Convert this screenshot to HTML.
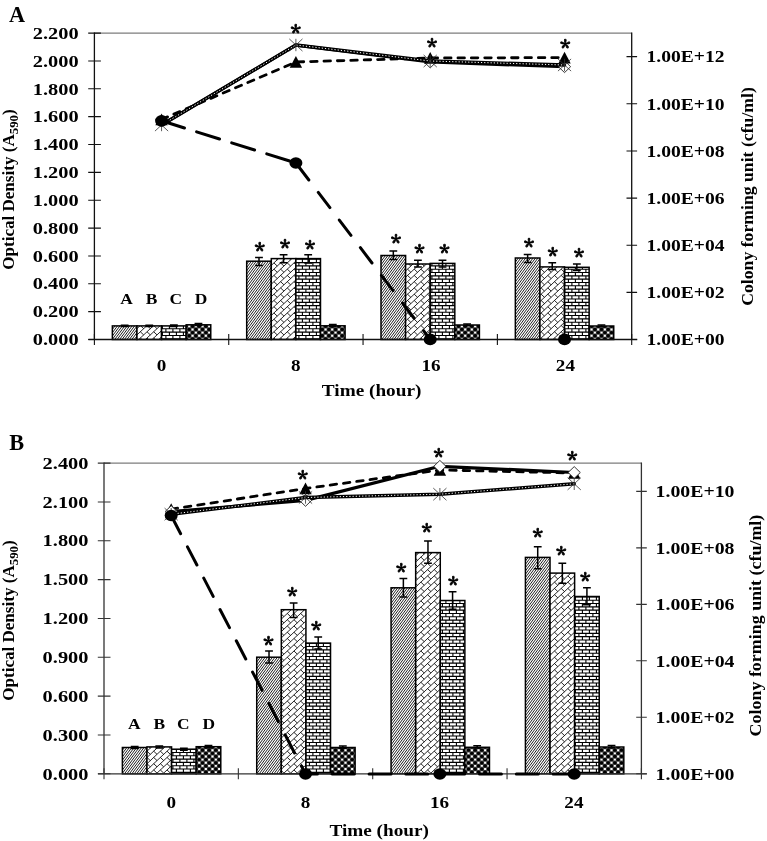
<!DOCTYPE html>
<html lang="en"><head><meta charset="utf-8"><title>Figure</title>
<style>html,body{margin:0;padding:0;background:#fff}svg{display:block}</style></head><body>
<svg width="767" height="841" viewBox="0 0 767 841">
<rect width="767" height="841" fill="#fff"/>
<g id="chartA">
<clipPath id="cA00"><rect x="112.36" y="325.90" width="24.60" height="13.60"/></clipPath>
<g clip-path="url(#cA00)"><rect x="112.36" y="325.9" width="24.6" height="13.6" fill="#fff"/><path d="M111.36,320.93L137.96,285.21M111.36,324.22L137.96,288.5M111.36,327.51L137.96,291.79M111.36,330.8L137.96,295.08M111.36,334.09L137.96,298.37M111.36,337.38L137.96,301.66M111.36,340.67L137.96,304.95M111.36,343.96L137.96,308.24M111.36,347.25L137.96,311.53M111.36,350.54L137.96,314.82M111.36,353.83L137.96,318.11M111.36,357.12L137.96,321.4M111.36,360.41L137.96,324.69M111.36,363.7L137.96,327.98M111.36,366.99L137.96,331.27M111.36,370.28L137.96,334.56M111.36,373.57L137.96,337.85M111.36,376.86L137.96,341.14M111.36,380.15L137.96,344.43" stroke="#000" stroke-width="0.88" fill="none"/></g>
<rect x="112.36" y="325.90" width="24.60" height="13.60" fill="none" stroke="#000" stroke-width="1.5"/>
<clipPath id="cA01"><rect x="136.96" y="325.90" width="24.60" height="13.60"/></clipPath>
<g clip-path="url(#cA01)"><rect x="136.96" y="325.9" width="24.6" height="13.6" fill="#fff"/><path d="M135.96,317.07L162.56,292.15M135.96,323.33L162.56,298.41M135.96,329.59L162.56,304.67M135.96,335.85L162.56,310.93M135.96,342.11L162.56,317.19M135.96,348.37L162.56,323.45M135.96,354.63L162.56,329.71M135.96,360.89L162.56,335.97M135.96,367.15L162.56,342.23M135.96,373.41L162.56,348.49M120.28,312.99L123.62,316.12M120.28,319.25L123.62,322.38M120.28,325.51L123.62,328.64M120.28,331.77L123.62,334.9M120.28,338.03L123.62,341.16M120.28,344.29L123.62,347.42M126.96,312.99L130.3,316.12M126.96,319.25L130.3,322.38M126.96,325.51L130.3,328.64M126.96,331.77L130.3,334.9M126.96,338.03L130.3,341.16M126.96,344.29L130.3,347.42M133.64,312.99L136.98,316.12M133.64,319.25L136.98,322.38M133.64,325.51L136.98,328.64M133.64,331.77L136.98,334.9M133.64,338.03L136.98,341.16M133.64,344.29L136.98,347.42M140.32,312.99L143.66,316.12M140.32,319.25L143.66,322.38M140.32,325.51L143.66,328.64M140.32,331.77L143.66,334.9M140.32,338.03L143.66,341.16M140.32,344.29L143.66,347.42M147,312.99L150.34,316.12M147,319.25L150.34,322.38M147,325.51L150.34,328.64M147,331.77L150.34,334.9M147,338.03L150.34,341.16M147,344.29L150.34,347.42M153.68,312.99L157.02,316.12M153.68,319.25L157.02,322.38M153.68,325.51L157.02,328.64M153.68,331.77L157.02,334.9M153.68,338.03L157.02,341.16M153.68,344.29L157.02,347.42M160.36,312.99L163.7,316.12M160.36,319.25L163.7,322.38M160.36,325.51L163.7,328.64M160.36,331.77L163.7,334.9M160.36,338.03L163.7,341.16M160.36,344.29L163.7,347.42M167.04,312.99L170.38,316.12M167.04,319.25L170.38,322.38M167.04,325.51L170.38,328.64M167.04,331.77L170.38,334.9M167.04,338.03L170.38,341.16M167.04,344.29L170.38,347.42" stroke="#000" stroke-width="0.85" fill="none"/></g>
<rect x="136.96" y="325.90" width="24.60" height="13.60" fill="none" stroke="#000" stroke-width="1.5"/>
<clipPath id="cA02"><rect x="161.56" y="325.90" width="24.60" height="13.60"/></clipPath>
<g clip-path="url(#cA02)"><rect x="161.56" y="325.9" width="24.6" height="13.6" fill="#fff"/><path d="M160.56,322.19H187.16M151.9,322.19v3.31M158.9,322.19v3.31M165.9,322.19v3.31M172.9,322.19v3.31M179.9,322.19v3.31M186.9,322.19v3.31M193.9,322.19v3.31M160.56,325.5H187.16M148.4,325.5v3.31M155.4,325.5v3.31M162.4,325.5v3.31M169.4,325.5v3.31M176.4,325.5v3.31M183.4,325.5v3.31M190.4,325.5v3.31M197.4,325.5v3.31M160.56,328.81H187.16M151.9,328.81v3.31M158.9,328.81v3.31M165.9,328.81v3.31M172.9,328.81v3.31M179.9,328.81v3.31M186.9,328.81v3.31M193.9,328.81v3.31M160.56,332.12H187.16M148.4,332.12v3.31M155.4,332.12v3.31M162.4,332.12v3.31M169.4,332.12v3.31M176.4,332.12v3.31M183.4,332.12v3.31M190.4,332.12v3.31M197.4,332.12v3.31M160.56,335.43H187.16M151.9,335.43v3.31M158.9,335.43v3.31M165.9,335.43v3.31M172.9,335.43v3.31M179.9,335.43v3.31M186.9,335.43v3.31M193.9,335.43v3.31M160.56,338.74H187.16M148.4,338.74v3.31M155.4,338.74v3.31M162.4,338.74v3.31M169.4,338.74v3.31M176.4,338.74v3.31M183.4,338.74v3.31M190.4,338.74v3.31M197.4,338.74v3.31M160.56,342.05H187.16M151.9,342.05v3.31M158.9,342.05v3.31M165.9,342.05v3.31M172.9,342.05v3.31M179.9,342.05v3.31M186.9,342.05v3.31M193.9,342.05v3.31M160.56,345.36H187.16M148.4,345.36v3.31M155.4,345.36v3.31M162.4,345.36v3.31M169.4,345.36v3.31M176.4,345.36v3.31M183.4,345.36v3.31M190.4,345.36v3.31M197.4,345.36v3.31" stroke="#000" stroke-width="1.1" fill="none"/></g>
<rect x="161.56" y="325.90" width="24.60" height="13.60" fill="none" stroke="#000" stroke-width="1.5"/>
<clipPath id="cA03"><rect x="186.16" y="324.80" width="24.60" height="14.70"/></clipPath>
<g clip-path="url(#cA03)"><rect x="186.16" y="324.8" width="24.6" height="14.7" fill="#4a4a4a"/><g fill="#000"><ellipse cx="189.22" cy="323.16" rx="1.75" ry="1.62"/><ellipse cx="185.9" cy="326.3" rx="1.75" ry="1.62"/><ellipse cx="189.22" cy="329.44" rx="1.75" ry="1.62"/><ellipse cx="185.9" cy="332.58" rx="1.75" ry="1.62"/><ellipse cx="189.22" cy="335.72" rx="1.75" ry="1.62"/><ellipse cx="185.9" cy="338.86" rx="1.75" ry="1.62"/><ellipse cx="195.87" cy="323.16" rx="1.75" ry="1.62"/><ellipse cx="192.55" cy="326.3" rx="1.75" ry="1.62"/><ellipse cx="195.87" cy="329.44" rx="1.75" ry="1.62"/><ellipse cx="192.55" cy="332.58" rx="1.75" ry="1.62"/><ellipse cx="195.87" cy="335.72" rx="1.75" ry="1.62"/><ellipse cx="192.55" cy="338.86" rx="1.75" ry="1.62"/><ellipse cx="202.52" cy="323.16" rx="1.75" ry="1.62"/><ellipse cx="199.2" cy="326.3" rx="1.75" ry="1.62"/><ellipse cx="202.52" cy="329.44" rx="1.75" ry="1.62"/><ellipse cx="199.2" cy="332.58" rx="1.75" ry="1.62"/><ellipse cx="202.52" cy="335.72" rx="1.75" ry="1.62"/><ellipse cx="199.2" cy="338.86" rx="1.75" ry="1.62"/><ellipse cx="209.17" cy="323.16" rx="1.75" ry="1.62"/><ellipse cx="205.85" cy="326.3" rx="1.75" ry="1.62"/><ellipse cx="209.17" cy="329.44" rx="1.75" ry="1.62"/><ellipse cx="205.85" cy="332.58" rx="1.75" ry="1.62"/><ellipse cx="209.17" cy="335.72" rx="1.75" ry="1.62"/><ellipse cx="205.85" cy="338.86" rx="1.75" ry="1.62"/><ellipse cx="212.5" cy="326.3" rx="1.75" ry="1.62"/><ellipse cx="212.5" cy="332.58" rx="1.75" ry="1.62"/><ellipse cx="212.5" cy="338.86" rx="1.75" ry="1.62"/></g><path d="M184.85,322.21h2.1v1.9h-2.1zM188.17,325.35h2.1v1.9h-2.1zM184.85,328.49h2.1v1.9h-2.1zM188.17,331.63h2.1v1.9h-2.1zM184.85,334.77h2.1v1.9h-2.1zM188.17,337.91h2.1v1.9h-2.1zM191.5,322.21h2.1v1.9h-2.1zM194.82,325.35h2.1v1.9h-2.1zM191.5,328.49h2.1v1.9h-2.1zM194.82,331.63h2.1v1.9h-2.1zM191.5,334.77h2.1v1.9h-2.1zM194.82,337.91h2.1v1.9h-2.1zM198.15,322.21h2.1v1.9h-2.1zM201.47,325.35h2.1v1.9h-2.1zM198.15,328.49h2.1v1.9h-2.1zM201.47,331.63h2.1v1.9h-2.1zM198.15,334.77h2.1v1.9h-2.1zM201.47,337.91h2.1v1.9h-2.1zM204.8,322.21h2.1v1.9h-2.1zM208.12,325.35h2.1v1.9h-2.1zM204.8,328.49h2.1v1.9h-2.1zM208.12,331.63h2.1v1.9h-2.1zM204.8,334.77h2.1v1.9h-2.1zM208.12,337.91h2.1v1.9h-2.1zM211.45,322.21h2.1v1.9h-2.1zM211.45,328.49h2.1v1.9h-2.1zM211.45,334.77h2.1v1.9h-2.1z" fill="#fff"/></g>
<rect x="186.16" y="324.80" width="24.60" height="14.70" fill="none" stroke="#000" stroke-width="1.5"/>
<clipPath id="cA10"><rect x="246.69" y="261.20" width="24.60" height="78.30"/></clipPath>
<g clip-path="url(#cA10)"><rect x="246.69" y="261.2" width="24.6" height="78.3" fill="#fff"/><path d="M245.69,258.99L272.29,223.27M245.69,262.28L272.29,226.56M245.69,265.57L272.29,229.85M245.69,268.86L272.29,233.14M245.69,272.15L272.29,236.43M245.69,275.44L272.29,239.72M245.69,278.73L272.29,243.01M245.69,282.02L272.29,246.3M245.69,285.31L272.29,249.59M245.69,288.6L272.29,252.88M245.69,291.89L272.29,256.17M245.69,295.18L272.29,259.46M245.69,298.47L272.29,262.75M245.69,301.76L272.29,266.04M245.69,305.05L272.29,269.33M245.69,308.34L272.29,272.62M245.69,311.63L272.29,275.91M245.69,314.92L272.29,279.2M245.69,318.21L272.29,282.49M245.69,321.5L272.29,285.78M245.69,324.79L272.29,289.07M245.69,328.08L272.29,292.36M245.69,331.37L272.29,295.65M245.69,334.66L272.29,298.94M245.69,337.95L272.29,302.23M245.69,341.24L272.29,305.52M245.69,344.53L272.29,308.81M245.69,347.82L272.29,312.1M245.69,351.11L272.29,315.39M245.69,354.4L272.29,318.68M245.69,357.69L272.29,321.97M245.69,360.98L272.29,325.26M245.69,364.27L272.29,328.55M245.69,367.56L272.29,331.84M245.69,370.85L272.29,335.13M245.69,374.14L272.29,338.42M245.69,377.43L272.29,341.71" stroke="#000" stroke-width="0.88" fill="none"/></g>
<rect x="246.69" y="261.20" width="24.60" height="78.30" fill="none" stroke="#000" stroke-width="1.5"/>
<clipPath id="cA11"><rect x="271.29" y="258.60" width="24.60" height="80.90"/></clipPath>
<g clip-path="url(#cA11)"><rect x="271.29" y="258.6" width="24.6" height="80.9" fill="#fff"/><path d="M270.29,247.53L296.89,222.61M270.29,253.79L296.89,228.87M270.29,260.05L296.89,235.13M270.29,266.31L296.89,241.39M270.29,272.57L296.89,247.65M270.29,278.83L296.89,253.91M270.29,285.09L296.89,260.17M270.29,291.35L296.89,266.43M270.29,297.61L296.89,272.69M270.29,303.87L296.89,278.95M270.29,310.13L296.89,285.21M270.29,316.39L296.89,291.47M270.29,322.65L296.89,297.73M270.29,328.91L296.89,303.99M270.29,335.17L296.89,310.25M270.29,341.43L296.89,316.51M270.29,347.69L296.89,322.77M270.29,353.95L296.89,329.03M270.29,360.21L296.89,335.29M270.29,366.47L296.89,341.55M270.29,372.73L296.89,347.81M260.56,244.13L263.9,247.26M260.56,250.39L263.9,253.52M260.56,256.65L263.9,259.78M260.56,262.91L263.9,266.04M260.56,269.17L263.9,272.3M260.56,275.43L263.9,278.56M260.56,281.69L263.9,284.82M260.56,287.95L263.9,291.08M260.56,294.21L263.9,297.34M260.56,300.47L263.9,303.6M260.56,306.73L263.9,309.86M260.56,312.99L263.9,316.12M260.56,319.25L263.9,322.38M260.56,325.51L263.9,328.64M260.56,331.77L263.9,334.9M260.56,338.03L263.9,341.16M260.56,344.29L263.9,347.42M267.24,244.13L270.58,247.26M267.24,250.39L270.58,253.52M267.24,256.65L270.58,259.78M267.24,262.91L270.58,266.04M267.24,269.17L270.58,272.3M267.24,275.43L270.58,278.56M267.24,281.69L270.58,284.82M267.24,287.95L270.58,291.08M267.24,294.21L270.58,297.34M267.24,300.47L270.58,303.6M267.24,306.73L270.58,309.86M267.24,312.99L270.58,316.12M267.24,319.25L270.58,322.38M267.24,325.51L270.58,328.64M267.24,331.77L270.58,334.9M267.24,338.03L270.58,341.16M267.24,344.29L270.58,347.42M273.92,244.13L277.26,247.26M273.92,250.39L277.26,253.52M273.92,256.65L277.26,259.78M273.92,262.91L277.26,266.04M273.92,269.17L277.26,272.3M273.92,275.43L277.26,278.56M273.92,281.69L277.26,284.82M273.92,287.95L277.26,291.08M273.92,294.21L277.26,297.34M273.92,300.47L277.26,303.6M273.92,306.73L277.26,309.86M273.92,312.99L277.26,316.12M273.92,319.25L277.26,322.38M273.92,325.51L277.26,328.64M273.92,331.77L277.26,334.9M273.92,338.03L277.26,341.16M273.92,344.29L277.26,347.42M280.6,244.13L283.94,247.26M280.6,250.39L283.94,253.52M280.6,256.65L283.94,259.78M280.6,262.91L283.94,266.04M280.6,269.17L283.94,272.3M280.6,275.43L283.94,278.56M280.6,281.69L283.94,284.82M280.6,287.95L283.94,291.08M280.6,294.21L283.94,297.34M280.6,300.47L283.94,303.6M280.6,306.73L283.94,309.86M280.6,312.99L283.94,316.12M280.6,319.25L283.94,322.38M280.6,325.51L283.94,328.64M280.6,331.77L283.94,334.9M280.6,338.03L283.94,341.16M280.6,344.29L283.94,347.42M287.28,244.13L290.62,247.26M287.28,250.39L290.62,253.52M287.28,256.65L290.62,259.78M287.28,262.91L290.62,266.04M287.28,269.17L290.62,272.3M287.28,275.43L290.62,278.56M287.28,281.69L290.62,284.82M287.28,287.95L290.62,291.08M287.28,294.21L290.62,297.34M287.28,300.47L290.62,303.6M287.28,306.73L290.62,309.86M287.28,312.99L290.62,316.12M287.28,319.25L290.62,322.38M287.28,325.51L290.62,328.64M287.28,331.77L290.62,334.9M287.28,338.03L290.62,341.16M287.28,344.29L290.62,347.42M293.96,244.13L297.3,247.26M293.96,250.39L297.3,253.52M293.96,256.65L297.3,259.78M293.96,262.91L297.3,266.04M293.96,269.17L297.3,272.3M293.96,275.43L297.3,278.56M293.96,281.69L297.3,284.82M293.96,287.95L297.3,291.08M293.96,294.21L297.3,297.34M293.96,300.47L297.3,303.6M293.96,306.73L297.3,309.86M293.96,312.99L297.3,316.12M293.96,319.25L297.3,322.38M293.96,325.51L297.3,328.64M293.96,331.77L297.3,334.9M293.96,338.03L297.3,341.16M293.96,344.29L297.3,347.42M300.64,244.13L303.98,247.26M300.64,250.39L303.98,253.52M300.64,256.65L303.98,259.78M300.64,262.91L303.98,266.04M300.64,269.17L303.98,272.3M300.64,275.43L303.98,278.56M300.64,281.69L303.98,284.82M300.64,287.95L303.98,291.08M300.64,294.21L303.98,297.34M300.64,300.47L303.98,303.6M300.64,306.73L303.98,309.86M300.64,312.99L303.98,316.12M300.64,319.25L303.98,322.38M300.64,325.51L303.98,328.64M300.64,331.77L303.98,334.9M300.64,338.03L303.98,341.16M300.64,344.29L303.98,347.42" stroke="#000" stroke-width="0.85" fill="none"/></g>
<rect x="271.29" y="258.60" width="24.60" height="80.90" fill="none" stroke="#000" stroke-width="1.5"/>
<clipPath id="cA12"><rect x="295.89" y="258.60" width="24.60" height="80.90"/></clipPath>
<g clip-path="url(#cA12)"><rect x="295.89" y="258.6" width="24.6" height="80.9" fill="#fff"/><path d="M294.89,252.68H321.49M288.4,252.68v3.31M295.4,252.68v3.31M302.4,252.68v3.31M309.4,252.68v3.31M316.4,252.68v3.31M323.4,252.68v3.31M330.4,252.68v3.31M294.89,255.99H321.49M284.9,255.99v3.31M291.9,255.99v3.31M298.9,255.99v3.31M305.9,255.99v3.31M312.9,255.99v3.31M319.9,255.99v3.31M326.9,255.99v3.31M333.9,255.99v3.31M294.89,259.3H321.49M288.4,259.3v3.31M295.4,259.3v3.31M302.4,259.3v3.31M309.4,259.3v3.31M316.4,259.3v3.31M323.4,259.3v3.31M330.4,259.3v3.31M294.89,262.61H321.49M284.9,262.61v3.31M291.9,262.61v3.31M298.9,262.61v3.31M305.9,262.61v3.31M312.9,262.61v3.31M319.9,262.61v3.31M326.9,262.61v3.31M333.9,262.61v3.31M294.89,265.92H321.49M288.4,265.92v3.31M295.4,265.92v3.31M302.4,265.92v3.31M309.4,265.92v3.31M316.4,265.92v3.31M323.4,265.92v3.31M330.4,265.92v3.31M294.89,269.23H321.49M284.9,269.23v3.31M291.9,269.23v3.31M298.9,269.23v3.31M305.9,269.23v3.31M312.9,269.23v3.31M319.9,269.23v3.31M326.9,269.23v3.31M333.9,269.23v3.31M294.89,272.54H321.49M288.4,272.54v3.31M295.4,272.54v3.31M302.4,272.54v3.31M309.4,272.54v3.31M316.4,272.54v3.31M323.4,272.54v3.31M330.4,272.54v3.31M294.89,275.85H321.49M284.9,275.85v3.31M291.9,275.85v3.31M298.9,275.85v3.31M305.9,275.85v3.31M312.9,275.85v3.31M319.9,275.85v3.31M326.9,275.85v3.31M333.9,275.85v3.31M294.89,279.16H321.49M288.4,279.16v3.31M295.4,279.16v3.31M302.4,279.16v3.31M309.4,279.16v3.31M316.4,279.16v3.31M323.4,279.16v3.31M330.4,279.16v3.31M294.89,282.47H321.49M284.9,282.47v3.31M291.9,282.47v3.31M298.9,282.47v3.31M305.9,282.47v3.31M312.9,282.47v3.31M319.9,282.47v3.31M326.9,282.47v3.31M333.9,282.47v3.31M294.89,285.78H321.49M288.4,285.78v3.31M295.4,285.78v3.31M302.4,285.78v3.31M309.4,285.78v3.31M316.4,285.78v3.31M323.4,285.78v3.31M330.4,285.78v3.31M294.89,289.09H321.49M284.9,289.09v3.31M291.9,289.09v3.31M298.9,289.09v3.31M305.9,289.09v3.31M312.9,289.09v3.31M319.9,289.09v3.31M326.9,289.09v3.31M333.9,289.09v3.31M294.89,292.4H321.49M288.4,292.4v3.31M295.4,292.4v3.31M302.4,292.4v3.31M309.4,292.4v3.31M316.4,292.4v3.31M323.4,292.4v3.31M330.4,292.4v3.31M294.89,295.71H321.49M284.9,295.71v3.31M291.9,295.71v3.31M298.9,295.71v3.31M305.9,295.71v3.31M312.9,295.71v3.31M319.9,295.71v3.31M326.9,295.71v3.31M333.9,295.71v3.31M294.89,299.02H321.49M288.4,299.02v3.31M295.4,299.02v3.31M302.4,299.02v3.31M309.4,299.02v3.31M316.4,299.02v3.31M323.4,299.02v3.31M330.4,299.02v3.31M294.89,302.33H321.49M284.9,302.33v3.31M291.9,302.33v3.31M298.9,302.33v3.31M305.9,302.33v3.31M312.9,302.33v3.31M319.9,302.33v3.31M326.9,302.33v3.31M333.9,302.33v3.31M294.89,305.64H321.49M288.4,305.64v3.31M295.4,305.64v3.31M302.4,305.64v3.31M309.4,305.64v3.31M316.4,305.64v3.31M323.4,305.64v3.31M330.4,305.64v3.31M294.89,308.95H321.49M284.9,308.95v3.31M291.9,308.95v3.31M298.9,308.95v3.31M305.9,308.95v3.31M312.9,308.95v3.31M319.9,308.95v3.31M326.9,308.95v3.31M333.9,308.95v3.31M294.89,312.26H321.49M288.4,312.26v3.31M295.4,312.26v3.31M302.4,312.26v3.31M309.4,312.26v3.31M316.4,312.26v3.31M323.4,312.26v3.31M330.4,312.26v3.31M294.89,315.57H321.49M284.9,315.57v3.31M291.9,315.57v3.31M298.9,315.57v3.31M305.9,315.57v3.31M312.9,315.57v3.31M319.9,315.57v3.31M326.9,315.57v3.31M333.9,315.57v3.31M294.89,318.88H321.49M288.4,318.88v3.31M295.4,318.88v3.31M302.4,318.88v3.31M309.4,318.88v3.31M316.4,318.88v3.31M323.4,318.88v3.31M330.4,318.88v3.31M294.89,322.19H321.49M284.9,322.19v3.31M291.9,322.19v3.31M298.9,322.19v3.31M305.9,322.19v3.31M312.9,322.19v3.31M319.9,322.19v3.31M326.9,322.19v3.31M333.9,322.19v3.31M294.89,325.5H321.49M288.4,325.5v3.31M295.4,325.5v3.31M302.4,325.5v3.31M309.4,325.5v3.31M316.4,325.5v3.31M323.4,325.5v3.31M330.4,325.5v3.31M294.89,328.81H321.49M284.9,328.81v3.31M291.9,328.81v3.31M298.9,328.81v3.31M305.9,328.81v3.31M312.9,328.81v3.31M319.9,328.81v3.31M326.9,328.81v3.31M333.9,328.81v3.31M294.89,332.12H321.49M288.4,332.12v3.31M295.4,332.12v3.31M302.4,332.12v3.31M309.4,332.12v3.31M316.4,332.12v3.31M323.4,332.12v3.31M330.4,332.12v3.31M294.89,335.43H321.49M284.9,335.43v3.31M291.9,335.43v3.31M298.9,335.43v3.31M305.9,335.43v3.31M312.9,335.43v3.31M319.9,335.43v3.31M326.9,335.43v3.31M333.9,335.43v3.31M294.89,338.74H321.49M288.4,338.74v3.31M295.4,338.74v3.31M302.4,338.74v3.31M309.4,338.74v3.31M316.4,338.74v3.31M323.4,338.74v3.31M330.4,338.74v3.31M294.89,342.05H321.49M284.9,342.05v3.31M291.9,342.05v3.31M298.9,342.05v3.31M305.9,342.05v3.31M312.9,342.05v3.31M319.9,342.05v3.31M326.9,342.05v3.31M333.9,342.05v3.31M294.89,345.36H321.49M288.4,345.36v3.31M295.4,345.36v3.31M302.4,345.36v3.31M309.4,345.36v3.31M316.4,345.36v3.31M323.4,345.36v3.31M330.4,345.36v3.31" stroke="#000" stroke-width="1.1" fill="none"/></g>
<rect x="295.89" y="258.60" width="24.60" height="80.90" fill="none" stroke="#000" stroke-width="1.5"/>
<clipPath id="cA13"><rect x="320.49" y="325.80" width="24.60" height="13.70"/></clipPath>
<g clip-path="url(#cA13)"><rect x="320.49" y="325.8" width="24.6" height="13.7" fill="#4a4a4a"/><g fill="#000"><ellipse cx="318.9" cy="326.3" rx="1.75" ry="1.62"/><ellipse cx="322.22" cy="329.44" rx="1.75" ry="1.62"/><ellipse cx="318.9" cy="332.58" rx="1.75" ry="1.62"/><ellipse cx="322.22" cy="335.72" rx="1.75" ry="1.62"/><ellipse cx="318.9" cy="338.86" rx="1.75" ry="1.62"/><ellipse cx="325.55" cy="326.3" rx="1.75" ry="1.62"/><ellipse cx="328.88" cy="329.44" rx="1.75" ry="1.62"/><ellipse cx="325.55" cy="332.58" rx="1.75" ry="1.62"/><ellipse cx="328.88" cy="335.72" rx="1.75" ry="1.62"/><ellipse cx="325.55" cy="338.86" rx="1.75" ry="1.62"/><ellipse cx="332.2" cy="326.3" rx="1.75" ry="1.62"/><ellipse cx="335.52" cy="329.44" rx="1.75" ry="1.62"/><ellipse cx="332.2" cy="332.58" rx="1.75" ry="1.62"/><ellipse cx="335.52" cy="335.72" rx="1.75" ry="1.62"/><ellipse cx="332.2" cy="338.86" rx="1.75" ry="1.62"/><ellipse cx="338.85" cy="326.3" rx="1.75" ry="1.62"/><ellipse cx="342.18" cy="329.44" rx="1.75" ry="1.62"/><ellipse cx="338.85" cy="332.58" rx="1.75" ry="1.62"/><ellipse cx="342.18" cy="335.72" rx="1.75" ry="1.62"/><ellipse cx="338.85" cy="338.86" rx="1.75" ry="1.62"/><ellipse cx="345.5" cy="326.3" rx="1.75" ry="1.62"/><ellipse cx="345.5" cy="332.58" rx="1.75" ry="1.62"/><ellipse cx="345.5" cy="338.86" rx="1.75" ry="1.62"/></g><path d="M321.17,325.35h2.1v1.9h-2.1zM317.85,328.49h2.1v1.9h-2.1zM321.17,331.63h2.1v1.9h-2.1zM317.85,334.77h2.1v1.9h-2.1zM321.17,337.91h2.1v1.9h-2.1zM327.82,325.35h2.1v1.9h-2.1zM324.5,328.49h2.1v1.9h-2.1zM327.82,331.63h2.1v1.9h-2.1zM324.5,334.77h2.1v1.9h-2.1zM327.82,337.91h2.1v1.9h-2.1zM334.47,325.35h2.1v1.9h-2.1zM331.15,328.49h2.1v1.9h-2.1zM334.47,331.63h2.1v1.9h-2.1zM331.15,334.77h2.1v1.9h-2.1zM334.47,337.91h2.1v1.9h-2.1zM341.12,325.35h2.1v1.9h-2.1zM337.8,328.49h2.1v1.9h-2.1zM341.12,331.63h2.1v1.9h-2.1zM337.8,334.77h2.1v1.9h-2.1zM341.12,337.91h2.1v1.9h-2.1zM344.45,328.49h2.1v1.9h-2.1zM344.45,334.77h2.1v1.9h-2.1z" fill="#fff"/></g>
<rect x="320.49" y="325.80" width="24.60" height="13.70" fill="none" stroke="#000" stroke-width="1.5"/>
<clipPath id="cA20"><rect x="381.01" y="255.50" width="24.60" height="84.00"/></clipPath>
<g clip-path="url(#cA20)"><rect x="381.01" y="255.5" width="24.6" height="84" fill="#fff"/><path d="M380.01,252.98L406.61,217.26M380.01,256.27L406.61,220.55M380.01,259.56L406.61,223.84M380.01,262.85L406.61,227.13M380.01,266.14L406.61,230.42M380.01,269.43L406.61,233.71M380.01,272.72L406.61,237M380.01,276.01L406.61,240.29M380.01,279.3L406.61,243.58M380.01,282.59L406.61,246.87M380.01,285.88L406.61,250.16M380.01,289.17L406.61,253.45M380.01,292.46L406.61,256.74M380.01,295.75L406.61,260.03M380.01,299.04L406.61,263.32M380.01,302.33L406.61,266.61M380.01,305.62L406.61,269.9M380.01,308.91L406.61,273.19M380.01,312.2L406.61,276.48M380.01,315.49L406.61,279.77M380.01,318.78L406.61,283.06M380.01,322.07L406.61,286.35M380.01,325.36L406.61,289.64M380.01,328.65L406.61,292.93M380.01,331.94L406.61,296.22M380.01,335.23L406.61,299.51M380.01,338.52L406.61,302.8M380.01,341.81L406.61,306.09M380.01,345.1L406.61,309.38M380.01,348.39L406.61,312.67M380.01,351.68L406.61,315.96M380.01,354.97L406.61,319.25M380.01,358.26L406.61,322.54M380.01,361.55L406.61,325.83M380.01,364.84L406.61,329.12M380.01,368.13L406.61,332.41M380.01,371.42L406.61,335.7M380.01,374.71L406.61,338.99M380.01,378L406.61,342.28" stroke="#000" stroke-width="0.88" fill="none"/></g>
<rect x="381.01" y="255.50" width="24.60" height="84.00" fill="none" stroke="#000" stroke-width="1.5"/>
<clipPath id="cA21"><rect x="405.61" y="264.00" width="24.60" height="75.50"/></clipPath>
<g clip-path="url(#cA21)"><rect x="405.61" y="264" width="24.6" height="75.5" fill="#fff"/><path d="M404.61,253.11L431.21,228.19M404.61,259.37L431.21,234.45M404.61,265.63L431.21,240.71M404.61,271.89L431.21,246.97M404.61,278.15L431.21,253.23M404.61,284.41L431.21,259.49M404.61,290.67L431.21,265.75M404.61,296.93L431.21,272.01M404.61,303.19L431.21,278.27M404.61,309.45L431.21,284.53M404.61,315.71L431.21,290.79M404.61,321.97L431.21,297.05M404.61,328.23L431.21,303.31M404.61,334.49L431.21,309.57M404.61,340.75L431.21,315.83M404.61,347.01L431.21,322.09M404.61,353.27L431.21,328.35M404.61,359.53L431.21,334.61M404.61,365.79L431.21,340.87M404.61,372.05L431.21,347.13M394.16,250.39L397.5,253.52M394.16,256.65L397.5,259.78M394.16,262.91L397.5,266.04M394.16,269.17L397.5,272.3M394.16,275.43L397.5,278.56M394.16,281.69L397.5,284.82M394.16,287.95L397.5,291.08M394.16,294.21L397.5,297.34M394.16,300.47L397.5,303.6M394.16,306.73L397.5,309.86M394.16,312.99L397.5,316.12M394.16,319.25L397.5,322.38M394.16,325.51L397.5,328.64M394.16,331.77L397.5,334.9M394.16,338.03L397.5,341.16M394.16,344.29L397.5,347.42M400.84,250.39L404.18,253.52M400.84,256.65L404.18,259.78M400.84,262.91L404.18,266.04M400.84,269.17L404.18,272.3M400.84,275.43L404.18,278.56M400.84,281.69L404.18,284.82M400.84,287.95L404.18,291.08M400.84,294.21L404.18,297.34M400.84,300.47L404.18,303.6M400.84,306.73L404.18,309.86M400.84,312.99L404.18,316.12M400.84,319.25L404.18,322.38M400.84,325.51L404.18,328.64M400.84,331.77L404.18,334.9M400.84,338.03L404.18,341.16M400.84,344.29L404.18,347.42M407.52,250.39L410.86,253.52M407.52,256.65L410.86,259.78M407.52,262.91L410.86,266.04M407.52,269.17L410.86,272.3M407.52,275.43L410.86,278.56M407.52,281.69L410.86,284.82M407.52,287.95L410.86,291.08M407.52,294.21L410.86,297.34M407.52,300.47L410.86,303.6M407.52,306.73L410.86,309.86M407.52,312.99L410.86,316.12M407.52,319.25L410.86,322.38M407.52,325.51L410.86,328.64M407.52,331.77L410.86,334.9M407.52,338.03L410.86,341.16M407.52,344.29L410.86,347.42M414.2,250.39L417.54,253.52M414.2,256.65L417.54,259.78M414.2,262.91L417.54,266.04M414.2,269.17L417.54,272.3M414.2,275.43L417.54,278.56M414.2,281.69L417.54,284.82M414.2,287.95L417.54,291.08M414.2,294.21L417.54,297.34M414.2,300.47L417.54,303.6M414.2,306.73L417.54,309.86M414.2,312.99L417.54,316.12M414.2,319.25L417.54,322.38M414.2,325.51L417.54,328.64M414.2,331.77L417.54,334.9M414.2,338.03L417.54,341.16M414.2,344.29L417.54,347.42M420.88,250.39L424.22,253.52M420.88,256.65L424.22,259.78M420.88,262.91L424.22,266.04M420.88,269.17L424.22,272.3M420.88,275.43L424.22,278.56M420.88,281.69L424.22,284.82M420.88,287.95L424.22,291.08M420.88,294.21L424.22,297.34M420.88,300.47L424.22,303.6M420.88,306.73L424.22,309.86M420.88,312.99L424.22,316.12M420.88,319.25L424.22,322.38M420.88,325.51L424.22,328.64M420.88,331.77L424.22,334.9M420.88,338.03L424.22,341.16M420.88,344.29L424.22,347.42M427.56,250.39L430.9,253.52M427.56,256.65L430.9,259.78M427.56,262.91L430.9,266.04M427.56,269.17L430.9,272.3M427.56,275.43L430.9,278.56M427.56,281.69L430.9,284.82M427.56,287.95L430.9,291.08M427.56,294.21L430.9,297.34M427.56,300.47L430.9,303.6M427.56,306.73L430.9,309.86M427.56,312.99L430.9,316.12M427.56,319.25L430.9,322.38M427.56,325.51L430.9,328.64M427.56,331.77L430.9,334.9M427.56,338.03L430.9,341.16M427.56,344.29L430.9,347.42M434.24,250.39L437.58,253.52M434.24,256.65L437.58,259.78M434.24,262.91L437.58,266.04M434.24,269.17L437.58,272.3M434.24,275.43L437.58,278.56M434.24,281.69L437.58,284.82M434.24,287.95L437.58,291.08M434.24,294.21L437.58,297.34M434.24,300.47L437.58,303.6M434.24,306.73L437.58,309.86M434.24,312.99L437.58,316.12M434.24,319.25L437.58,322.38M434.24,325.51L437.58,328.64M434.24,331.77L437.58,334.9M434.24,338.03L437.58,341.16M434.24,344.29L437.58,347.42" stroke="#000" stroke-width="0.85" fill="none"/></g>
<rect x="405.61" y="264.00" width="24.60" height="75.50" fill="none" stroke="#000" stroke-width="1.5"/>
<clipPath id="cA22"><rect x="430.21" y="263.40" width="24.60" height="76.10"/></clipPath>
<g clip-path="url(#cA22)"><rect x="430.21" y="263.4" width="24.6" height="76.1" fill="#fff"/><path d="M429.21,259.3H455.81M421.4,259.3v3.31M428.4,259.3v3.31M435.4,259.3v3.31M442.4,259.3v3.31M449.4,259.3v3.31M456.4,259.3v3.31M463.4,259.3v3.31M429.21,262.61H455.81M417.9,262.61v3.31M424.9,262.61v3.31M431.9,262.61v3.31M438.9,262.61v3.31M445.9,262.61v3.31M452.9,262.61v3.31M459.9,262.61v3.31M466.9,262.61v3.31M429.21,265.92H455.81M421.4,265.92v3.31M428.4,265.92v3.31M435.4,265.92v3.31M442.4,265.92v3.31M449.4,265.92v3.31M456.4,265.92v3.31M463.4,265.92v3.31M429.21,269.23H455.81M417.9,269.23v3.31M424.9,269.23v3.31M431.9,269.23v3.31M438.9,269.23v3.31M445.9,269.23v3.31M452.9,269.23v3.31M459.9,269.23v3.31M466.9,269.23v3.31M429.21,272.54H455.81M421.4,272.54v3.31M428.4,272.54v3.31M435.4,272.54v3.31M442.4,272.54v3.31M449.4,272.54v3.31M456.4,272.54v3.31M463.4,272.54v3.31M429.21,275.85H455.81M417.9,275.85v3.31M424.9,275.85v3.31M431.9,275.85v3.31M438.9,275.85v3.31M445.9,275.85v3.31M452.9,275.85v3.31M459.9,275.85v3.31M466.9,275.85v3.31M429.21,279.16H455.81M421.4,279.16v3.31M428.4,279.16v3.31M435.4,279.16v3.31M442.4,279.16v3.31M449.4,279.16v3.31M456.4,279.16v3.31M463.4,279.16v3.31M429.21,282.47H455.81M417.9,282.47v3.31M424.9,282.47v3.31M431.9,282.47v3.31M438.9,282.47v3.31M445.9,282.47v3.31M452.9,282.47v3.31M459.9,282.47v3.31M466.9,282.47v3.31M429.21,285.78H455.81M421.4,285.78v3.31M428.4,285.78v3.31M435.4,285.78v3.31M442.4,285.78v3.31M449.4,285.78v3.31M456.4,285.78v3.31M463.4,285.78v3.31M429.21,289.09H455.81M417.9,289.09v3.31M424.9,289.09v3.31M431.9,289.09v3.31M438.9,289.09v3.31M445.9,289.09v3.31M452.9,289.09v3.31M459.9,289.09v3.31M466.9,289.09v3.31M429.21,292.4H455.81M421.4,292.4v3.31M428.4,292.4v3.31M435.4,292.4v3.31M442.4,292.4v3.31M449.4,292.4v3.31M456.4,292.4v3.31M463.4,292.4v3.31M429.21,295.71H455.81M417.9,295.71v3.31M424.9,295.71v3.31M431.9,295.71v3.31M438.9,295.71v3.31M445.9,295.71v3.31M452.9,295.71v3.31M459.9,295.71v3.31M466.9,295.71v3.31M429.21,299.02H455.81M421.4,299.02v3.31M428.4,299.02v3.31M435.4,299.02v3.31M442.4,299.02v3.31M449.4,299.02v3.31M456.4,299.02v3.31M463.4,299.02v3.31M429.21,302.33H455.81M417.9,302.33v3.31M424.9,302.33v3.31M431.9,302.33v3.31M438.9,302.33v3.31M445.9,302.33v3.31M452.9,302.33v3.31M459.9,302.33v3.31M466.9,302.33v3.31M429.21,305.64H455.81M421.4,305.64v3.31M428.4,305.64v3.31M435.4,305.64v3.31M442.4,305.64v3.31M449.4,305.64v3.31M456.4,305.64v3.31M463.4,305.64v3.31M429.21,308.95H455.81M417.9,308.95v3.31M424.9,308.95v3.31M431.9,308.95v3.31M438.9,308.95v3.31M445.9,308.95v3.31M452.9,308.95v3.31M459.9,308.95v3.31M466.9,308.95v3.31M429.21,312.26H455.81M421.4,312.26v3.31M428.4,312.26v3.31M435.4,312.26v3.31M442.4,312.26v3.31M449.4,312.26v3.31M456.4,312.26v3.31M463.4,312.26v3.31M429.21,315.57H455.81M417.9,315.57v3.31M424.9,315.57v3.31M431.9,315.57v3.31M438.9,315.57v3.31M445.9,315.57v3.31M452.9,315.57v3.31M459.9,315.57v3.31M466.9,315.57v3.31M429.21,318.88H455.81M421.4,318.88v3.31M428.4,318.88v3.31M435.4,318.88v3.31M442.4,318.88v3.31M449.4,318.88v3.31M456.4,318.88v3.31M463.4,318.88v3.31M429.21,322.19H455.81M417.9,322.19v3.31M424.9,322.19v3.31M431.9,322.19v3.31M438.9,322.19v3.31M445.9,322.19v3.31M452.9,322.19v3.31M459.9,322.19v3.31M466.9,322.19v3.31M429.21,325.5H455.81M421.4,325.5v3.31M428.4,325.5v3.31M435.4,325.5v3.31M442.4,325.5v3.31M449.4,325.5v3.31M456.4,325.5v3.31M463.4,325.5v3.31M429.21,328.81H455.81M417.9,328.81v3.31M424.9,328.81v3.31M431.9,328.81v3.31M438.9,328.81v3.31M445.9,328.81v3.31M452.9,328.81v3.31M459.9,328.81v3.31M466.9,328.81v3.31M429.21,332.12H455.81M421.4,332.12v3.31M428.4,332.12v3.31M435.4,332.12v3.31M442.4,332.12v3.31M449.4,332.12v3.31M456.4,332.12v3.31M463.4,332.12v3.31M429.21,335.43H455.81M417.9,335.43v3.31M424.9,335.43v3.31M431.9,335.43v3.31M438.9,335.43v3.31M445.9,335.43v3.31M452.9,335.43v3.31M459.9,335.43v3.31M466.9,335.43v3.31M429.21,338.74H455.81M421.4,338.74v3.31M428.4,338.74v3.31M435.4,338.74v3.31M442.4,338.74v3.31M449.4,338.74v3.31M456.4,338.74v3.31M463.4,338.74v3.31M429.21,342.05H455.81M417.9,342.05v3.31M424.9,342.05v3.31M431.9,342.05v3.31M438.9,342.05v3.31M445.9,342.05v3.31M452.9,342.05v3.31M459.9,342.05v3.31M466.9,342.05v3.31M429.21,345.36H455.81M421.4,345.36v3.31M428.4,345.36v3.31M435.4,345.36v3.31M442.4,345.36v3.31M449.4,345.36v3.31M456.4,345.36v3.31M463.4,345.36v3.31" stroke="#000" stroke-width="1.1" fill="none"/></g>
<rect x="430.21" y="263.40" width="24.60" height="76.10" fill="none" stroke="#000" stroke-width="1.5"/>
<clipPath id="cA23"><rect x="454.81" y="325.00" width="24.60" height="14.50"/></clipPath>
<g clip-path="url(#cA23)"><rect x="454.81" y="325" width="24.6" height="14.5" fill="#4a4a4a"/><g fill="#000"><ellipse cx="455.23" cy="323.16" rx="1.75" ry="1.62"/><ellipse cx="455.23" cy="329.44" rx="1.75" ry="1.62"/><ellipse cx="455.23" cy="335.72" rx="1.75" ry="1.62"/><ellipse cx="461.88" cy="323.16" rx="1.75" ry="1.62"/><ellipse cx="458.55" cy="326.3" rx="1.75" ry="1.62"/><ellipse cx="461.88" cy="329.44" rx="1.75" ry="1.62"/><ellipse cx="458.55" cy="332.58" rx="1.75" ry="1.62"/><ellipse cx="461.88" cy="335.72" rx="1.75" ry="1.62"/><ellipse cx="458.55" cy="338.86" rx="1.75" ry="1.62"/><ellipse cx="468.52" cy="323.16" rx="1.75" ry="1.62"/><ellipse cx="465.2" cy="326.3" rx="1.75" ry="1.62"/><ellipse cx="468.52" cy="329.44" rx="1.75" ry="1.62"/><ellipse cx="465.2" cy="332.58" rx="1.75" ry="1.62"/><ellipse cx="468.52" cy="335.72" rx="1.75" ry="1.62"/><ellipse cx="465.2" cy="338.86" rx="1.75" ry="1.62"/><ellipse cx="475.17" cy="323.16" rx="1.75" ry="1.62"/><ellipse cx="471.85" cy="326.3" rx="1.75" ry="1.62"/><ellipse cx="475.17" cy="329.44" rx="1.75" ry="1.62"/><ellipse cx="471.85" cy="332.58" rx="1.75" ry="1.62"/><ellipse cx="475.17" cy="335.72" rx="1.75" ry="1.62"/><ellipse cx="471.85" cy="338.86" rx="1.75" ry="1.62"/><ellipse cx="478.5" cy="326.3" rx="1.75" ry="1.62"/><ellipse cx="478.5" cy="332.58" rx="1.75" ry="1.62"/><ellipse cx="478.5" cy="338.86" rx="1.75" ry="1.62"/></g><path d="M454.18,325.35h2.1v1.9h-2.1zM454.18,331.63h2.1v1.9h-2.1zM454.18,337.91h2.1v1.9h-2.1zM457.5,322.21h2.1v1.9h-2.1zM460.82,325.35h2.1v1.9h-2.1zM457.5,328.49h2.1v1.9h-2.1zM460.82,331.63h2.1v1.9h-2.1zM457.5,334.77h2.1v1.9h-2.1zM460.82,337.91h2.1v1.9h-2.1zM464.15,322.21h2.1v1.9h-2.1zM467.47,325.35h2.1v1.9h-2.1zM464.15,328.49h2.1v1.9h-2.1zM467.47,331.63h2.1v1.9h-2.1zM464.15,334.77h2.1v1.9h-2.1zM467.47,337.91h2.1v1.9h-2.1zM470.8,322.21h2.1v1.9h-2.1zM474.12,325.35h2.1v1.9h-2.1zM470.8,328.49h2.1v1.9h-2.1zM474.12,331.63h2.1v1.9h-2.1zM470.8,334.77h2.1v1.9h-2.1zM474.12,337.91h2.1v1.9h-2.1zM477.45,322.21h2.1v1.9h-2.1zM477.45,328.49h2.1v1.9h-2.1zM477.45,334.77h2.1v1.9h-2.1z" fill="#fff"/></g>
<rect x="454.81" y="325.00" width="24.60" height="14.50" fill="none" stroke="#000" stroke-width="1.5"/>
<clipPath id="cA30"><rect x="515.34" y="258.00" width="24.60" height="81.50"/></clipPath>
<g clip-path="url(#cA30)"><rect x="515.34" y="258" width="24.6" height="81.5" fill="#fff"/><path d="M514.34,253.55L540.94,217.83M514.34,256.84L540.94,221.12M514.34,260.13L540.94,224.41M514.34,263.42L540.94,227.7M514.34,266.71L540.94,230.99M514.34,270L540.94,234.28M514.34,273.29L540.94,237.57M514.34,276.58L540.94,240.86M514.34,279.87L540.94,244.15M514.34,283.16L540.94,247.44M514.34,286.45L540.94,250.73M514.34,289.74L540.94,254.02M514.34,293.03L540.94,257.31M514.34,296.32L540.94,260.6M514.34,299.61L540.94,263.89M514.34,302.9L540.94,267.18M514.34,306.19L540.94,270.47M514.34,309.48L540.94,273.76M514.34,312.77L540.94,277.05M514.34,316.06L540.94,280.34M514.34,319.35L540.94,283.63M514.34,322.64L540.94,286.92M514.34,325.93L540.94,290.21M514.34,329.22L540.94,293.5M514.34,332.51L540.94,296.79M514.34,335.8L540.94,300.08M514.34,339.09L540.94,303.37M514.34,342.38L540.94,306.66M514.34,345.67L540.94,309.95M514.34,348.96L540.94,313.24M514.34,352.25L540.94,316.53M514.34,355.54L540.94,319.82M514.34,358.83L540.94,323.11M514.34,362.12L540.94,326.4M514.34,365.41L540.94,329.69M514.34,368.7L540.94,332.98M514.34,371.99L540.94,336.27M514.34,375.28L540.94,339.56M514.34,378.57L540.94,342.85" stroke="#000" stroke-width="0.88" fill="none"/></g>
<rect x="515.34" y="258.00" width="24.60" height="81.50" fill="none" stroke="#000" stroke-width="1.5"/>
<clipPath id="cA31"><rect x="539.94" y="266.90" width="24.60" height="72.60"/></clipPath>
<g clip-path="url(#cA31)"><rect x="539.94" y="266.9" width="24.6" height="72.6" fill="#fff"/><path d="M538.94,258.7L565.54,233.77M538.94,264.96L565.54,240.03M538.94,271.22L565.54,246.29M538.94,277.48L565.54,252.55M538.94,283.74L565.54,258.81M538.94,290L565.54,265.07M538.94,296.26L565.54,271.33M538.94,302.52L565.54,277.59M538.94,308.78L565.54,283.85M538.94,315.04L565.54,290.11M538.94,321.3L565.54,296.37M538.94,327.56L565.54,302.63M538.94,333.82L565.54,308.89M538.94,340.08L565.54,315.15M538.94,346.34L565.54,321.41M538.94,352.6L565.54,327.67M538.94,358.86L565.54,333.93M538.94,365.12L565.54,340.19M538.94,371.38L565.54,346.45M527.76,256.65L531.1,259.78M527.76,262.91L531.1,266.04M527.76,269.17L531.1,272.3M527.76,275.43L531.1,278.56M527.76,281.69L531.1,284.82M527.76,287.95L531.1,291.08M527.76,294.21L531.1,297.34M527.76,300.47L531.1,303.6M527.76,306.73L531.1,309.86M527.76,312.99L531.1,316.12M527.76,319.25L531.1,322.38M527.76,325.51L531.1,328.64M527.76,331.77L531.1,334.9M527.76,338.03L531.1,341.16M527.76,344.29L531.1,347.42M534.44,256.65L537.78,259.78M534.44,262.91L537.78,266.04M534.44,269.17L537.78,272.3M534.44,275.43L537.78,278.56M534.44,281.69L537.78,284.82M534.44,287.95L537.78,291.08M534.44,294.21L537.78,297.34M534.44,300.47L537.78,303.6M534.44,306.73L537.78,309.86M534.44,312.99L537.78,316.12M534.44,319.25L537.78,322.38M534.44,325.51L537.78,328.64M534.44,331.77L537.78,334.9M534.44,338.03L537.78,341.16M534.44,344.29L537.78,347.42M541.12,256.65L544.46,259.78M541.12,262.91L544.46,266.04M541.12,269.17L544.46,272.3M541.12,275.43L544.46,278.56M541.12,281.69L544.46,284.82M541.12,287.95L544.46,291.08M541.12,294.21L544.46,297.34M541.12,300.47L544.46,303.6M541.12,306.73L544.46,309.86M541.12,312.99L544.46,316.12M541.12,319.25L544.46,322.38M541.12,325.51L544.46,328.64M541.12,331.77L544.46,334.9M541.12,338.03L544.46,341.16M541.12,344.29L544.46,347.42M547.8,256.65L551.14,259.78M547.8,262.91L551.14,266.04M547.8,269.17L551.14,272.3M547.8,275.43L551.14,278.56M547.8,281.69L551.14,284.82M547.8,287.95L551.14,291.08M547.8,294.21L551.14,297.34M547.8,300.47L551.14,303.6M547.8,306.73L551.14,309.86M547.8,312.99L551.14,316.12M547.8,319.25L551.14,322.38M547.8,325.51L551.14,328.64M547.8,331.77L551.14,334.9M547.8,338.03L551.14,341.16M547.8,344.29L551.14,347.42M554.48,256.65L557.82,259.78M554.48,262.91L557.82,266.04M554.48,269.17L557.82,272.3M554.48,275.43L557.82,278.56M554.48,281.69L557.82,284.82M554.48,287.95L557.82,291.08M554.48,294.21L557.82,297.34M554.48,300.47L557.82,303.6M554.48,306.73L557.82,309.86M554.48,312.99L557.82,316.12M554.48,319.25L557.82,322.38M554.48,325.51L557.82,328.64M554.48,331.77L557.82,334.9M554.48,338.03L557.82,341.16M554.48,344.29L557.82,347.42M561.16,256.65L564.5,259.78M561.16,262.91L564.5,266.04M561.16,269.17L564.5,272.3M561.16,275.43L564.5,278.56M561.16,281.69L564.5,284.82M561.16,287.95L564.5,291.08M561.16,294.21L564.5,297.34M561.16,300.47L564.5,303.6M561.16,306.73L564.5,309.86M561.16,312.99L564.5,316.12M561.16,319.25L564.5,322.38M561.16,325.51L564.5,328.64M561.16,331.77L564.5,334.9M561.16,338.03L564.5,341.16M561.16,344.29L564.5,347.42M567.84,256.65L571.18,259.78M567.84,262.91L571.18,266.04M567.84,269.17L571.18,272.3M567.84,275.43L571.18,278.56M567.84,281.69L571.18,284.82M567.84,287.95L571.18,291.08M567.84,294.21L571.18,297.34M567.84,300.47L571.18,303.6M567.84,306.73L571.18,309.86M567.84,312.99L571.18,316.12M567.84,319.25L571.18,322.38M567.84,325.51L571.18,328.64M567.84,331.77L571.18,334.9M567.84,338.03L571.18,341.16M567.84,344.29L571.18,347.42M574.52,256.65L577.86,259.78M574.52,262.91L577.86,266.04M574.52,269.17L577.86,272.3M574.52,275.43L577.86,278.56M574.52,281.69L577.86,284.82M574.52,287.95L577.86,291.08M574.52,294.21L577.86,297.34M574.52,300.47L577.86,303.6M574.52,306.73L577.86,309.86M574.52,312.99L577.86,316.12M574.52,319.25L577.86,322.38M574.52,325.51L577.86,328.64M574.52,331.77L577.86,334.9M574.52,338.03L577.86,341.16M574.52,344.29L577.86,347.42" stroke="#000" stroke-width="0.85" fill="none"/></g>
<rect x="539.94" y="266.90" width="24.60" height="72.60" fill="none" stroke="#000" stroke-width="1.5"/>
<clipPath id="cA32"><rect x="564.54" y="267.30" width="24.60" height="72.20"/></clipPath>
<g clip-path="url(#cA32)"><rect x="564.54" y="267.3" width="24.6" height="72.2" fill="#fff"/><path d="M563.54,262.61H590.14M550.9,262.61v3.31M557.9,262.61v3.31M564.9,262.61v3.31M571.9,262.61v3.31M578.9,262.61v3.31M585.9,262.61v3.31M592.9,262.61v3.31M599.9,262.61v3.31M563.54,265.92H590.14M554.4,265.92v3.31M561.4,265.92v3.31M568.4,265.92v3.31M575.4,265.92v3.31M582.4,265.92v3.31M589.4,265.92v3.31M596.4,265.92v3.31M563.54,269.23H590.14M550.9,269.23v3.31M557.9,269.23v3.31M564.9,269.23v3.31M571.9,269.23v3.31M578.9,269.23v3.31M585.9,269.23v3.31M592.9,269.23v3.31M599.9,269.23v3.31M563.54,272.54H590.14M554.4,272.54v3.31M561.4,272.54v3.31M568.4,272.54v3.31M575.4,272.54v3.31M582.4,272.54v3.31M589.4,272.54v3.31M596.4,272.54v3.31M563.54,275.85H590.14M550.9,275.85v3.31M557.9,275.85v3.31M564.9,275.85v3.31M571.9,275.85v3.31M578.9,275.85v3.31M585.9,275.85v3.31M592.9,275.85v3.31M599.9,275.85v3.31M563.54,279.16H590.14M554.4,279.16v3.31M561.4,279.16v3.31M568.4,279.16v3.31M575.4,279.16v3.31M582.4,279.16v3.31M589.4,279.16v3.31M596.4,279.16v3.31M563.54,282.47H590.14M550.9,282.47v3.31M557.9,282.47v3.31M564.9,282.47v3.31M571.9,282.47v3.31M578.9,282.47v3.31M585.9,282.47v3.31M592.9,282.47v3.31M599.9,282.47v3.31M563.54,285.78H590.14M554.4,285.78v3.31M561.4,285.78v3.31M568.4,285.78v3.31M575.4,285.78v3.31M582.4,285.78v3.31M589.4,285.78v3.31M596.4,285.78v3.31M563.54,289.09H590.14M550.9,289.09v3.31M557.9,289.09v3.31M564.9,289.09v3.31M571.9,289.09v3.31M578.9,289.09v3.31M585.9,289.09v3.31M592.9,289.09v3.31M599.9,289.09v3.31M563.54,292.4H590.14M554.4,292.4v3.31M561.4,292.4v3.31M568.4,292.4v3.31M575.4,292.4v3.31M582.4,292.4v3.31M589.4,292.4v3.31M596.4,292.4v3.31M563.54,295.71H590.14M550.9,295.71v3.31M557.9,295.71v3.31M564.9,295.71v3.31M571.9,295.71v3.31M578.9,295.71v3.31M585.9,295.71v3.31M592.9,295.71v3.31M599.9,295.71v3.31M563.54,299.02H590.14M554.4,299.02v3.31M561.4,299.02v3.31M568.4,299.02v3.31M575.4,299.02v3.31M582.4,299.02v3.31M589.4,299.02v3.31M596.4,299.02v3.31M563.54,302.33H590.14M550.9,302.33v3.31M557.9,302.33v3.31M564.9,302.33v3.31M571.9,302.33v3.31M578.9,302.33v3.31M585.9,302.33v3.31M592.9,302.33v3.31M599.9,302.33v3.31M563.54,305.64H590.14M554.4,305.64v3.31M561.4,305.64v3.31M568.4,305.64v3.31M575.4,305.64v3.31M582.4,305.64v3.31M589.4,305.64v3.31M596.4,305.64v3.31M563.54,308.95H590.14M550.9,308.95v3.31M557.9,308.95v3.31M564.9,308.95v3.31M571.9,308.95v3.31M578.9,308.95v3.31M585.9,308.95v3.31M592.9,308.95v3.31M599.9,308.95v3.31M563.54,312.26H590.14M554.4,312.26v3.31M561.4,312.26v3.31M568.4,312.26v3.31M575.4,312.26v3.31M582.4,312.26v3.31M589.4,312.26v3.31M596.4,312.26v3.31M563.54,315.57H590.14M550.9,315.57v3.31M557.9,315.57v3.31M564.9,315.57v3.31M571.9,315.57v3.31M578.9,315.57v3.31M585.9,315.57v3.31M592.9,315.57v3.31M599.9,315.57v3.31M563.54,318.88H590.14M554.4,318.88v3.31M561.4,318.88v3.31M568.4,318.88v3.31M575.4,318.88v3.31M582.4,318.88v3.31M589.4,318.88v3.31M596.4,318.88v3.31M563.54,322.19H590.14M550.9,322.19v3.31M557.9,322.19v3.31M564.9,322.19v3.31M571.9,322.19v3.31M578.9,322.19v3.31M585.9,322.19v3.31M592.9,322.19v3.31M599.9,322.19v3.31M563.54,325.5H590.14M554.4,325.5v3.31M561.4,325.5v3.31M568.4,325.5v3.31M575.4,325.5v3.31M582.4,325.5v3.31M589.4,325.5v3.31M596.4,325.5v3.31M563.54,328.81H590.14M550.9,328.81v3.31M557.9,328.81v3.31M564.9,328.81v3.31M571.9,328.81v3.31M578.9,328.81v3.31M585.9,328.81v3.31M592.9,328.81v3.31M599.9,328.81v3.31M563.54,332.12H590.14M554.4,332.12v3.31M561.4,332.12v3.31M568.4,332.12v3.31M575.4,332.12v3.31M582.4,332.12v3.31M589.4,332.12v3.31M596.4,332.12v3.31M563.54,335.43H590.14M550.9,335.43v3.31M557.9,335.43v3.31M564.9,335.43v3.31M571.9,335.43v3.31M578.9,335.43v3.31M585.9,335.43v3.31M592.9,335.43v3.31M599.9,335.43v3.31M563.54,338.74H590.14M554.4,338.74v3.31M561.4,338.74v3.31M568.4,338.74v3.31M575.4,338.74v3.31M582.4,338.74v3.31M589.4,338.74v3.31M596.4,338.74v3.31M563.54,342.05H590.14M550.9,342.05v3.31M557.9,342.05v3.31M564.9,342.05v3.31M571.9,342.05v3.31M578.9,342.05v3.31M585.9,342.05v3.31M592.9,342.05v3.31M599.9,342.05v3.31M563.54,345.36H590.14M554.4,345.36v3.31M561.4,345.36v3.31M568.4,345.36v3.31M575.4,345.36v3.31M582.4,345.36v3.31M589.4,345.36v3.31M596.4,345.36v3.31" stroke="#000" stroke-width="1.1" fill="none"/></g>
<rect x="564.54" y="267.30" width="24.60" height="72.20" fill="none" stroke="#000" stroke-width="1.5"/>
<clipPath id="cA33"><rect x="589.14" y="326.00" width="24.60" height="13.50"/></clipPath>
<g clip-path="url(#cA33)"><rect x="589.14" y="326" width="24.6" height="13.5" fill="#4a4a4a"/><g fill="#000"><ellipse cx="588.23" cy="329.44" rx="1.75" ry="1.62"/><ellipse cx="588.23" cy="335.72" rx="1.75" ry="1.62"/><ellipse cx="591.55" cy="326.3" rx="1.75" ry="1.62"/><ellipse cx="594.88" cy="329.44" rx="1.75" ry="1.62"/><ellipse cx="591.55" cy="332.58" rx="1.75" ry="1.62"/><ellipse cx="594.88" cy="335.72" rx="1.75" ry="1.62"/><ellipse cx="591.55" cy="338.86" rx="1.75" ry="1.62"/><ellipse cx="598.2" cy="326.3" rx="1.75" ry="1.62"/><ellipse cx="601.52" cy="329.44" rx="1.75" ry="1.62"/><ellipse cx="598.2" cy="332.58" rx="1.75" ry="1.62"/><ellipse cx="601.52" cy="335.72" rx="1.75" ry="1.62"/><ellipse cx="598.2" cy="338.86" rx="1.75" ry="1.62"/><ellipse cx="604.85" cy="326.3" rx="1.75" ry="1.62"/><ellipse cx="608.17" cy="329.44" rx="1.75" ry="1.62"/><ellipse cx="604.85" cy="332.58" rx="1.75" ry="1.62"/><ellipse cx="608.17" cy="335.72" rx="1.75" ry="1.62"/><ellipse cx="604.85" cy="338.86" rx="1.75" ry="1.62"/><ellipse cx="611.5" cy="326.3" rx="1.75" ry="1.62"/><ellipse cx="614.83" cy="329.44" rx="1.75" ry="1.62"/><ellipse cx="611.5" cy="332.58" rx="1.75" ry="1.62"/><ellipse cx="614.83" cy="335.72" rx="1.75" ry="1.62"/><ellipse cx="611.5" cy="338.86" rx="1.75" ry="1.62"/></g><path d="M587.18,325.35h2.1v1.9h-2.1zM587.18,331.63h2.1v1.9h-2.1zM587.18,337.91h2.1v1.9h-2.1zM593.83,325.35h2.1v1.9h-2.1zM590.5,328.49h2.1v1.9h-2.1zM593.83,331.63h2.1v1.9h-2.1zM590.5,334.77h2.1v1.9h-2.1zM593.83,337.91h2.1v1.9h-2.1zM600.48,325.35h2.1v1.9h-2.1zM597.15,328.49h2.1v1.9h-2.1zM600.48,331.63h2.1v1.9h-2.1zM597.15,334.77h2.1v1.9h-2.1zM600.48,337.91h2.1v1.9h-2.1zM607.12,325.35h2.1v1.9h-2.1zM603.8,328.49h2.1v1.9h-2.1zM607.12,331.63h2.1v1.9h-2.1zM603.8,334.77h2.1v1.9h-2.1zM607.12,337.91h2.1v1.9h-2.1zM613.78,325.35h2.1v1.9h-2.1zM610.45,328.49h2.1v1.9h-2.1zM613.78,331.63h2.1v1.9h-2.1zM610.45,334.77h2.1v1.9h-2.1zM613.78,337.91h2.1v1.9h-2.1z" fill="#fff"/></g>
<rect x="589.14" y="326.00" width="24.60" height="13.50" fill="none" stroke="#000" stroke-width="1.5"/>
<path d="M124.66,325.20V326.50M120.76,325.20h7.8M120.76,326.50h7.8" stroke="#000" stroke-width="1.5" fill="none"/>
<path d="M149.26,325.20V326.50M145.36,325.20h7.8M145.36,326.50h7.8" stroke="#000" stroke-width="1.5" fill="none"/>
<path d="M173.86,325.10V326.60M169.96,325.10h7.8M169.96,326.60h7.8" stroke="#000" stroke-width="1.5" fill="none"/>
<path d="M198.46,323.60V325.60M194.56,323.60h7.8M194.56,325.60h7.8" stroke="#000" stroke-width="1.5" fill="none"/>
<path d="M258.99,257.50V265.50M255.09,257.50h7.8M255.09,265.50h7.8" stroke="#000" stroke-width="1.5" fill="none"/>
<path d="M283.59,254.80V262.70M279.69,254.80h7.8M279.69,262.70h7.8" stroke="#000" stroke-width="1.5" fill="none"/>
<path d="M308.19,254.80V262.90M304.29,254.80h7.8M304.29,262.90h7.8" stroke="#000" stroke-width="1.5" fill="none"/>
<path d="M332.79,324.60V326.60M328.89,324.60h7.8M328.89,326.60h7.8" stroke="#000" stroke-width="1.5" fill="none"/>
<path d="M393.31,251.10V259.40M389.41,251.10h7.8M389.41,259.40h7.8" stroke="#000" stroke-width="1.5" fill="none"/>
<path d="M417.91,260.30V266.90M414.01,260.30h7.8M414.01,266.90h7.8" stroke="#000" stroke-width="1.5" fill="none"/>
<path d="M442.51,260.30V266.90M438.61,260.30h7.8M438.61,266.90h7.8" stroke="#000" stroke-width="1.5" fill="none"/>
<path d="M467.11,323.90V325.80M463.21,323.90h7.8M463.21,325.80h7.8" stroke="#000" stroke-width="1.5" fill="none"/>
<path d="M527.64,254.40V262.60M523.74,254.40h7.8M523.74,262.60h7.8" stroke="#000" stroke-width="1.5" fill="none"/>
<path d="M552.24,262.70V269.50M548.34,262.70h7.8M548.34,269.50h7.8" stroke="#000" stroke-width="1.5" fill="none"/>
<path d="M576.84,264.00V270.60M572.94,264.00h7.8M572.94,270.60h7.8" stroke="#000" stroke-width="1.5" fill="none"/>
<path d="M601.44,324.90V326.80M597.54,324.90h7.8M597.54,326.80h7.8" stroke="#000" stroke-width="1.5" fill="none"/>
<path d="M94.40,33.10H631.70" stroke="#7c7c7c" stroke-width="1.3" fill="none"/>
<path d="M94.40,32.60V339.50M631.70,32.60V339.50" stroke="#111" stroke-width="1.3" fill="none"/>
<path d="M88.40,339.50H637.20" stroke="#111" stroke-width="1.3" fill="none"/>
<path d="M88.20,33.10H100.90M88.20,60.95H100.90M88.20,88.81H100.90M88.20,116.66H100.90M88.20,144.52H100.90M88.20,172.37H100.90M88.20,200.23H100.90M88.20,228.08H100.90M88.20,255.94H100.90M88.20,283.79H100.90M88.20,311.65H100.90M88.20,339.50H100.90M626.50,56.67H637.10M626.50,103.81H637.10M626.50,150.95H637.10M626.50,198.08H637.10M626.50,245.22H637.10M626.50,292.36H637.10M626.50,339.50H637.10M94.40,333.90V344.90M228.73,333.90V344.90M363.05,333.90V344.90M497.38,333.90V344.90M631.70,333.90V344.90" stroke="#111" stroke-width="1.1" fill="none"/>
<polyline points="161.56,124.80 295.89,45.20 430.21,62.00 564.54,66.70" fill="none" stroke="#000" stroke-width="3.2" stroke-linejoin="round" stroke-linecap="round"/>
<path d="M430.21,56.10L436.31,62.00L430.21,67.90L424.11,62.00Z" fill="#fff" stroke="#222" stroke-width="0.9"/>
<path d="M564.54,60.80L570.64,66.70L564.54,72.60L558.44,66.70Z" fill="#fff" stroke="#222" stroke-width="0.9"/>
<polyline points="161.56,119.40 295.89,62.00 430.21,58.00 564.54,57.60" fill="none" stroke="#000" stroke-width="2.8" stroke-dasharray="6.5 6.9" stroke-linecap="round" stroke-linejoin="round"/>
<path d="M161.56,113.50L167.76,125.20H155.36Z" fill="#000"/>
<path d="M295.89,56.10L302.09,67.80H289.69Z" fill="#000"/>
<path d="M430.21,52.10L436.41,63.80H424.01Z" fill="#000"/>
<path d="M564.54,51.70L570.74,63.40H558.34Z" fill="#000"/>
<polyline points="161.56,125.00 295.89,45.00 430.21,61.00 564.54,65.00" fill="none" stroke="#000" stroke-width="3.5" stroke-linejoin="round" stroke-linecap="round"/>
<polyline points="161.56,125.00 295.89,45.00 430.21,61.00 564.54,65.00" fill="none" stroke="#fff" stroke-width="1.0" stroke-dasharray="1.2 2.0"/>
<path d="M154.96,118.90L168.16,131.10M154.96,131.10L168.16,118.90M161.56,118.80V131.20" stroke="#333" stroke-width="0.8" fill="none"/>
<path d="M289.29,38.90L302.49,51.10M289.29,51.10L302.49,38.90M295.89,38.80V51.20" stroke="#333" stroke-width="0.8" fill="none"/>
<path d="M423.61,54.90L436.81,67.10M423.61,67.10L436.81,54.90M430.21,54.80V67.20" stroke="#333" stroke-width="0.8" fill="none"/>
<path d="M557.94,58.90L571.14,71.10M557.94,71.10L571.14,58.90M564.54,58.80V71.20" stroke="#333" stroke-width="0.8" fill="none"/>
<path d="M161.56,120.80L295.89,163.00" fill="none" stroke="#000" stroke-width="3.0" stroke-dasharray="24 12.75" stroke-linecap="round"/>
<path d="M295.89,163.00L430.21,339.40" fill="none" stroke="#000" stroke-width="3.0" stroke-dasharray="19.2 15.55" stroke-dashoffset="-2.2" stroke-linecap="round"/>
<ellipse cx="161.56" cy="120.80" rx="6.5" ry="5.8" fill="#000"/>
<ellipse cx="295.89" cy="163.00" rx="6.5" ry="5.8" fill="#000"/>
<ellipse cx="430.21" cy="339.40" rx="6.5" ry="5.8" fill="#000"/>
<ellipse cx="564.54" cy="339.40" rx="6.5" ry="5.8" fill="#000"/>
<g font-family='"Liberation Serif", "Times New Roman", serif' font-weight="bold" fill="#000">
<text transform="translate(9.00,21.60)" font-size="22.3" text-anchor="start">A</text>
<text transform="translate(78.70,38.80) scale(1.2,1)" font-size="17.0" text-anchor="end">2.200</text>
<text transform="translate(78.70,66.65) scale(1.2,1)" font-size="17.0" text-anchor="end">2.000</text>
<text transform="translate(78.70,94.51) scale(1.2,1)" font-size="17.0" text-anchor="end">1.800</text>
<text transform="translate(78.70,122.36) scale(1.2,1)" font-size="17.0" text-anchor="end">1.600</text>
<text transform="translate(78.70,150.22) scale(1.2,1)" font-size="17.0" text-anchor="end">1.400</text>
<text transform="translate(78.70,178.07) scale(1.2,1)" font-size="17.0" text-anchor="end">1.200</text>
<text transform="translate(78.70,205.93) scale(1.2,1)" font-size="17.0" text-anchor="end">1.000</text>
<text transform="translate(78.70,233.78) scale(1.2,1)" font-size="17.0" text-anchor="end">0.800</text>
<text transform="translate(78.70,261.64) scale(1.2,1)" font-size="17.0" text-anchor="end">0.600</text>
<text transform="translate(78.70,289.49) scale(1.2,1)" font-size="17.0" text-anchor="end">0.400</text>
<text transform="translate(78.70,317.35) scale(1.2,1)" font-size="17.0" text-anchor="end">0.200</text>
<text transform="translate(78.70,345.20) scale(1.2,1)" font-size="17.0" text-anchor="end">0.000</text>
<text transform="translate(646.50,62.37) scale(1.153,1)" font-size="17.0" text-anchor="start">1.00E+12</text>
<text transform="translate(646.50,109.51) scale(1.153,1)" font-size="17.0" text-anchor="start">1.00E+10</text>
<text transform="translate(646.50,156.65) scale(1.153,1)" font-size="17.0" text-anchor="start">1.00E+08</text>
<text transform="translate(646.50,203.78) scale(1.153,1)" font-size="17.0" text-anchor="start">1.00E+06</text>
<text transform="translate(646.50,250.92) scale(1.153,1)" font-size="17.0" text-anchor="start">1.00E+04</text>
<text transform="translate(646.50,298.06) scale(1.153,1)" font-size="17.0" text-anchor="start">1.00E+02</text>
<text transform="translate(646.50,345.20) scale(1.153,1)" font-size="17.0" text-anchor="start">1.00E+00</text>
<text transform="translate(161.56,370.90) scale(1.14,1)" font-size="16.8" text-anchor="middle">0</text>
<text transform="translate(295.89,370.90) scale(1.14,1)" font-size="16.8" text-anchor="middle">8</text>
<text transform="translate(431.11,370.90) scale(1.14,1)" font-size="16.8" text-anchor="middle">16</text>
<text transform="translate(565.44,370.90) scale(1.14,1)" font-size="16.8" text-anchor="middle">24</text>
<text transform="translate(371.60,396.00) scale(1.145,1)" font-size="16.8" text-anchor="middle">Time (hour)</text>
<text transform="translate(14.30,269.80) rotate(-90) scale(0.987,1)" font-size="17.3" text-anchor="start">Optical Density (A<tspan font-size="13" dy="3.6">590</tspan><tspan dy="-3.6">)</tspan></text>
<text transform="translate(752.80,305.80) rotate(-90)" font-size="17.7" text-anchor="start">Colony forming unit (cfu/ml)</text>
<text transform="translate(126.60,304.20) scale(1.14,1)" font-size="15.3" text-anchor="middle">A</text>
<text transform="translate(151.50,304.20) scale(1.14,1)" font-size="15.3" text-anchor="middle">B</text>
<text transform="translate(175.90,304.20) scale(1.14,1)" font-size="15.3" text-anchor="middle">C</text>
<text transform="translate(201.10,304.20) scale(1.14,1)" font-size="15.3" text-anchor="middle">D</text>
</g>
<g font-family='"Noto Serif CJK SC", "Liberation Serif", serif' font-weight="bold" fill="#000" stroke="#000" stroke-width="0.75">
<text transform="translate(254.65,258.85)" font-size="20.6" text-anchor="start">*</text>
<text transform="translate(279.95,255.65)" font-size="20.6" text-anchor="start">*</text>
<text transform="translate(305.05,257.15)" font-size="20.6" text-anchor="start">*</text>
<text transform="translate(390.95,251.25)" font-size="20.6" text-anchor="start">*</text>
<text transform="translate(414.45,260.95)" font-size="20.6" text-anchor="start">*</text>
<text transform="translate(439.55,260.95)" font-size="20.6" text-anchor="start">*</text>
<text transform="translate(523.95,254.95)" font-size="20.6" text-anchor="start">*</text>
<text transform="translate(547.85,263.55)" font-size="20.6" text-anchor="start">*</text>
<text transform="translate(574.05,264.85)" font-size="20.6" text-anchor="start">*</text>
<text transform="translate(290.85,40.95)" font-size="20.6" text-anchor="start">*</text>
<text transform="translate(426.95,54.65)" font-size="20.6" text-anchor="start">*</text>
<text transform="translate(560.25,55.95)" font-size="20.6" text-anchor="start">*</text>
</g>
</g>
<g id="chartB">
<clipPath id="cB00"><rect x="122.38" y="747.50" width="24.60" height="26.30"/></clipPath>
<g clip-path="url(#cB00)"><rect x="122.38" y="747.5" width="24.6" height="26.3" fill="#fff"/><path d="M121.38,745.05L147.97,709.33M121.38,748.34L147.97,712.62M121.38,751.63L147.97,715.91M121.38,754.92L147.97,719.2M121.38,758.21L147.97,722.49M121.38,761.5L147.97,725.78M121.38,764.79L147.97,729.07M121.38,768.08L147.97,732.36M121.38,771.37L147.97,735.65M121.38,774.66L147.97,738.94M121.38,777.95L147.97,742.23M121.38,781.24L147.97,745.52M121.38,784.53L147.97,748.81M121.38,787.82L147.97,752.1M121.38,791.11L147.97,755.39M121.38,794.4L147.97,758.68M121.38,797.69L147.97,761.97M121.38,800.98L147.97,765.26M121.38,804.27L147.97,768.55M121.38,807.56L147.97,771.84M121.38,810.85L147.97,775.13M121.38,814.14L147.97,778.42" stroke="#000" stroke-width="0.88" fill="none"/></g>
<rect x="122.38" y="747.50" width="24.60" height="26.30" fill="none" stroke="#000" stroke-width="1.5"/>
<clipPath id="cB01"><rect x="146.97" y="746.90" width="24.60" height="26.90"/></clipPath>
<g clip-path="url(#cB01)"><rect x="146.97" y="746.9" width="24.6" height="26.9" fill="#fff"/><path d="M145.97,739.63L172.57,714.7M145.97,745.89L172.57,720.96M145.97,752.15L172.57,727.22M145.97,758.41L172.57,733.48M145.97,764.67L172.57,739.74M145.97,770.93L172.57,746M145.97,777.19L172.57,752.26M145.97,783.45L172.57,758.52M145.97,789.71L172.57,764.78M145.97,795.97L172.57,771.04M145.97,802.23L172.57,777.3M145.97,808.49L172.57,783.56M133.64,732.41L136.98,735.54M133.64,738.67L136.98,741.8M133.64,744.93L136.98,748.06M133.64,751.19L136.98,754.32M133.64,757.45L136.98,760.58M133.64,763.71L136.98,766.84M133.64,769.97L136.98,773.1M133.64,776.23L136.98,779.36M133.64,782.49L136.98,785.62M140.32,732.41L143.66,735.54M140.32,738.67L143.66,741.8M140.32,744.93L143.66,748.06M140.32,751.19L143.66,754.32M140.32,757.45L143.66,760.58M140.32,763.71L143.66,766.84M140.32,769.97L143.66,773.1M140.32,776.23L143.66,779.36M140.32,782.49L143.66,785.62M147,732.41L150.34,735.54M147,738.67L150.34,741.8M147,744.93L150.34,748.06M147,751.19L150.34,754.32M147,757.45L150.34,760.58M147,763.71L150.34,766.84M147,769.97L150.34,773.1M147,776.23L150.34,779.36M147,782.49L150.34,785.62M153.68,732.41L157.02,735.54M153.68,738.67L157.02,741.8M153.68,744.93L157.02,748.06M153.68,751.19L157.02,754.32M153.68,757.45L157.02,760.58M153.68,763.71L157.02,766.84M153.68,769.97L157.02,773.1M153.68,776.23L157.02,779.36M153.68,782.49L157.02,785.62M160.36,732.41L163.7,735.54M160.36,738.67L163.7,741.8M160.36,744.93L163.7,748.06M160.36,751.19L163.7,754.32M160.36,757.45L163.7,760.58M160.36,763.71L163.7,766.84M160.36,769.97L163.7,773.1M160.36,776.23L163.7,779.36M160.36,782.49L163.7,785.62M167.04,732.41L170.38,735.54M167.04,738.67L170.38,741.8M167.04,744.93L170.38,748.06M167.04,751.19L170.38,754.32M167.04,757.45L170.38,760.58M167.04,763.71L170.38,766.84M167.04,769.97L170.38,773.1M167.04,776.23L170.38,779.36M167.04,782.49L170.38,785.62M173.72,732.41L177.06,735.54M173.72,738.67L177.06,741.8M173.72,744.93L177.06,748.06M173.72,751.19L177.06,754.32M173.72,757.45L177.06,760.58M173.72,763.71L177.06,766.84M173.72,769.97L177.06,773.1M173.72,776.23L177.06,779.36M173.72,782.49L177.06,785.62M180.4,732.41L183.74,735.54M180.4,738.67L183.74,741.8M180.4,744.93L183.74,748.06M180.4,751.19L183.74,754.32M180.4,757.45L183.74,760.58M180.4,763.71L183.74,766.84M180.4,769.97L183.74,773.1M180.4,776.23L183.74,779.36M180.4,782.49L183.74,785.62" stroke="#000" stroke-width="0.85" fill="none"/></g>
<rect x="146.97" y="746.90" width="24.60" height="26.90" fill="none" stroke="#000" stroke-width="1.5"/>
<clipPath id="cB02"><rect x="171.57" y="749.20" width="24.60" height="24.60"/></clipPath>
<g clip-path="url(#cB02)"><rect x="171.57" y="749.2" width="24.6" height="24.6" fill="#fff"/><path d="M170.57,745.87H197.17M158.9,745.87v3.31M165.9,745.87v3.31M172.9,745.87v3.31M179.9,745.87v3.31M186.9,745.87v3.31M193.9,745.87v3.31M200.9,745.87v3.31M207.9,745.87v3.31M170.57,749.18H197.17M162.4,749.18v3.31M169.4,749.18v3.31M176.4,749.18v3.31M183.4,749.18v3.31M190.4,749.18v3.31M197.4,749.18v3.31M204.4,749.18v3.31M170.57,752.49H197.17M158.9,752.49v3.31M165.9,752.49v3.31M172.9,752.49v3.31M179.9,752.49v3.31M186.9,752.49v3.31M193.9,752.49v3.31M200.9,752.49v3.31M207.9,752.49v3.31M170.57,755.8H197.17M162.4,755.8v3.31M169.4,755.8v3.31M176.4,755.8v3.31M183.4,755.8v3.31M190.4,755.8v3.31M197.4,755.8v3.31M204.4,755.8v3.31M170.57,759.11H197.17M158.9,759.11v3.31M165.9,759.11v3.31M172.9,759.11v3.31M179.9,759.11v3.31M186.9,759.11v3.31M193.9,759.11v3.31M200.9,759.11v3.31M207.9,759.11v3.31M170.57,762.42H197.17M162.4,762.42v3.31M169.4,762.42v3.31M176.4,762.42v3.31M183.4,762.42v3.31M190.4,762.42v3.31M197.4,762.42v3.31M204.4,762.42v3.31M170.57,765.73H197.17M158.9,765.73v3.31M165.9,765.73v3.31M172.9,765.73v3.31M179.9,765.73v3.31M186.9,765.73v3.31M193.9,765.73v3.31M200.9,765.73v3.31M207.9,765.73v3.31M170.57,769.04H197.17M162.4,769.04v3.31M169.4,769.04v3.31M176.4,769.04v3.31M183.4,769.04v3.31M190.4,769.04v3.31M197.4,769.04v3.31M204.4,769.04v3.31M170.57,772.35H197.17M158.9,772.35v3.31M165.9,772.35v3.31M172.9,772.35v3.31M179.9,772.35v3.31M186.9,772.35v3.31M193.9,772.35v3.31M200.9,772.35v3.31M207.9,772.35v3.31M170.57,775.66H197.17M162.4,775.66v3.31M169.4,775.66v3.31M176.4,775.66v3.31M183.4,775.66v3.31M190.4,775.66v3.31M197.4,775.66v3.31M204.4,775.66v3.31M170.57,778.97H197.17M158.9,778.97v3.31M165.9,778.97v3.31M172.9,778.97v3.31M179.9,778.97v3.31M186.9,778.97v3.31M193.9,778.97v3.31M200.9,778.97v3.31M207.9,778.97v3.31" stroke="#000" stroke-width="1.1" fill="none"/></g>
<rect x="171.57" y="749.20" width="24.60" height="24.60" fill="none" stroke="#000" stroke-width="1.5"/>
<clipPath id="cB03"><rect x="196.18" y="746.70" width="24.60" height="27.10"/></clipPath>
<g clip-path="url(#cB03)"><rect x="196.18" y="746.7" width="24.6" height="27.1" fill="#4a4a4a"/><g fill="#000"><ellipse cx="195.87" cy="750.2" rx="1.75" ry="1.62"/><ellipse cx="195.87" cy="756.48" rx="1.75" ry="1.62"/><ellipse cx="195.87" cy="762.76" rx="1.75" ry="1.62"/><ellipse cx="195.87" cy="769.04" rx="1.75" ry="1.62"/><ellipse cx="195.87" cy="775.32" rx="1.75" ry="1.62"/><ellipse cx="199.2" cy="747.06" rx="1.75" ry="1.62"/><ellipse cx="202.52" cy="750.2" rx="1.75" ry="1.62"/><ellipse cx="199.2" cy="753.34" rx="1.75" ry="1.62"/><ellipse cx="202.52" cy="756.48" rx="1.75" ry="1.62"/><ellipse cx="199.2" cy="759.62" rx="1.75" ry="1.62"/><ellipse cx="202.52" cy="762.76" rx="1.75" ry="1.62"/><ellipse cx="199.2" cy="765.9" rx="1.75" ry="1.62"/><ellipse cx="202.52" cy="769.04" rx="1.75" ry="1.62"/><ellipse cx="199.2" cy="772.18" rx="1.75" ry="1.62"/><ellipse cx="202.52" cy="775.32" rx="1.75" ry="1.62"/><ellipse cx="205.85" cy="747.06" rx="1.75" ry="1.62"/><ellipse cx="209.17" cy="750.2" rx="1.75" ry="1.62"/><ellipse cx="205.85" cy="753.34" rx="1.75" ry="1.62"/><ellipse cx="209.17" cy="756.48" rx="1.75" ry="1.62"/><ellipse cx="205.85" cy="759.62" rx="1.75" ry="1.62"/><ellipse cx="209.17" cy="762.76" rx="1.75" ry="1.62"/><ellipse cx="205.85" cy="765.9" rx="1.75" ry="1.62"/><ellipse cx="209.17" cy="769.04" rx="1.75" ry="1.62"/><ellipse cx="205.85" cy="772.18" rx="1.75" ry="1.62"/><ellipse cx="209.17" cy="775.32" rx="1.75" ry="1.62"/><ellipse cx="212.5" cy="747.06" rx="1.75" ry="1.62"/><ellipse cx="215.82" cy="750.2" rx="1.75" ry="1.62"/><ellipse cx="212.5" cy="753.34" rx="1.75" ry="1.62"/><ellipse cx="215.82" cy="756.48" rx="1.75" ry="1.62"/><ellipse cx="212.5" cy="759.62" rx="1.75" ry="1.62"/><ellipse cx="215.82" cy="762.76" rx="1.75" ry="1.62"/><ellipse cx="212.5" cy="765.9" rx="1.75" ry="1.62"/><ellipse cx="215.82" cy="769.04" rx="1.75" ry="1.62"/><ellipse cx="212.5" cy="772.18" rx="1.75" ry="1.62"/><ellipse cx="215.82" cy="775.32" rx="1.75" ry="1.62"/><ellipse cx="219.15" cy="747.06" rx="1.75" ry="1.62"/><ellipse cx="222.47" cy="750.2" rx="1.75" ry="1.62"/><ellipse cx="219.15" cy="753.34" rx="1.75" ry="1.62"/><ellipse cx="222.47" cy="756.48" rx="1.75" ry="1.62"/><ellipse cx="219.15" cy="759.62" rx="1.75" ry="1.62"/><ellipse cx="222.47" cy="762.76" rx="1.75" ry="1.62"/><ellipse cx="219.15" cy="765.9" rx="1.75" ry="1.62"/><ellipse cx="222.47" cy="769.04" rx="1.75" ry="1.62"/><ellipse cx="219.15" cy="772.18" rx="1.75" ry="1.62"/><ellipse cx="222.47" cy="775.32" rx="1.75" ry="1.62"/></g><path d="M194.82,746.11h2.1v1.9h-2.1zM194.82,752.39h2.1v1.9h-2.1zM194.82,758.67h2.1v1.9h-2.1zM194.82,764.95h2.1v1.9h-2.1zM194.82,771.23h2.1v1.9h-2.1zM201.47,746.11h2.1v1.9h-2.1zM198.15,749.25h2.1v1.9h-2.1zM201.47,752.39h2.1v1.9h-2.1zM198.15,755.53h2.1v1.9h-2.1zM201.47,758.67h2.1v1.9h-2.1zM198.15,761.81h2.1v1.9h-2.1zM201.47,764.95h2.1v1.9h-2.1zM198.15,768.09h2.1v1.9h-2.1zM201.47,771.23h2.1v1.9h-2.1zM198.15,774.37h2.1v1.9h-2.1zM208.12,746.11h2.1v1.9h-2.1zM204.8,749.25h2.1v1.9h-2.1zM208.12,752.39h2.1v1.9h-2.1zM204.8,755.53h2.1v1.9h-2.1zM208.12,758.67h2.1v1.9h-2.1zM204.8,761.81h2.1v1.9h-2.1zM208.12,764.95h2.1v1.9h-2.1zM204.8,768.09h2.1v1.9h-2.1zM208.12,771.23h2.1v1.9h-2.1zM204.8,774.37h2.1v1.9h-2.1zM214.77,746.11h2.1v1.9h-2.1zM211.45,749.25h2.1v1.9h-2.1zM214.77,752.39h2.1v1.9h-2.1zM211.45,755.53h2.1v1.9h-2.1zM214.77,758.67h2.1v1.9h-2.1zM211.45,761.81h2.1v1.9h-2.1zM214.77,764.95h2.1v1.9h-2.1zM211.45,768.09h2.1v1.9h-2.1zM214.77,771.23h2.1v1.9h-2.1zM211.45,774.37h2.1v1.9h-2.1zM221.42,746.11h2.1v1.9h-2.1zM218.1,749.25h2.1v1.9h-2.1zM221.42,752.39h2.1v1.9h-2.1zM218.1,755.53h2.1v1.9h-2.1zM221.42,758.67h2.1v1.9h-2.1zM218.1,761.81h2.1v1.9h-2.1zM221.42,764.95h2.1v1.9h-2.1zM218.1,768.09h2.1v1.9h-2.1zM221.42,771.23h2.1v1.9h-2.1zM218.1,774.37h2.1v1.9h-2.1z" fill="#fff"/></g>
<rect x="196.18" y="746.70" width="24.60" height="27.10" fill="none" stroke="#000" stroke-width="1.5"/>
<clipPath id="cB10"><rect x="256.72" y="657.20" width="24.60" height="116.60"/></clipPath>
<g clip-path="url(#cB10)"><rect x="256.72" y="657.2" width="24.6" height="116.6" fill="#fff"/><path d="M255.72,653.47L282.32,617.75M255.72,656.76L282.32,621.04M255.72,660.05L282.32,624.33M255.72,663.34L282.32,627.62M255.72,666.63L282.32,630.91M255.72,669.92L282.32,634.2M255.72,673.21L282.32,637.49M255.72,676.5L282.32,640.78M255.72,679.79L282.32,644.07M255.72,683.08L282.32,647.36M255.72,686.37L282.32,650.65M255.72,689.66L282.32,653.94M255.72,692.95L282.32,657.23M255.72,696.24L282.32,660.52M255.72,699.53L282.32,663.81M255.72,702.82L282.32,667.1M255.72,706.11L282.32,670.39M255.72,709.4L282.32,673.68M255.72,712.69L282.32,676.97M255.72,715.98L282.32,680.26M255.72,719.27L282.32,683.55M255.72,722.56L282.32,686.84M255.72,725.85L282.32,690.13M255.72,729.14L282.32,693.42M255.72,732.43L282.32,696.71M255.72,735.72L282.32,700M255.72,739.01L282.32,703.29M255.72,742.3L282.32,706.58M255.72,745.59L282.32,709.87M255.72,748.88L282.32,713.16M255.72,752.17L282.32,716.45M255.72,755.46L282.32,719.74M255.72,758.75L282.32,723.03M255.72,762.04L282.32,726.32M255.72,765.33L282.32,729.61M255.72,768.62L282.32,732.9M255.72,771.91L282.32,736.19M255.72,775.2L282.32,739.48M255.72,778.49L282.32,742.77M255.72,781.78L282.32,746.06M255.72,785.07L282.32,749.35M255.72,788.36L282.32,752.64M255.72,791.65L282.32,755.93M255.72,794.94L282.32,759.22M255.72,798.23L282.32,762.51M255.72,801.52L282.32,765.8M255.72,804.81L282.32,769.09M255.72,808.1L282.32,772.38M255.72,811.39L282.32,775.67M255.72,814.68L282.32,778.96" stroke="#000" stroke-width="0.88" fill="none"/></g>
<rect x="256.72" y="657.20" width="24.60" height="116.60" fill="none" stroke="#000" stroke-width="1.5"/>
<clipPath id="cB11"><rect x="281.32" y="609.70" width="24.60" height="164.10"/></clipPath>
<g clip-path="url(#cB11)"><rect x="281.32" y="609.7" width="24.6" height="164.1" fill="#fff"/><path d="M280.32,601.21L306.93,576.28M280.32,607.47L306.93,582.54M280.32,613.73L306.93,588.8M280.32,619.99L306.93,595.06M280.32,626.25L306.93,601.32M280.32,632.51L306.93,607.58M280.32,638.77L306.93,613.84M280.32,645.03L306.93,620.1M280.32,651.29L306.93,626.36M280.32,657.55L306.93,632.62M280.32,663.81L306.93,638.88M280.32,670.07L306.93,645.14M280.32,676.33L306.93,651.4M280.32,682.59L306.93,657.66M280.32,688.85L306.93,663.92M280.32,695.11L306.93,670.18M280.32,701.37L306.93,676.44M280.32,707.63L306.93,682.7M280.32,713.89L306.93,688.96M280.32,720.15L306.93,695.22M280.32,726.41L306.93,701.48M280.32,732.67L306.93,707.74M280.32,738.93L306.93,714M280.32,745.19L306.93,720.26M280.32,751.45L306.93,726.52M280.32,757.71L306.93,732.78M280.32,763.97L306.93,739.04M280.32,770.23L306.93,745.3M280.32,776.49L306.93,751.56M280.32,782.75L306.93,757.82M280.32,789.01L306.93,764.08M280.32,795.27L306.93,770.34M280.32,801.53L306.93,776.6M280.32,807.79L306.93,782.86M267.24,594.69L270.58,597.82M267.24,600.95L270.58,604.08M267.24,607.21L270.58,610.34M267.24,613.47L270.58,616.6M267.24,619.73L270.58,622.86M267.24,625.99L270.58,629.12M267.24,632.25L270.58,635.38M267.24,638.51L270.58,641.64M267.24,644.77L270.58,647.9M267.24,651.03L270.58,654.16M267.24,657.29L270.58,660.42M267.24,663.55L270.58,666.68M267.24,669.81L270.58,672.94M267.24,676.07L270.58,679.2M267.24,682.33L270.58,685.46M267.24,688.59L270.58,691.72M267.24,694.85L270.58,697.98M267.24,701.11L270.58,704.24M267.24,707.37L270.58,710.5M267.24,713.63L270.58,716.76M267.24,719.89L270.58,723.02M267.24,726.15L270.58,729.28M267.24,732.41L270.58,735.54M267.24,738.67L270.58,741.8M267.24,744.93L270.58,748.06M267.24,751.19L270.58,754.32M267.24,757.45L270.58,760.58M267.24,763.71L270.58,766.84M267.24,769.97L270.58,773.1M267.24,776.23L270.58,779.36M267.24,782.49L270.58,785.62M273.92,594.69L277.26,597.82M273.92,600.95L277.26,604.08M273.92,607.21L277.26,610.34M273.92,613.47L277.26,616.6M273.92,619.73L277.26,622.86M273.92,625.99L277.26,629.12M273.92,632.25L277.26,635.38M273.92,638.51L277.26,641.64M273.92,644.77L277.26,647.9M273.92,651.03L277.26,654.16M273.92,657.29L277.26,660.42M273.92,663.55L277.26,666.68M273.92,669.81L277.26,672.94M273.92,676.07L277.26,679.2M273.92,682.33L277.26,685.46M273.92,688.59L277.26,691.72M273.92,694.85L277.26,697.98M273.92,701.11L277.26,704.24M273.92,707.37L277.26,710.5M273.92,713.63L277.26,716.76M273.92,719.89L277.26,723.02M273.92,726.15L277.26,729.28M273.92,732.41L277.26,735.54M273.92,738.67L277.26,741.8M273.92,744.93L277.26,748.06M273.92,751.19L277.26,754.32M273.92,757.45L277.26,760.58M273.92,763.71L277.26,766.84M273.92,769.97L277.26,773.1M273.92,776.23L277.26,779.36M273.92,782.49L277.26,785.62M280.6,594.69L283.94,597.82M280.6,600.95L283.94,604.08M280.6,607.21L283.94,610.34M280.6,613.47L283.94,616.6M280.6,619.73L283.94,622.86M280.6,625.99L283.94,629.12M280.6,632.25L283.94,635.38M280.6,638.51L283.94,641.64M280.6,644.77L283.94,647.9M280.6,651.03L283.94,654.16M280.6,657.29L283.94,660.42M280.6,663.55L283.94,666.68M280.6,669.81L283.94,672.94M280.6,676.07L283.94,679.2M280.6,682.33L283.94,685.46M280.6,688.59L283.94,691.72M280.6,694.85L283.94,697.98M280.6,701.11L283.94,704.24M280.6,707.37L283.94,710.5M280.6,713.63L283.94,716.76M280.6,719.89L283.94,723.02M280.6,726.15L283.94,729.28M280.6,732.41L283.94,735.54M280.6,738.67L283.94,741.8M280.6,744.93L283.94,748.06M280.6,751.19L283.94,754.32M280.6,757.45L283.94,760.58M280.6,763.71L283.94,766.84M280.6,769.97L283.94,773.1M280.6,776.23L283.94,779.36M280.6,782.49L283.94,785.62M287.28,594.69L290.62,597.82M287.28,600.95L290.62,604.08M287.28,607.21L290.62,610.34M287.28,613.47L290.62,616.6M287.28,619.73L290.62,622.86M287.28,625.99L290.62,629.12M287.28,632.25L290.62,635.38M287.28,638.51L290.62,641.64M287.28,644.77L290.62,647.9M287.28,651.03L290.62,654.16M287.28,657.29L290.62,660.42M287.28,663.55L290.62,666.68M287.28,669.81L290.62,672.94M287.28,676.07L290.62,679.2M287.28,682.33L290.62,685.46M287.28,688.59L290.62,691.72M287.28,694.85L290.62,697.98M287.28,701.11L290.62,704.24M287.28,707.37L290.62,710.5M287.28,713.63L290.62,716.76M287.28,719.89L290.62,723.02M287.28,726.15L290.62,729.28M287.28,732.41L290.62,735.54M287.28,738.67L290.62,741.8M287.28,744.93L290.62,748.06M287.28,751.19L290.62,754.32M287.28,757.45L290.62,760.58M287.28,763.71L290.62,766.84M287.28,769.97L290.62,773.1M287.28,776.23L290.62,779.36M287.28,782.49L290.62,785.62M293.96,594.69L297.3,597.82M293.96,600.95L297.3,604.08M293.96,607.21L297.3,610.34M293.96,613.47L297.3,616.6M293.96,619.73L297.3,622.86M293.96,625.99L297.3,629.12M293.96,632.25L297.3,635.38M293.96,638.51L297.3,641.64M293.96,644.77L297.3,647.9M293.96,651.03L297.3,654.16M293.96,657.29L297.3,660.42M293.96,663.55L297.3,666.68M293.96,669.81L297.3,672.94M293.96,676.07L297.3,679.2M293.96,682.33L297.3,685.46M293.96,688.59L297.3,691.72M293.96,694.85L297.3,697.98M293.96,701.11L297.3,704.24M293.96,707.37L297.3,710.5M293.96,713.63L297.3,716.76M293.96,719.89L297.3,723.02M293.96,726.15L297.3,729.28M293.96,732.41L297.3,735.54M293.96,738.67L297.3,741.8M293.96,744.93L297.3,748.06M293.96,751.19L297.3,754.32M293.96,757.45L297.3,760.58M293.96,763.71L297.3,766.84M293.96,769.97L297.3,773.1M293.96,776.23L297.3,779.36M293.96,782.49L297.3,785.62M300.64,594.69L303.98,597.82M300.64,600.95L303.98,604.08M300.64,607.21L303.98,610.34M300.64,613.47L303.98,616.6M300.64,619.73L303.98,622.86M300.64,625.99L303.98,629.12M300.64,632.25L303.98,635.38M300.64,638.51L303.98,641.64M300.64,644.77L303.98,647.9M300.64,651.03L303.98,654.16M300.64,657.29L303.98,660.42M300.64,663.55L303.98,666.68M300.64,669.81L303.98,672.94M300.64,676.07L303.98,679.2M300.64,682.33L303.98,685.46M300.64,688.59L303.98,691.72M300.64,694.85L303.98,697.98M300.64,701.11L303.98,704.24M300.64,707.37L303.98,710.5M300.64,713.63L303.98,716.76M300.64,719.89L303.98,723.02M300.64,726.15L303.98,729.28M300.64,732.41L303.98,735.54M300.64,738.67L303.98,741.8M300.64,744.93L303.98,748.06M300.64,751.19L303.98,754.32M300.64,757.45L303.98,760.58M300.64,763.71L303.98,766.84M300.64,769.97L303.98,773.1M300.64,776.23L303.98,779.36M300.64,782.49L303.98,785.62M307.32,594.69L310.66,597.82M307.32,600.95L310.66,604.08M307.32,607.21L310.66,610.34M307.32,613.47L310.66,616.6M307.32,619.73L310.66,622.86M307.32,625.99L310.66,629.12M307.32,632.25L310.66,635.38M307.32,638.51L310.66,641.64M307.32,644.77L310.66,647.9M307.32,651.03L310.66,654.16M307.32,657.29L310.66,660.42M307.32,663.55L310.66,666.68M307.32,669.81L310.66,672.94M307.32,676.07L310.66,679.2M307.32,682.33L310.66,685.46M307.32,688.59L310.66,691.72M307.32,694.85L310.66,697.98M307.32,701.11L310.66,704.24M307.32,707.37L310.66,710.5M307.32,713.63L310.66,716.76M307.32,719.89L310.66,723.02M307.32,726.15L310.66,729.28M307.32,732.41L310.66,735.54M307.32,738.67L310.66,741.8M307.32,744.93L310.66,748.06M307.32,751.19L310.66,754.32M307.32,757.45L310.66,760.58M307.32,763.71L310.66,766.84M307.32,769.97L310.66,773.1M307.32,776.23L310.66,779.36M307.32,782.49L310.66,785.62M314,594.69L317.34,597.82M314,600.95L317.34,604.08M314,607.21L317.34,610.34M314,613.47L317.34,616.6M314,619.73L317.34,622.86M314,625.99L317.34,629.12M314,632.25L317.34,635.38M314,638.51L317.34,641.64M314,644.77L317.34,647.9M314,651.03L317.34,654.16M314,657.29L317.34,660.42M314,663.55L317.34,666.68M314,669.81L317.34,672.94M314,676.07L317.34,679.2M314,682.33L317.34,685.46M314,688.59L317.34,691.72M314,694.85L317.34,697.98M314,701.11L317.34,704.24M314,707.37L317.34,710.5M314,713.63L317.34,716.76M314,719.89L317.34,723.02M314,726.15L317.34,729.28M314,732.41L317.34,735.54M314,738.67L317.34,741.8M314,744.93L317.34,748.06M314,751.19L317.34,754.32M314,757.45L317.34,760.58M314,763.71L317.34,766.84M314,769.97L317.34,773.1M314,776.23L317.34,779.36M314,782.49L317.34,785.62" stroke="#000" stroke-width="0.85" fill="none"/></g>
<rect x="281.32" y="609.70" width="24.60" height="164.10" fill="none" stroke="#000" stroke-width="1.5"/>
<clipPath id="cB12"><rect x="305.92" y="643.10" width="24.60" height="130.70"/></clipPath>
<g clip-path="url(#cB12)"><rect x="305.92" y="643.1" width="24.6" height="130.7" fill="#fff"/><path d="M304.92,636.64H331.52M295.4,636.64v3.31M302.4,636.64v3.31M309.4,636.64v3.31M316.4,636.64v3.31M323.4,636.64v3.31M330.4,636.64v3.31M337.4,636.64v3.31M344.4,636.64v3.31M304.92,639.95H331.52M298.9,639.95v3.31M305.9,639.95v3.31M312.9,639.95v3.31M319.9,639.95v3.31M326.9,639.95v3.31M333.9,639.95v3.31M340.9,639.95v3.31M304.92,643.26H331.52M295.4,643.26v3.31M302.4,643.26v3.31M309.4,643.26v3.31M316.4,643.26v3.31M323.4,643.26v3.31M330.4,643.26v3.31M337.4,643.26v3.31M344.4,643.26v3.31M304.92,646.57H331.52M298.9,646.57v3.31M305.9,646.57v3.31M312.9,646.57v3.31M319.9,646.57v3.31M326.9,646.57v3.31M333.9,646.57v3.31M340.9,646.57v3.31M304.92,649.88H331.52M295.4,649.88v3.31M302.4,649.88v3.31M309.4,649.88v3.31M316.4,649.88v3.31M323.4,649.88v3.31M330.4,649.88v3.31M337.4,649.88v3.31M344.4,649.88v3.31M304.92,653.19H331.52M298.9,653.19v3.31M305.9,653.19v3.31M312.9,653.19v3.31M319.9,653.19v3.31M326.9,653.19v3.31M333.9,653.19v3.31M340.9,653.19v3.31M304.92,656.5H331.52M295.4,656.5v3.31M302.4,656.5v3.31M309.4,656.5v3.31M316.4,656.5v3.31M323.4,656.5v3.31M330.4,656.5v3.31M337.4,656.5v3.31M344.4,656.5v3.31M304.92,659.81H331.52M298.9,659.81v3.31M305.9,659.81v3.31M312.9,659.81v3.31M319.9,659.81v3.31M326.9,659.81v3.31M333.9,659.81v3.31M340.9,659.81v3.31M304.92,663.12H331.52M295.4,663.12v3.31M302.4,663.12v3.31M309.4,663.12v3.31M316.4,663.12v3.31M323.4,663.12v3.31M330.4,663.12v3.31M337.4,663.12v3.31M344.4,663.12v3.31M304.92,666.43H331.52M298.9,666.43v3.31M305.9,666.43v3.31M312.9,666.43v3.31M319.9,666.43v3.31M326.9,666.43v3.31M333.9,666.43v3.31M340.9,666.43v3.31M304.92,669.74H331.52M295.4,669.74v3.31M302.4,669.74v3.31M309.4,669.74v3.31M316.4,669.74v3.31M323.4,669.74v3.31M330.4,669.74v3.31M337.4,669.74v3.31M344.4,669.74v3.31M304.92,673.05H331.52M298.9,673.05v3.31M305.9,673.05v3.31M312.9,673.05v3.31M319.9,673.05v3.31M326.9,673.05v3.31M333.9,673.05v3.31M340.9,673.05v3.31M304.92,676.36H331.52M295.4,676.36v3.31M302.4,676.36v3.31M309.4,676.36v3.31M316.4,676.36v3.31M323.4,676.36v3.31M330.4,676.36v3.31M337.4,676.36v3.31M344.4,676.36v3.31M304.92,679.67H331.52M298.9,679.67v3.31M305.9,679.67v3.31M312.9,679.67v3.31M319.9,679.67v3.31M326.9,679.67v3.31M333.9,679.67v3.31M340.9,679.67v3.31M304.92,682.98H331.52M295.4,682.98v3.31M302.4,682.98v3.31M309.4,682.98v3.31M316.4,682.98v3.31M323.4,682.98v3.31M330.4,682.98v3.31M337.4,682.98v3.31M344.4,682.98v3.31M304.92,686.29H331.52M298.9,686.29v3.31M305.9,686.29v3.31M312.9,686.29v3.31M319.9,686.29v3.31M326.9,686.29v3.31M333.9,686.29v3.31M340.9,686.29v3.31M304.92,689.6H331.52M295.4,689.6v3.31M302.4,689.6v3.31M309.4,689.6v3.31M316.4,689.6v3.31M323.4,689.6v3.31M330.4,689.6v3.31M337.4,689.6v3.31M344.4,689.6v3.31M304.92,692.91H331.52M298.9,692.91v3.31M305.9,692.91v3.31M312.9,692.91v3.31M319.9,692.91v3.31M326.9,692.91v3.31M333.9,692.91v3.31M340.9,692.91v3.31M304.92,696.22H331.52M295.4,696.22v3.31M302.4,696.22v3.31M309.4,696.22v3.31M316.4,696.22v3.31M323.4,696.22v3.31M330.4,696.22v3.31M337.4,696.22v3.31M344.4,696.22v3.31M304.92,699.53H331.52M298.9,699.53v3.31M305.9,699.53v3.31M312.9,699.53v3.31M319.9,699.53v3.31M326.9,699.53v3.31M333.9,699.53v3.31M340.9,699.53v3.31M304.92,702.84H331.52M295.4,702.84v3.31M302.4,702.84v3.31M309.4,702.84v3.31M316.4,702.84v3.31M323.4,702.84v3.31M330.4,702.84v3.31M337.4,702.84v3.31M344.4,702.84v3.31M304.92,706.15H331.52M298.9,706.15v3.31M305.9,706.15v3.31M312.9,706.15v3.31M319.9,706.15v3.31M326.9,706.15v3.31M333.9,706.15v3.31M340.9,706.15v3.31M304.92,709.46H331.52M295.4,709.46v3.31M302.4,709.46v3.31M309.4,709.46v3.31M316.4,709.46v3.31M323.4,709.46v3.31M330.4,709.46v3.31M337.4,709.46v3.31M344.4,709.46v3.31M304.92,712.77H331.52M298.9,712.77v3.31M305.9,712.77v3.31M312.9,712.77v3.31M319.9,712.77v3.31M326.9,712.77v3.31M333.9,712.77v3.31M340.9,712.77v3.31M304.92,716.08H331.52M295.4,716.08v3.31M302.4,716.08v3.31M309.4,716.08v3.31M316.4,716.08v3.31M323.4,716.08v3.31M330.4,716.08v3.31M337.4,716.08v3.31M344.4,716.08v3.31M304.92,719.39H331.52M298.9,719.39v3.31M305.9,719.39v3.31M312.9,719.39v3.31M319.9,719.39v3.31M326.9,719.39v3.31M333.9,719.39v3.31M340.9,719.39v3.31M304.92,722.7H331.52M295.4,722.7v3.31M302.4,722.7v3.31M309.4,722.7v3.31M316.4,722.7v3.31M323.4,722.7v3.31M330.4,722.7v3.31M337.4,722.7v3.31M344.4,722.7v3.31M304.92,726.01H331.52M298.9,726.01v3.31M305.9,726.01v3.31M312.9,726.01v3.31M319.9,726.01v3.31M326.9,726.01v3.31M333.9,726.01v3.31M340.9,726.01v3.31M304.92,729.32H331.52M295.4,729.32v3.31M302.4,729.32v3.31M309.4,729.32v3.31M316.4,729.32v3.31M323.4,729.32v3.31M330.4,729.32v3.31M337.4,729.32v3.31M344.4,729.32v3.31M304.92,732.63H331.52M298.9,732.63v3.31M305.9,732.63v3.31M312.9,732.63v3.31M319.9,732.63v3.31M326.9,732.63v3.31M333.9,732.63v3.31M340.9,732.63v3.31M304.92,735.94H331.52M295.4,735.94v3.31M302.4,735.94v3.31M309.4,735.94v3.31M316.4,735.94v3.31M323.4,735.94v3.31M330.4,735.94v3.31M337.4,735.94v3.31M344.4,735.94v3.31M304.92,739.25H331.52M298.9,739.25v3.31M305.9,739.25v3.31M312.9,739.25v3.31M319.9,739.25v3.31M326.9,739.25v3.31M333.9,739.25v3.31M340.9,739.25v3.31M304.92,742.56H331.52M295.4,742.56v3.31M302.4,742.56v3.31M309.4,742.56v3.31M316.4,742.56v3.31M323.4,742.56v3.31M330.4,742.56v3.31M337.4,742.56v3.31M344.4,742.56v3.31M304.92,745.87H331.52M298.9,745.87v3.31M305.9,745.87v3.31M312.9,745.87v3.31M319.9,745.87v3.31M326.9,745.87v3.31M333.9,745.87v3.31M340.9,745.87v3.31M304.92,749.18H331.52M295.4,749.18v3.31M302.4,749.18v3.31M309.4,749.18v3.31M316.4,749.18v3.31M323.4,749.18v3.31M330.4,749.18v3.31M337.4,749.18v3.31M344.4,749.18v3.31M304.92,752.49H331.52M298.9,752.49v3.31M305.9,752.49v3.31M312.9,752.49v3.31M319.9,752.49v3.31M326.9,752.49v3.31M333.9,752.49v3.31M340.9,752.49v3.31M304.92,755.8H331.52M295.4,755.8v3.31M302.4,755.8v3.31M309.4,755.8v3.31M316.4,755.8v3.31M323.4,755.8v3.31M330.4,755.8v3.31M337.4,755.8v3.31M344.4,755.8v3.31M304.92,759.11H331.52M298.9,759.11v3.31M305.9,759.11v3.31M312.9,759.11v3.31M319.9,759.11v3.31M326.9,759.11v3.31M333.9,759.11v3.31M340.9,759.11v3.31M304.92,762.42H331.52M295.4,762.42v3.31M302.4,762.42v3.31M309.4,762.42v3.31M316.4,762.42v3.31M323.4,762.42v3.31M330.4,762.42v3.31M337.4,762.42v3.31M344.4,762.42v3.31M304.92,765.73H331.52M298.9,765.73v3.31M305.9,765.73v3.31M312.9,765.73v3.31M319.9,765.73v3.31M326.9,765.73v3.31M333.9,765.73v3.31M340.9,765.73v3.31M304.92,769.04H331.52M295.4,769.04v3.31M302.4,769.04v3.31M309.4,769.04v3.31M316.4,769.04v3.31M323.4,769.04v3.31M330.4,769.04v3.31M337.4,769.04v3.31M344.4,769.04v3.31M304.92,772.35H331.52M298.9,772.35v3.31M305.9,772.35v3.31M312.9,772.35v3.31M319.9,772.35v3.31M326.9,772.35v3.31M333.9,772.35v3.31M340.9,772.35v3.31M304.92,775.66H331.52M295.4,775.66v3.31M302.4,775.66v3.31M309.4,775.66v3.31M316.4,775.66v3.31M323.4,775.66v3.31M330.4,775.66v3.31M337.4,775.66v3.31M344.4,775.66v3.31M304.92,778.97H331.52M298.9,778.97v3.31M305.9,778.97v3.31M312.9,778.97v3.31M319.9,778.97v3.31M326.9,778.97v3.31M333.9,778.97v3.31M340.9,778.97v3.31" stroke="#000" stroke-width="1.1" fill="none"/></g>
<rect x="305.92" y="643.10" width="24.60" height="130.70" fill="none" stroke="#000" stroke-width="1.5"/>
<clipPath id="cB13"><rect x="330.52" y="747.50" width="24.60" height="26.30"/></clipPath>
<g clip-path="url(#cB13)"><rect x="330.52" y="747.5" width="24.6" height="26.3" fill="#4a4a4a"/><g fill="#000"><ellipse cx="328.88" cy="750.2" rx="1.75" ry="1.62"/><ellipse cx="328.88" cy="756.48" rx="1.75" ry="1.62"/><ellipse cx="328.88" cy="762.76" rx="1.75" ry="1.62"/><ellipse cx="328.88" cy="769.04" rx="1.75" ry="1.62"/><ellipse cx="328.88" cy="775.32" rx="1.75" ry="1.62"/><ellipse cx="332.2" cy="747.06" rx="1.75" ry="1.62"/><ellipse cx="335.52" cy="750.2" rx="1.75" ry="1.62"/><ellipse cx="332.2" cy="753.34" rx="1.75" ry="1.62"/><ellipse cx="335.52" cy="756.48" rx="1.75" ry="1.62"/><ellipse cx="332.2" cy="759.62" rx="1.75" ry="1.62"/><ellipse cx="335.52" cy="762.76" rx="1.75" ry="1.62"/><ellipse cx="332.2" cy="765.9" rx="1.75" ry="1.62"/><ellipse cx="335.52" cy="769.04" rx="1.75" ry="1.62"/><ellipse cx="332.2" cy="772.18" rx="1.75" ry="1.62"/><ellipse cx="335.52" cy="775.32" rx="1.75" ry="1.62"/><ellipse cx="338.85" cy="747.06" rx="1.75" ry="1.62"/><ellipse cx="342.18" cy="750.2" rx="1.75" ry="1.62"/><ellipse cx="338.85" cy="753.34" rx="1.75" ry="1.62"/><ellipse cx="342.18" cy="756.48" rx="1.75" ry="1.62"/><ellipse cx="338.85" cy="759.62" rx="1.75" ry="1.62"/><ellipse cx="342.18" cy="762.76" rx="1.75" ry="1.62"/><ellipse cx="338.85" cy="765.9" rx="1.75" ry="1.62"/><ellipse cx="342.18" cy="769.04" rx="1.75" ry="1.62"/><ellipse cx="338.85" cy="772.18" rx="1.75" ry="1.62"/><ellipse cx="342.18" cy="775.32" rx="1.75" ry="1.62"/><ellipse cx="345.5" cy="747.06" rx="1.75" ry="1.62"/><ellipse cx="348.82" cy="750.2" rx="1.75" ry="1.62"/><ellipse cx="345.5" cy="753.34" rx="1.75" ry="1.62"/><ellipse cx="348.82" cy="756.48" rx="1.75" ry="1.62"/><ellipse cx="345.5" cy="759.62" rx="1.75" ry="1.62"/><ellipse cx="348.82" cy="762.76" rx="1.75" ry="1.62"/><ellipse cx="345.5" cy="765.9" rx="1.75" ry="1.62"/><ellipse cx="348.82" cy="769.04" rx="1.75" ry="1.62"/><ellipse cx="345.5" cy="772.18" rx="1.75" ry="1.62"/><ellipse cx="348.82" cy="775.32" rx="1.75" ry="1.62"/><ellipse cx="352.15" cy="747.06" rx="1.75" ry="1.62"/><ellipse cx="355.47" cy="750.2" rx="1.75" ry="1.62"/><ellipse cx="352.15" cy="753.34" rx="1.75" ry="1.62"/><ellipse cx="355.47" cy="756.48" rx="1.75" ry="1.62"/><ellipse cx="352.15" cy="759.62" rx="1.75" ry="1.62"/><ellipse cx="355.47" cy="762.76" rx="1.75" ry="1.62"/><ellipse cx="352.15" cy="765.9" rx="1.75" ry="1.62"/><ellipse cx="355.47" cy="769.04" rx="1.75" ry="1.62"/><ellipse cx="352.15" cy="772.18" rx="1.75" ry="1.62"/><ellipse cx="355.47" cy="775.32" rx="1.75" ry="1.62"/></g><path d="M327.82,746.11h2.1v1.9h-2.1zM327.82,752.39h2.1v1.9h-2.1zM327.82,758.67h2.1v1.9h-2.1zM327.82,764.95h2.1v1.9h-2.1zM327.82,771.23h2.1v1.9h-2.1zM334.47,746.11h2.1v1.9h-2.1zM331.15,749.25h2.1v1.9h-2.1zM334.47,752.39h2.1v1.9h-2.1zM331.15,755.53h2.1v1.9h-2.1zM334.47,758.67h2.1v1.9h-2.1zM331.15,761.81h2.1v1.9h-2.1zM334.47,764.95h2.1v1.9h-2.1zM331.15,768.09h2.1v1.9h-2.1zM334.47,771.23h2.1v1.9h-2.1zM331.15,774.37h2.1v1.9h-2.1zM341.12,746.11h2.1v1.9h-2.1zM337.8,749.25h2.1v1.9h-2.1zM341.12,752.39h2.1v1.9h-2.1zM337.8,755.53h2.1v1.9h-2.1zM341.12,758.67h2.1v1.9h-2.1zM337.8,761.81h2.1v1.9h-2.1zM341.12,764.95h2.1v1.9h-2.1zM337.8,768.09h2.1v1.9h-2.1zM341.12,771.23h2.1v1.9h-2.1zM337.8,774.37h2.1v1.9h-2.1zM347.77,746.11h2.1v1.9h-2.1zM344.45,749.25h2.1v1.9h-2.1zM347.77,752.39h2.1v1.9h-2.1zM344.45,755.53h2.1v1.9h-2.1zM347.77,758.67h2.1v1.9h-2.1zM344.45,761.81h2.1v1.9h-2.1zM347.77,764.95h2.1v1.9h-2.1zM344.45,768.09h2.1v1.9h-2.1zM347.77,771.23h2.1v1.9h-2.1zM344.45,774.37h2.1v1.9h-2.1zM354.42,746.11h2.1v1.9h-2.1zM351.1,749.25h2.1v1.9h-2.1zM354.42,752.39h2.1v1.9h-2.1zM351.1,755.53h2.1v1.9h-2.1zM354.42,758.67h2.1v1.9h-2.1zM351.1,761.81h2.1v1.9h-2.1zM354.42,764.95h2.1v1.9h-2.1zM351.1,768.09h2.1v1.9h-2.1zM354.42,771.23h2.1v1.9h-2.1zM351.1,774.37h2.1v1.9h-2.1z" fill="#fff"/></g>
<rect x="330.52" y="747.50" width="24.60" height="26.30" fill="none" stroke="#000" stroke-width="1.5"/>
<clipPath id="cB20"><rect x="391.07" y="587.80" width="24.60" height="186.00"/></clipPath>
<g clip-path="url(#cB20)"><rect x="391.07" y="587.8" width="24.6" height="186" fill="#fff"/><path d="M390.07,584.92L416.67,549.2M390.07,588.21L416.67,552.49M390.07,591.5L416.67,555.78M390.07,594.79L416.67,559.07M390.07,598.08L416.67,562.36M390.07,601.37L416.67,565.65M390.07,604.66L416.67,568.94M390.07,607.95L416.67,572.23M390.07,611.24L416.67,575.52M390.07,614.53L416.67,578.81M390.07,617.82L416.67,582.1M390.07,621.11L416.67,585.39M390.07,624.4L416.67,588.68M390.07,627.69L416.67,591.97M390.07,630.98L416.67,595.26M390.07,634.27L416.67,598.55M390.07,637.56L416.67,601.84M390.07,640.85L416.67,605.13M390.07,644.14L416.67,608.42M390.07,647.43L416.67,611.71M390.07,650.72L416.67,615M390.07,654.01L416.67,618.29M390.07,657.3L416.67,621.58M390.07,660.59L416.67,624.87M390.07,663.88L416.67,628.16M390.07,667.17L416.67,631.45M390.07,670.46L416.67,634.74M390.07,673.75L416.67,638.03M390.07,677.04L416.67,641.32M390.07,680.33L416.67,644.61M390.07,683.62L416.67,647.9M390.07,686.91L416.67,651.19M390.07,690.2L416.67,654.48M390.07,693.49L416.67,657.77M390.07,696.78L416.67,661.06M390.07,700.07L416.67,664.35M390.07,703.36L416.67,667.64M390.07,706.65L416.67,670.93M390.07,709.94L416.67,674.22M390.07,713.23L416.67,677.51M390.07,716.52L416.67,680.8M390.07,719.81L416.67,684.09M390.07,723.1L416.67,687.38M390.07,726.39L416.67,690.67M390.07,729.68L416.67,693.96M390.07,732.97L416.67,697.25M390.07,736.26L416.67,700.54M390.07,739.55L416.67,703.83M390.07,742.84L416.67,707.12M390.07,746.13L416.67,710.41M390.07,749.42L416.67,713.7M390.07,752.71L416.67,716.99M390.07,756L416.67,720.28M390.07,759.29L416.67,723.57M390.07,762.58L416.67,726.86M390.07,765.87L416.67,730.15M390.07,769.16L416.67,733.44M390.07,772.45L416.67,736.73M390.07,775.74L416.67,740.02M390.07,779.03L416.67,743.31M390.07,782.32L416.67,746.6M390.07,785.61L416.67,749.89M390.07,788.9L416.67,753.18M390.07,792.19L416.67,756.47M390.07,795.48L416.67,759.76M390.07,798.77L416.67,763.05M390.07,802.06L416.67,766.34M390.07,805.35L416.67,769.63M390.07,808.64L416.67,772.92M390.07,811.93L416.67,776.21" stroke="#000" stroke-width="0.88" fill="none"/></g>
<rect x="391.07" y="587.80" width="24.60" height="186.00" fill="none" stroke="#000" stroke-width="1.5"/>
<clipPath id="cB21"><rect x="415.67" y="552.60" width="24.60" height="221.20"/></clipPath>
<g clip-path="url(#cB21)"><rect x="415.67" y="552.6" width="24.6" height="221.2" fill="#fff"/><path d="M414.67,544.16L441.27,519.24M414.67,550.42L441.27,525.5M414.67,556.68L441.27,531.76M414.67,562.94L441.27,538.02M414.67,569.2L441.27,544.28M414.67,575.46L441.27,550.54M414.67,581.72L441.27,556.8M414.67,587.98L441.27,563.06M414.67,594.24L441.27,569.32M414.67,600.5L441.27,575.58M414.67,606.76L441.27,581.84M414.67,613.02L441.27,588.1M414.67,619.28L441.27,594.36M414.67,625.54L441.27,600.62M414.67,631.8L441.27,606.88M414.67,638.06L441.27,613.14M414.67,644.32L441.27,619.4M414.67,650.58L441.27,625.66M414.67,656.84L441.27,631.92M414.67,663.1L441.27,638.18M414.67,669.36L441.27,644.44M414.67,675.62L441.27,650.7M414.67,681.88L441.27,656.96M414.67,688.14L441.27,663.22M414.67,694.4L441.27,669.48M414.67,700.66L441.27,675.74M414.67,706.92L441.27,682M414.67,713.18L441.27,688.26M414.67,719.44L441.27,694.52M414.67,725.7L441.27,700.78M414.67,731.96L441.27,707.04M414.67,738.22L441.27,713.3M414.67,744.48L441.27,719.56M414.67,750.74L441.27,725.82M414.67,757L441.27,732.08M414.67,763.26L441.27,738.34M414.67,769.52L441.27,744.6M414.67,775.78L441.27,750.86M414.67,782.04L441.27,757.12M414.67,788.3L441.27,763.38M414.67,794.56L441.27,769.64M414.67,800.82L441.27,775.9M414.67,807.08L441.27,782.16M400.84,538.35L404.18,541.48M400.84,544.61L404.18,547.74M400.84,550.87L404.18,554M400.84,557.13L404.18,560.26M400.84,563.39L404.18,566.52M400.84,569.65L404.18,572.78M400.84,575.91L404.18,579.04M400.84,582.17L404.18,585.3M400.84,588.43L404.18,591.56M400.84,594.69L404.18,597.82M400.84,600.95L404.18,604.08M400.84,607.21L404.18,610.34M400.84,613.47L404.18,616.6M400.84,619.73L404.18,622.86M400.84,625.99L404.18,629.12M400.84,632.25L404.18,635.38M400.84,638.51L404.18,641.64M400.84,644.77L404.18,647.9M400.84,651.03L404.18,654.16M400.84,657.29L404.18,660.42M400.84,663.55L404.18,666.68M400.84,669.81L404.18,672.94M400.84,676.07L404.18,679.2M400.84,682.33L404.18,685.46M400.84,688.59L404.18,691.72M400.84,694.85L404.18,697.98M400.84,701.11L404.18,704.24M400.84,707.37L404.18,710.5M400.84,713.63L404.18,716.76M400.84,719.89L404.18,723.02M400.84,726.15L404.18,729.28M400.84,732.41L404.18,735.54M400.84,738.67L404.18,741.8M400.84,744.93L404.18,748.06M400.84,751.19L404.18,754.32M400.84,757.45L404.18,760.58M400.84,763.71L404.18,766.84M400.84,769.97L404.18,773.1M400.84,776.23L404.18,779.36M400.84,782.49L404.18,785.62M407.52,538.35L410.86,541.48M407.52,544.61L410.86,547.74M407.52,550.87L410.86,554M407.52,557.13L410.86,560.26M407.52,563.39L410.86,566.52M407.52,569.65L410.86,572.78M407.52,575.91L410.86,579.04M407.52,582.17L410.86,585.3M407.52,588.43L410.86,591.56M407.52,594.69L410.86,597.82M407.52,600.95L410.86,604.08M407.52,607.21L410.86,610.34M407.52,613.47L410.86,616.6M407.52,619.73L410.86,622.86M407.52,625.99L410.86,629.12M407.52,632.25L410.86,635.38M407.52,638.51L410.86,641.64M407.52,644.77L410.86,647.9M407.52,651.03L410.86,654.16M407.52,657.29L410.86,660.42M407.52,663.55L410.86,666.68M407.52,669.81L410.86,672.94M407.52,676.07L410.86,679.2M407.52,682.33L410.86,685.46M407.52,688.59L410.86,691.72M407.52,694.85L410.86,697.98M407.52,701.11L410.86,704.24M407.52,707.37L410.86,710.5M407.52,713.63L410.86,716.76M407.52,719.89L410.86,723.02M407.52,726.15L410.86,729.28M407.52,732.41L410.86,735.54M407.52,738.67L410.86,741.8M407.52,744.93L410.86,748.06M407.52,751.19L410.86,754.32M407.52,757.45L410.86,760.58M407.52,763.71L410.86,766.84M407.52,769.97L410.86,773.1M407.52,776.23L410.86,779.36M407.52,782.49L410.86,785.62M414.2,538.35L417.54,541.48M414.2,544.61L417.54,547.74M414.2,550.87L417.54,554M414.2,557.13L417.54,560.26M414.2,563.39L417.54,566.52M414.2,569.65L417.54,572.78M414.2,575.91L417.54,579.04M414.2,582.17L417.54,585.3M414.2,588.43L417.54,591.56M414.2,594.69L417.54,597.82M414.2,600.95L417.54,604.08M414.2,607.21L417.54,610.34M414.2,613.47L417.54,616.6M414.2,619.73L417.54,622.86M414.2,625.99L417.54,629.12M414.2,632.25L417.54,635.38M414.2,638.51L417.54,641.64M414.2,644.77L417.54,647.9M414.2,651.03L417.54,654.16M414.2,657.29L417.54,660.42M414.2,663.55L417.54,666.68M414.2,669.81L417.54,672.94M414.2,676.07L417.54,679.2M414.2,682.33L417.54,685.46M414.2,688.59L417.54,691.72M414.2,694.85L417.54,697.98M414.2,701.11L417.54,704.24M414.2,707.37L417.54,710.5M414.2,713.63L417.54,716.76M414.2,719.89L417.54,723.02M414.2,726.15L417.54,729.28M414.2,732.41L417.54,735.54M414.2,738.67L417.54,741.8M414.2,744.93L417.54,748.06M414.2,751.19L417.54,754.32M414.2,757.45L417.54,760.58M414.2,763.71L417.54,766.84M414.2,769.97L417.54,773.1M414.2,776.23L417.54,779.36M414.2,782.49L417.54,785.62M420.88,538.35L424.22,541.48M420.88,544.61L424.22,547.74M420.88,550.87L424.22,554M420.88,557.13L424.22,560.26M420.88,563.39L424.22,566.52M420.88,569.65L424.22,572.78M420.88,575.91L424.22,579.04M420.88,582.17L424.22,585.3M420.88,588.43L424.22,591.56M420.88,594.69L424.22,597.82M420.88,600.95L424.22,604.08M420.88,607.21L424.22,610.34M420.88,613.47L424.22,616.6M420.88,619.73L424.22,622.86M420.88,625.99L424.22,629.12M420.88,632.25L424.22,635.38M420.88,638.51L424.22,641.64M420.88,644.77L424.22,647.9M420.88,651.03L424.22,654.16M420.88,657.29L424.22,660.42M420.88,663.55L424.22,666.68M420.88,669.81L424.22,672.94M420.88,676.07L424.22,679.2M420.88,682.33L424.22,685.46M420.88,688.59L424.22,691.72M420.88,694.85L424.22,697.98M420.88,701.11L424.22,704.24M420.88,707.37L424.22,710.5M420.88,713.63L424.22,716.76M420.88,719.89L424.22,723.02M420.88,726.15L424.22,729.28M420.88,732.41L424.22,735.54M420.88,738.67L424.22,741.8M420.88,744.93L424.22,748.06M420.88,751.19L424.22,754.32M420.88,757.45L424.22,760.58M420.88,763.71L424.22,766.84M420.88,769.97L424.22,773.1M420.88,776.23L424.22,779.36M420.88,782.49L424.22,785.62M427.56,538.35L430.9,541.48M427.56,544.61L430.9,547.74M427.56,550.87L430.9,554M427.56,557.13L430.9,560.26M427.56,563.39L430.9,566.52M427.56,569.65L430.9,572.78M427.56,575.91L430.9,579.04M427.56,582.17L430.9,585.3M427.56,588.43L430.9,591.56M427.56,594.69L430.9,597.82M427.56,600.95L430.9,604.08M427.56,607.21L430.9,610.34M427.56,613.47L430.9,616.6M427.56,619.73L430.9,622.86M427.56,625.99L430.9,629.12M427.56,632.25L430.9,635.38M427.56,638.51L430.9,641.64M427.56,644.77L430.9,647.9M427.56,651.03L430.9,654.16M427.56,657.29L430.9,660.42M427.56,663.55L430.9,666.68M427.56,669.81L430.9,672.94M427.56,676.07L430.9,679.2M427.56,682.33L430.9,685.46M427.56,688.59L430.9,691.72M427.56,694.85L430.9,697.98M427.56,701.11L430.9,704.24M427.56,707.37L430.9,710.5M427.56,713.63L430.9,716.76M427.56,719.89L430.9,723.02M427.56,726.15L430.9,729.28M427.56,732.41L430.9,735.54M427.56,738.67L430.9,741.8M427.56,744.93L430.9,748.06M427.56,751.19L430.9,754.32M427.56,757.45L430.9,760.58M427.56,763.71L430.9,766.84M427.56,769.97L430.9,773.1M427.56,776.23L430.9,779.36M427.56,782.49L430.9,785.62M434.24,538.35L437.58,541.48M434.24,544.61L437.58,547.74M434.24,550.87L437.58,554M434.24,557.13L437.58,560.26M434.24,563.39L437.58,566.52M434.24,569.65L437.58,572.78M434.24,575.91L437.58,579.04M434.24,582.17L437.58,585.3M434.24,588.43L437.58,591.56M434.24,594.69L437.58,597.82M434.24,600.95L437.58,604.08M434.24,607.21L437.58,610.34M434.24,613.47L437.58,616.6M434.24,619.73L437.58,622.86M434.24,625.99L437.58,629.12M434.24,632.25L437.58,635.38M434.24,638.51L437.58,641.64M434.24,644.77L437.58,647.9M434.24,651.03L437.58,654.16M434.24,657.29L437.58,660.42M434.24,663.55L437.58,666.68M434.24,669.81L437.58,672.94M434.24,676.07L437.58,679.2M434.24,682.33L437.58,685.46M434.24,688.59L437.58,691.72M434.24,694.85L437.58,697.98M434.24,701.11L437.58,704.24M434.24,707.37L437.58,710.5M434.24,713.63L437.58,716.76M434.24,719.89L437.58,723.02M434.24,726.15L437.58,729.28M434.24,732.41L437.58,735.54M434.24,738.67L437.58,741.8M434.24,744.93L437.58,748.06M434.24,751.19L437.58,754.32M434.24,757.45L437.58,760.58M434.24,763.71L437.58,766.84M434.24,769.97L437.58,773.1M434.24,776.23L437.58,779.36M434.24,782.49L437.58,785.62M440.92,538.35L444.26,541.48M440.92,544.61L444.26,547.74M440.92,550.87L444.26,554M440.92,557.13L444.26,560.26M440.92,563.39L444.26,566.52M440.92,569.65L444.26,572.78M440.92,575.91L444.26,579.04M440.92,582.17L444.26,585.3M440.92,588.43L444.26,591.56M440.92,594.69L444.26,597.82M440.92,600.95L444.26,604.08M440.92,607.21L444.26,610.34M440.92,613.47L444.26,616.6M440.92,619.73L444.26,622.86M440.92,625.99L444.26,629.12M440.92,632.25L444.26,635.38M440.92,638.51L444.26,641.64M440.92,644.77L444.26,647.9M440.92,651.03L444.26,654.16M440.92,657.29L444.26,660.42M440.92,663.55L444.26,666.68M440.92,669.81L444.26,672.94M440.92,676.07L444.26,679.2M440.92,682.33L444.26,685.46M440.92,688.59L444.26,691.72M440.92,694.85L444.26,697.98M440.92,701.11L444.26,704.24M440.92,707.37L444.26,710.5M440.92,713.63L444.26,716.76M440.92,719.89L444.26,723.02M440.92,726.15L444.26,729.28M440.92,732.41L444.26,735.54M440.92,738.67L444.26,741.8M440.92,744.93L444.26,748.06M440.92,751.19L444.26,754.32M440.92,757.45L444.26,760.58M440.92,763.71L444.26,766.84M440.92,769.97L444.26,773.1M440.92,776.23L444.26,779.36M440.92,782.49L444.26,785.62M447.6,538.35L450.94,541.48M447.6,544.61L450.94,547.74M447.6,550.87L450.94,554M447.6,557.13L450.94,560.26M447.6,563.39L450.94,566.52M447.6,569.65L450.94,572.78M447.6,575.91L450.94,579.04M447.6,582.17L450.94,585.3M447.6,588.43L450.94,591.56M447.6,594.69L450.94,597.82M447.6,600.95L450.94,604.08M447.6,607.21L450.94,610.34M447.6,613.47L450.94,616.6M447.6,619.73L450.94,622.86M447.6,625.99L450.94,629.12M447.6,632.25L450.94,635.38M447.6,638.51L450.94,641.64M447.6,644.77L450.94,647.9M447.6,651.03L450.94,654.16M447.6,657.29L450.94,660.42M447.6,663.55L450.94,666.68M447.6,669.81L450.94,672.94M447.6,676.07L450.94,679.2M447.6,682.33L450.94,685.46M447.6,688.59L450.94,691.72M447.6,694.85L450.94,697.98M447.6,701.11L450.94,704.24M447.6,707.37L450.94,710.5M447.6,713.63L450.94,716.76M447.6,719.89L450.94,723.02M447.6,726.15L450.94,729.28M447.6,732.41L450.94,735.54M447.6,738.67L450.94,741.8M447.6,744.93L450.94,748.06M447.6,751.19L450.94,754.32M447.6,757.45L450.94,760.58M447.6,763.71L450.94,766.84M447.6,769.97L450.94,773.1M447.6,776.23L450.94,779.36M447.6,782.49L450.94,785.62" stroke="#000" stroke-width="0.85" fill="none"/></g>
<rect x="415.67" y="552.60" width="24.60" height="221.20" fill="none" stroke="#000" stroke-width="1.5"/>
<clipPath id="cB22"><rect x="440.27" y="600.50" width="24.60" height="173.30"/></clipPath>
<g clip-path="url(#cB22)"><rect x="440.27" y="600.5" width="24.6" height="173.3" fill="#fff"/><path d="M439.27,596.92H465.87M428.4,596.92v3.31M435.4,596.92v3.31M442.4,596.92v3.31M449.4,596.92v3.31M456.4,596.92v3.31M463.4,596.92v3.31M470.4,596.92v3.31M477.4,596.92v3.31M439.27,600.23H465.87M431.9,600.23v3.31M438.9,600.23v3.31M445.9,600.23v3.31M452.9,600.23v3.31M459.9,600.23v3.31M466.9,600.23v3.31M473.9,600.23v3.31M439.27,603.54H465.87M428.4,603.54v3.31M435.4,603.54v3.31M442.4,603.54v3.31M449.4,603.54v3.31M456.4,603.54v3.31M463.4,603.54v3.31M470.4,603.54v3.31M477.4,603.54v3.31M439.27,606.85H465.87M431.9,606.85v3.31M438.9,606.85v3.31M445.9,606.85v3.31M452.9,606.85v3.31M459.9,606.85v3.31M466.9,606.85v3.31M473.9,606.85v3.31M439.27,610.16H465.87M428.4,610.16v3.31M435.4,610.16v3.31M442.4,610.16v3.31M449.4,610.16v3.31M456.4,610.16v3.31M463.4,610.16v3.31M470.4,610.16v3.31M477.4,610.16v3.31M439.27,613.47H465.87M431.9,613.47v3.31M438.9,613.47v3.31M445.9,613.47v3.31M452.9,613.47v3.31M459.9,613.47v3.31M466.9,613.47v3.31M473.9,613.47v3.31M439.27,616.78H465.87M428.4,616.78v3.31M435.4,616.78v3.31M442.4,616.78v3.31M449.4,616.78v3.31M456.4,616.78v3.31M463.4,616.78v3.31M470.4,616.78v3.31M477.4,616.78v3.31M439.27,620.09H465.87M431.9,620.09v3.31M438.9,620.09v3.31M445.9,620.09v3.31M452.9,620.09v3.31M459.9,620.09v3.31M466.9,620.09v3.31M473.9,620.09v3.31M439.27,623.4H465.87M428.4,623.4v3.31M435.4,623.4v3.31M442.4,623.4v3.31M449.4,623.4v3.31M456.4,623.4v3.31M463.4,623.4v3.31M470.4,623.4v3.31M477.4,623.4v3.31M439.27,626.71H465.87M431.9,626.71v3.31M438.9,626.71v3.31M445.9,626.71v3.31M452.9,626.71v3.31M459.9,626.71v3.31M466.9,626.71v3.31M473.9,626.71v3.31M439.27,630.02H465.87M428.4,630.02v3.31M435.4,630.02v3.31M442.4,630.02v3.31M449.4,630.02v3.31M456.4,630.02v3.31M463.4,630.02v3.31M470.4,630.02v3.31M477.4,630.02v3.31M439.27,633.33H465.87M431.9,633.33v3.31M438.9,633.33v3.31M445.9,633.33v3.31M452.9,633.33v3.31M459.9,633.33v3.31M466.9,633.33v3.31M473.9,633.33v3.31M439.27,636.64H465.87M428.4,636.64v3.31M435.4,636.64v3.31M442.4,636.64v3.31M449.4,636.64v3.31M456.4,636.64v3.31M463.4,636.64v3.31M470.4,636.64v3.31M477.4,636.64v3.31M439.27,639.95H465.87M431.9,639.95v3.31M438.9,639.95v3.31M445.9,639.95v3.31M452.9,639.95v3.31M459.9,639.95v3.31M466.9,639.95v3.31M473.9,639.95v3.31M439.27,643.26H465.87M428.4,643.26v3.31M435.4,643.26v3.31M442.4,643.26v3.31M449.4,643.26v3.31M456.4,643.26v3.31M463.4,643.26v3.31M470.4,643.26v3.31M477.4,643.26v3.31M439.27,646.57H465.87M431.9,646.57v3.31M438.9,646.57v3.31M445.9,646.57v3.31M452.9,646.57v3.31M459.9,646.57v3.31M466.9,646.57v3.31M473.9,646.57v3.31M439.27,649.88H465.87M428.4,649.88v3.31M435.4,649.88v3.31M442.4,649.88v3.31M449.4,649.88v3.31M456.4,649.88v3.31M463.4,649.88v3.31M470.4,649.88v3.31M477.4,649.88v3.31M439.27,653.19H465.87M431.9,653.19v3.31M438.9,653.19v3.31M445.9,653.19v3.31M452.9,653.19v3.31M459.9,653.19v3.31M466.9,653.19v3.31M473.9,653.19v3.31M439.27,656.5H465.87M428.4,656.5v3.31M435.4,656.5v3.31M442.4,656.5v3.31M449.4,656.5v3.31M456.4,656.5v3.31M463.4,656.5v3.31M470.4,656.5v3.31M477.4,656.5v3.31M439.27,659.81H465.87M431.9,659.81v3.31M438.9,659.81v3.31M445.9,659.81v3.31M452.9,659.81v3.31M459.9,659.81v3.31M466.9,659.81v3.31M473.9,659.81v3.31M439.27,663.12H465.87M428.4,663.12v3.31M435.4,663.12v3.31M442.4,663.12v3.31M449.4,663.12v3.31M456.4,663.12v3.31M463.4,663.12v3.31M470.4,663.12v3.31M477.4,663.12v3.31M439.27,666.43H465.87M431.9,666.43v3.31M438.9,666.43v3.31M445.9,666.43v3.31M452.9,666.43v3.31M459.9,666.43v3.31M466.9,666.43v3.31M473.9,666.43v3.31M439.27,669.74H465.87M428.4,669.74v3.31M435.4,669.74v3.31M442.4,669.74v3.31M449.4,669.74v3.31M456.4,669.74v3.31M463.4,669.74v3.31M470.4,669.74v3.31M477.4,669.74v3.31M439.27,673.05H465.87M431.9,673.05v3.31M438.9,673.05v3.31M445.9,673.05v3.31M452.9,673.05v3.31M459.9,673.05v3.31M466.9,673.05v3.31M473.9,673.05v3.31M439.27,676.36H465.87M428.4,676.36v3.31M435.4,676.36v3.31M442.4,676.36v3.31M449.4,676.36v3.31M456.4,676.36v3.31M463.4,676.36v3.31M470.4,676.36v3.31M477.4,676.36v3.31M439.27,679.67H465.87M431.9,679.67v3.31M438.9,679.67v3.31M445.9,679.67v3.31M452.9,679.67v3.31M459.9,679.67v3.31M466.9,679.67v3.31M473.9,679.67v3.31M439.27,682.98H465.87M428.4,682.98v3.31M435.4,682.98v3.31M442.4,682.98v3.31M449.4,682.98v3.31M456.4,682.98v3.31M463.4,682.98v3.31M470.4,682.98v3.31M477.4,682.98v3.31M439.27,686.29H465.87M431.9,686.29v3.31M438.9,686.29v3.31M445.9,686.29v3.31M452.9,686.29v3.31M459.9,686.29v3.31M466.9,686.29v3.31M473.9,686.29v3.31M439.27,689.6H465.87M428.4,689.6v3.31M435.4,689.6v3.31M442.4,689.6v3.31M449.4,689.6v3.31M456.4,689.6v3.31M463.4,689.6v3.31M470.4,689.6v3.31M477.4,689.6v3.31M439.27,692.91H465.87M431.9,692.91v3.31M438.9,692.91v3.31M445.9,692.91v3.31M452.9,692.91v3.31M459.9,692.91v3.31M466.9,692.91v3.31M473.9,692.91v3.31M439.27,696.22H465.87M428.4,696.22v3.31M435.4,696.22v3.31M442.4,696.22v3.31M449.4,696.22v3.31M456.4,696.22v3.31M463.4,696.22v3.31M470.4,696.22v3.31M477.4,696.22v3.31M439.27,699.53H465.87M431.9,699.53v3.31M438.9,699.53v3.31M445.9,699.53v3.31M452.9,699.53v3.31M459.9,699.53v3.31M466.9,699.53v3.31M473.9,699.53v3.31M439.27,702.84H465.87M428.4,702.84v3.31M435.4,702.84v3.31M442.4,702.84v3.31M449.4,702.84v3.31M456.4,702.84v3.31M463.4,702.84v3.31M470.4,702.84v3.31M477.4,702.84v3.31M439.27,706.15H465.87M431.9,706.15v3.31M438.9,706.15v3.31M445.9,706.15v3.31M452.9,706.15v3.31M459.9,706.15v3.31M466.9,706.15v3.31M473.9,706.15v3.31M439.27,709.46H465.87M428.4,709.46v3.31M435.4,709.46v3.31M442.4,709.46v3.31M449.4,709.46v3.31M456.4,709.46v3.31M463.4,709.46v3.31M470.4,709.46v3.31M477.4,709.46v3.31M439.27,712.77H465.87M431.9,712.77v3.31M438.9,712.77v3.31M445.9,712.77v3.31M452.9,712.77v3.31M459.9,712.77v3.31M466.9,712.77v3.31M473.9,712.77v3.31M439.27,716.08H465.87M428.4,716.08v3.31M435.4,716.08v3.31M442.4,716.08v3.31M449.4,716.08v3.31M456.4,716.08v3.31M463.4,716.08v3.31M470.4,716.08v3.31M477.4,716.08v3.31M439.27,719.39H465.87M431.9,719.39v3.31M438.9,719.39v3.31M445.9,719.39v3.31M452.9,719.39v3.31M459.9,719.39v3.31M466.9,719.39v3.31M473.9,719.39v3.31M439.27,722.7H465.87M428.4,722.7v3.31M435.4,722.7v3.31M442.4,722.7v3.31M449.4,722.7v3.31M456.4,722.7v3.31M463.4,722.7v3.31M470.4,722.7v3.31M477.4,722.7v3.31M439.27,726.01H465.87M431.9,726.01v3.31M438.9,726.01v3.31M445.9,726.01v3.31M452.9,726.01v3.31M459.9,726.01v3.31M466.9,726.01v3.31M473.9,726.01v3.31M439.27,729.32H465.87M428.4,729.32v3.31M435.4,729.32v3.31M442.4,729.32v3.31M449.4,729.32v3.31M456.4,729.32v3.31M463.4,729.32v3.31M470.4,729.32v3.31M477.4,729.32v3.31M439.27,732.63H465.87M431.9,732.63v3.31M438.9,732.63v3.31M445.9,732.63v3.31M452.9,732.63v3.31M459.9,732.63v3.31M466.9,732.63v3.31M473.9,732.63v3.31M439.27,735.94H465.87M428.4,735.94v3.31M435.4,735.94v3.31M442.4,735.94v3.31M449.4,735.94v3.31M456.4,735.94v3.31M463.4,735.94v3.31M470.4,735.94v3.31M477.4,735.94v3.31M439.27,739.25H465.87M431.9,739.25v3.31M438.9,739.25v3.31M445.9,739.25v3.31M452.9,739.25v3.31M459.9,739.25v3.31M466.9,739.25v3.31M473.9,739.25v3.31M439.27,742.56H465.87M428.4,742.56v3.31M435.4,742.56v3.31M442.4,742.56v3.31M449.4,742.56v3.31M456.4,742.56v3.31M463.4,742.56v3.31M470.4,742.56v3.31M477.4,742.56v3.31M439.27,745.87H465.87M431.9,745.87v3.31M438.9,745.87v3.31M445.9,745.87v3.31M452.9,745.87v3.31M459.9,745.87v3.31M466.9,745.87v3.31M473.9,745.87v3.31M439.27,749.18H465.87M428.4,749.18v3.31M435.4,749.18v3.31M442.4,749.18v3.31M449.4,749.18v3.31M456.4,749.18v3.31M463.4,749.18v3.31M470.4,749.18v3.31M477.4,749.18v3.31M439.27,752.49H465.87M431.9,752.49v3.31M438.9,752.49v3.31M445.9,752.49v3.31M452.9,752.49v3.31M459.9,752.49v3.31M466.9,752.49v3.31M473.9,752.49v3.31M439.27,755.8H465.87M428.4,755.8v3.31M435.4,755.8v3.31M442.4,755.8v3.31M449.4,755.8v3.31M456.4,755.8v3.31M463.4,755.8v3.31M470.4,755.8v3.31M477.4,755.8v3.31M439.27,759.11H465.87M431.9,759.11v3.31M438.9,759.11v3.31M445.9,759.11v3.31M452.9,759.11v3.31M459.9,759.11v3.31M466.9,759.11v3.31M473.9,759.11v3.31M439.27,762.42H465.87M428.4,762.42v3.31M435.4,762.42v3.31M442.4,762.42v3.31M449.4,762.42v3.31M456.4,762.42v3.31M463.4,762.42v3.31M470.4,762.42v3.31M477.4,762.42v3.31M439.27,765.73H465.87M431.9,765.73v3.31M438.9,765.73v3.31M445.9,765.73v3.31M452.9,765.73v3.31M459.9,765.73v3.31M466.9,765.73v3.31M473.9,765.73v3.31M439.27,769.04H465.87M428.4,769.04v3.31M435.4,769.04v3.31M442.4,769.04v3.31M449.4,769.04v3.31M456.4,769.04v3.31M463.4,769.04v3.31M470.4,769.04v3.31M477.4,769.04v3.31M439.27,772.35H465.87M431.9,772.35v3.31M438.9,772.35v3.31M445.9,772.35v3.31M452.9,772.35v3.31M459.9,772.35v3.31M466.9,772.35v3.31M473.9,772.35v3.31M439.27,775.66H465.87M428.4,775.66v3.31M435.4,775.66v3.31M442.4,775.66v3.31M449.4,775.66v3.31M456.4,775.66v3.31M463.4,775.66v3.31M470.4,775.66v3.31M477.4,775.66v3.31M439.27,778.97H465.87M431.9,778.97v3.31M438.9,778.97v3.31M445.9,778.97v3.31M452.9,778.97v3.31M459.9,778.97v3.31M466.9,778.97v3.31M473.9,778.97v3.31" stroke="#000" stroke-width="1.1" fill="none"/></g>
<rect x="440.27" y="600.50" width="24.60" height="173.30" fill="none" stroke="#000" stroke-width="1.5"/>
<clipPath id="cB23"><rect x="464.87" y="747.30" width="24.60" height="26.50"/></clipPath>
<g clip-path="url(#cB23)"><rect x="464.87" y="747.3" width="24.6" height="26.5" fill="#4a4a4a"/><g fill="#000"><ellipse cx="465.2" cy="747.06" rx="1.75" ry="1.62"/><ellipse cx="468.52" cy="750.2" rx="1.75" ry="1.62"/><ellipse cx="465.2" cy="753.34" rx="1.75" ry="1.62"/><ellipse cx="468.52" cy="756.48" rx="1.75" ry="1.62"/><ellipse cx="465.2" cy="759.62" rx="1.75" ry="1.62"/><ellipse cx="468.52" cy="762.76" rx="1.75" ry="1.62"/><ellipse cx="465.2" cy="765.9" rx="1.75" ry="1.62"/><ellipse cx="468.52" cy="769.04" rx="1.75" ry="1.62"/><ellipse cx="465.2" cy="772.18" rx="1.75" ry="1.62"/><ellipse cx="468.52" cy="775.32" rx="1.75" ry="1.62"/><ellipse cx="471.85" cy="747.06" rx="1.75" ry="1.62"/><ellipse cx="475.17" cy="750.2" rx="1.75" ry="1.62"/><ellipse cx="471.85" cy="753.34" rx="1.75" ry="1.62"/><ellipse cx="475.17" cy="756.48" rx="1.75" ry="1.62"/><ellipse cx="471.85" cy="759.62" rx="1.75" ry="1.62"/><ellipse cx="475.17" cy="762.76" rx="1.75" ry="1.62"/><ellipse cx="471.85" cy="765.9" rx="1.75" ry="1.62"/><ellipse cx="475.17" cy="769.04" rx="1.75" ry="1.62"/><ellipse cx="471.85" cy="772.18" rx="1.75" ry="1.62"/><ellipse cx="475.17" cy="775.32" rx="1.75" ry="1.62"/><ellipse cx="478.5" cy="747.06" rx="1.75" ry="1.62"/><ellipse cx="481.82" cy="750.2" rx="1.75" ry="1.62"/><ellipse cx="478.5" cy="753.34" rx="1.75" ry="1.62"/><ellipse cx="481.82" cy="756.48" rx="1.75" ry="1.62"/><ellipse cx="478.5" cy="759.62" rx="1.75" ry="1.62"/><ellipse cx="481.82" cy="762.76" rx="1.75" ry="1.62"/><ellipse cx="478.5" cy="765.9" rx="1.75" ry="1.62"/><ellipse cx="481.82" cy="769.04" rx="1.75" ry="1.62"/><ellipse cx="478.5" cy="772.18" rx="1.75" ry="1.62"/><ellipse cx="481.82" cy="775.32" rx="1.75" ry="1.62"/><ellipse cx="485.15" cy="747.06" rx="1.75" ry="1.62"/><ellipse cx="488.48" cy="750.2" rx="1.75" ry="1.62"/><ellipse cx="485.15" cy="753.34" rx="1.75" ry="1.62"/><ellipse cx="488.48" cy="756.48" rx="1.75" ry="1.62"/><ellipse cx="485.15" cy="759.62" rx="1.75" ry="1.62"/><ellipse cx="488.48" cy="762.76" rx="1.75" ry="1.62"/><ellipse cx="485.15" cy="765.9" rx="1.75" ry="1.62"/><ellipse cx="488.48" cy="769.04" rx="1.75" ry="1.62"/><ellipse cx="485.15" cy="772.18" rx="1.75" ry="1.62"/><ellipse cx="488.48" cy="775.32" rx="1.75" ry="1.62"/></g><path d="M467.47,746.11h2.1v1.9h-2.1zM464.15,749.25h2.1v1.9h-2.1zM467.47,752.39h2.1v1.9h-2.1zM464.15,755.53h2.1v1.9h-2.1zM467.47,758.67h2.1v1.9h-2.1zM464.15,761.81h2.1v1.9h-2.1zM467.47,764.95h2.1v1.9h-2.1zM464.15,768.09h2.1v1.9h-2.1zM467.47,771.23h2.1v1.9h-2.1zM464.15,774.37h2.1v1.9h-2.1zM474.12,746.11h2.1v1.9h-2.1zM470.8,749.25h2.1v1.9h-2.1zM474.12,752.39h2.1v1.9h-2.1zM470.8,755.53h2.1v1.9h-2.1zM474.12,758.67h2.1v1.9h-2.1zM470.8,761.81h2.1v1.9h-2.1zM474.12,764.95h2.1v1.9h-2.1zM470.8,768.09h2.1v1.9h-2.1zM474.12,771.23h2.1v1.9h-2.1zM470.8,774.37h2.1v1.9h-2.1zM480.77,746.11h2.1v1.9h-2.1zM477.45,749.25h2.1v1.9h-2.1zM480.77,752.39h2.1v1.9h-2.1zM477.45,755.53h2.1v1.9h-2.1zM480.77,758.67h2.1v1.9h-2.1zM477.45,761.81h2.1v1.9h-2.1zM480.77,764.95h2.1v1.9h-2.1zM477.45,768.09h2.1v1.9h-2.1zM480.77,771.23h2.1v1.9h-2.1zM477.45,774.37h2.1v1.9h-2.1zM487.43,746.11h2.1v1.9h-2.1zM484.1,749.25h2.1v1.9h-2.1zM487.43,752.39h2.1v1.9h-2.1zM484.1,755.53h2.1v1.9h-2.1zM487.43,758.67h2.1v1.9h-2.1zM484.1,761.81h2.1v1.9h-2.1zM487.43,764.95h2.1v1.9h-2.1zM484.1,768.09h2.1v1.9h-2.1zM487.43,771.23h2.1v1.9h-2.1zM484.1,774.37h2.1v1.9h-2.1z" fill="#fff"/></g>
<rect x="464.87" y="747.30" width="24.60" height="26.50" fill="none" stroke="#000" stroke-width="1.5"/>
<clipPath id="cB30"><rect x="525.42" y="557.40" width="24.60" height="216.40"/></clipPath>
<g clip-path="url(#cB30)"><rect x="525.42" y="557.4" width="24.6" height="216.4" fill="#fff"/><path d="M524.42,552.55L551.02,516.83M524.42,555.84L551.02,520.12M524.42,559.13L551.02,523.41M524.42,562.42L551.02,526.7M524.42,565.71L551.02,529.99M524.42,569L551.02,533.28M524.42,572.29L551.02,536.57M524.42,575.58L551.02,539.86M524.42,578.87L551.02,543.15M524.42,582.16L551.02,546.44M524.42,585.45L551.02,549.73M524.42,588.74L551.02,553.02M524.42,592.03L551.02,556.31M524.42,595.32L551.02,559.6M524.42,598.61L551.02,562.89M524.42,601.9L551.02,566.18M524.42,605.19L551.02,569.47M524.42,608.48L551.02,572.76M524.42,611.77L551.02,576.05M524.42,615.06L551.02,579.34M524.42,618.35L551.02,582.63M524.42,621.64L551.02,585.92M524.42,624.93L551.02,589.21M524.42,628.22L551.02,592.5M524.42,631.51L551.02,595.79M524.42,634.8L551.02,599.08M524.42,638.09L551.02,602.37M524.42,641.38L551.02,605.66M524.42,644.67L551.02,608.95M524.42,647.96L551.02,612.24M524.42,651.25L551.02,615.53M524.42,654.54L551.02,618.82M524.42,657.83L551.02,622.11M524.42,661.12L551.02,625.4M524.42,664.41L551.02,628.69M524.42,667.7L551.02,631.98M524.42,670.99L551.02,635.27M524.42,674.28L551.02,638.56M524.42,677.57L551.02,641.85M524.42,680.86L551.02,645.14M524.42,684.15L551.02,648.43M524.42,687.44L551.02,651.72M524.42,690.73L551.02,655.01M524.42,694.02L551.02,658.3M524.42,697.31L551.02,661.59M524.42,700.6L551.02,664.88M524.42,703.89L551.02,668.17M524.42,707.18L551.02,671.46M524.42,710.47L551.02,674.75M524.42,713.76L551.02,678.04M524.42,717.05L551.02,681.33M524.42,720.34L551.02,684.62M524.42,723.63L551.02,687.91M524.42,726.92L551.02,691.2M524.42,730.21L551.02,694.49M524.42,733.5L551.02,697.78M524.42,736.79L551.02,701.07M524.42,740.08L551.02,704.36M524.42,743.37L551.02,707.65M524.42,746.66L551.02,710.94M524.42,749.95L551.02,714.23M524.42,753.24L551.02,717.52M524.42,756.53L551.02,720.81M524.42,759.82L551.02,724.1M524.42,763.11L551.02,727.39M524.42,766.4L551.02,730.68M524.42,769.69L551.02,733.97M524.42,772.98L551.02,737.26M524.42,776.27L551.02,740.55M524.42,779.56L551.02,743.84M524.42,782.85L551.02,747.13M524.42,786.14L551.02,750.42M524.42,789.43L551.02,753.71M524.42,792.72L551.02,757M524.42,796.01L551.02,760.29M524.42,799.3L551.02,763.58M524.42,802.59L551.02,766.87M524.42,805.88L551.02,770.16M524.42,809.17L551.02,773.45M524.42,812.46L551.02,776.74" stroke="#000" stroke-width="0.88" fill="none"/></g>
<rect x="525.42" y="557.40" width="24.60" height="216.40" fill="none" stroke="#000" stroke-width="1.5"/>
<clipPath id="cB31"><rect x="550.02" y="573.10" width="24.60" height="200.70"/></clipPath>
<g clip-path="url(#cB31)"><rect x="550.02" y="573.1" width="24.6" height="200.7" fill="#fff"/><path d="M549.02,562.24L575.62,537.31M549.02,568.5L575.62,543.57M549.02,574.76L575.62,549.83M549.02,581.02L575.62,556.09M549.02,587.28L575.62,562.35M549.02,593.54L575.62,568.61M549.02,599.8L575.62,574.87M549.02,606.06L575.62,581.13M549.02,612.32L575.62,587.39M549.02,618.58L575.62,593.65M549.02,624.84L575.62,599.91M549.02,631.1L575.62,606.17M549.02,637.36L575.62,612.43M549.02,643.62L575.62,618.69M549.02,649.88L575.62,624.95M549.02,656.14L575.62,631.21M549.02,662.4L575.62,637.47M549.02,668.66L575.62,643.73M549.02,674.92L575.62,649.99M549.02,681.18L575.62,656.25M549.02,687.44L575.62,662.51M549.02,693.7L575.62,668.77M549.02,699.96L575.62,675.03M549.02,706.22L575.62,681.29M549.02,712.48L575.62,687.55M549.02,718.74L575.62,693.81M549.02,725L575.62,700.07M549.02,731.26L575.62,706.33M549.02,737.52L575.62,712.59M549.02,743.78L575.62,718.85M549.02,750.04L575.62,725.11M549.02,756.3L575.62,731.37M549.02,762.56L575.62,737.63M549.02,768.82L575.62,743.89M549.02,775.08L575.62,750.15M549.02,781.34L575.62,756.41M549.02,787.6L575.62,762.67M549.02,793.86L575.62,768.93M549.02,800.12L575.62,775.19M549.02,806.38L575.62,781.45M534.44,563.39L537.78,566.52M534.44,569.65L537.78,572.78M534.44,575.91L537.78,579.04M534.44,582.17L537.78,585.3M534.44,588.43L537.78,591.56M534.44,594.69L537.78,597.82M534.44,600.95L537.78,604.08M534.44,607.21L537.78,610.34M534.44,613.47L537.78,616.6M534.44,619.73L537.78,622.86M534.44,625.99L537.78,629.12M534.44,632.25L537.78,635.38M534.44,638.51L537.78,641.64M534.44,644.77L537.78,647.9M534.44,651.03L537.78,654.16M534.44,657.29L537.78,660.42M534.44,663.55L537.78,666.68M534.44,669.81L537.78,672.94M534.44,676.07L537.78,679.2M534.44,682.33L537.78,685.46M534.44,688.59L537.78,691.72M534.44,694.85L537.78,697.98M534.44,701.11L537.78,704.24M534.44,707.37L537.78,710.5M534.44,713.63L537.78,716.76M534.44,719.89L537.78,723.02M534.44,726.15L537.78,729.28M534.44,732.41L537.78,735.54M534.44,738.67L537.78,741.8M534.44,744.93L537.78,748.06M534.44,751.19L537.78,754.32M534.44,757.45L537.78,760.58M534.44,763.71L537.78,766.84M534.44,769.97L537.78,773.1M534.44,776.23L537.78,779.36M534.44,782.49L537.78,785.62M541.12,563.39L544.46,566.52M541.12,569.65L544.46,572.78M541.12,575.91L544.46,579.04M541.12,582.17L544.46,585.3M541.12,588.43L544.46,591.56M541.12,594.69L544.46,597.82M541.12,600.95L544.46,604.08M541.12,607.21L544.46,610.34M541.12,613.47L544.46,616.6M541.12,619.73L544.46,622.86M541.12,625.99L544.46,629.12M541.12,632.25L544.46,635.38M541.12,638.51L544.46,641.64M541.12,644.77L544.46,647.9M541.12,651.03L544.46,654.16M541.12,657.29L544.46,660.42M541.12,663.55L544.46,666.68M541.12,669.81L544.46,672.94M541.12,676.07L544.46,679.2M541.12,682.33L544.46,685.46M541.12,688.59L544.46,691.72M541.12,694.85L544.46,697.98M541.12,701.11L544.46,704.24M541.12,707.37L544.46,710.5M541.12,713.63L544.46,716.76M541.12,719.89L544.46,723.02M541.12,726.15L544.46,729.28M541.12,732.41L544.46,735.54M541.12,738.67L544.46,741.8M541.12,744.93L544.46,748.06M541.12,751.19L544.46,754.32M541.12,757.45L544.46,760.58M541.12,763.71L544.46,766.84M541.12,769.97L544.46,773.1M541.12,776.23L544.46,779.36M541.12,782.49L544.46,785.62M547.8,563.39L551.14,566.52M547.8,569.65L551.14,572.78M547.8,575.91L551.14,579.04M547.8,582.17L551.14,585.3M547.8,588.43L551.14,591.56M547.8,594.69L551.14,597.82M547.8,600.95L551.14,604.08M547.8,607.21L551.14,610.34M547.8,613.47L551.14,616.6M547.8,619.73L551.14,622.86M547.8,625.99L551.14,629.12M547.8,632.25L551.14,635.38M547.8,638.51L551.14,641.64M547.8,644.77L551.14,647.9M547.8,651.03L551.14,654.16M547.8,657.29L551.14,660.42M547.8,663.55L551.14,666.68M547.8,669.81L551.14,672.94M547.8,676.07L551.14,679.2M547.8,682.33L551.14,685.46M547.8,688.59L551.14,691.72M547.8,694.85L551.14,697.98M547.8,701.11L551.14,704.24M547.8,707.37L551.14,710.5M547.8,713.63L551.14,716.76M547.8,719.89L551.14,723.02M547.8,726.15L551.14,729.28M547.8,732.41L551.14,735.54M547.8,738.67L551.14,741.8M547.8,744.93L551.14,748.06M547.8,751.19L551.14,754.32M547.8,757.45L551.14,760.58M547.8,763.71L551.14,766.84M547.8,769.97L551.14,773.1M547.8,776.23L551.14,779.36M547.8,782.49L551.14,785.62M554.48,563.39L557.82,566.52M554.48,569.65L557.82,572.78M554.48,575.91L557.82,579.04M554.48,582.17L557.82,585.3M554.48,588.43L557.82,591.56M554.48,594.69L557.82,597.82M554.48,600.95L557.82,604.08M554.48,607.21L557.82,610.34M554.48,613.47L557.82,616.6M554.48,619.73L557.82,622.86M554.48,625.99L557.82,629.12M554.48,632.25L557.82,635.38M554.48,638.51L557.82,641.64M554.48,644.77L557.82,647.9M554.48,651.03L557.82,654.16M554.48,657.29L557.82,660.42M554.48,663.55L557.82,666.68M554.48,669.81L557.82,672.94M554.48,676.07L557.82,679.2M554.48,682.33L557.82,685.46M554.48,688.59L557.82,691.72M554.48,694.85L557.82,697.98M554.48,701.11L557.82,704.24M554.48,707.37L557.82,710.5M554.48,713.63L557.82,716.76M554.48,719.89L557.82,723.02M554.48,726.15L557.82,729.28M554.48,732.41L557.82,735.54M554.48,738.67L557.82,741.8M554.48,744.93L557.82,748.06M554.48,751.19L557.82,754.32M554.48,757.45L557.82,760.58M554.48,763.71L557.82,766.84M554.48,769.97L557.82,773.1M554.48,776.23L557.82,779.36M554.48,782.49L557.82,785.62M561.16,563.39L564.5,566.52M561.16,569.65L564.5,572.78M561.16,575.91L564.5,579.04M561.16,582.17L564.5,585.3M561.16,588.43L564.5,591.56M561.16,594.69L564.5,597.82M561.16,600.95L564.5,604.08M561.16,607.21L564.5,610.34M561.16,613.47L564.5,616.6M561.16,619.73L564.5,622.86M561.16,625.99L564.5,629.12M561.16,632.25L564.5,635.38M561.16,638.51L564.5,641.64M561.16,644.77L564.5,647.9M561.16,651.03L564.5,654.16M561.16,657.29L564.5,660.42M561.16,663.55L564.5,666.68M561.16,669.81L564.5,672.94M561.16,676.07L564.5,679.2M561.16,682.33L564.5,685.46M561.16,688.59L564.5,691.72M561.16,694.85L564.5,697.98M561.16,701.11L564.5,704.24M561.16,707.37L564.5,710.5M561.16,713.63L564.5,716.76M561.16,719.89L564.5,723.02M561.16,726.15L564.5,729.28M561.16,732.41L564.5,735.54M561.16,738.67L564.5,741.8M561.16,744.93L564.5,748.06M561.16,751.19L564.5,754.32M561.16,757.45L564.5,760.58M561.16,763.71L564.5,766.84M561.16,769.97L564.5,773.1M561.16,776.23L564.5,779.36M561.16,782.49L564.5,785.62M567.84,563.39L571.18,566.52M567.84,569.65L571.18,572.78M567.84,575.91L571.18,579.04M567.84,582.17L571.18,585.3M567.84,588.43L571.18,591.56M567.84,594.69L571.18,597.82M567.84,600.95L571.18,604.08M567.84,607.21L571.18,610.34M567.84,613.47L571.18,616.6M567.84,619.73L571.18,622.86M567.84,625.99L571.18,629.12M567.84,632.25L571.18,635.38M567.84,638.51L571.18,641.64M567.84,644.77L571.18,647.9M567.84,651.03L571.18,654.16M567.84,657.29L571.18,660.42M567.84,663.55L571.18,666.68M567.84,669.81L571.18,672.94M567.84,676.07L571.18,679.2M567.84,682.33L571.18,685.46M567.84,688.59L571.18,691.72M567.84,694.85L571.18,697.98M567.84,701.11L571.18,704.24M567.84,707.37L571.18,710.5M567.84,713.63L571.18,716.76M567.84,719.89L571.18,723.02M567.84,726.15L571.18,729.28M567.84,732.41L571.18,735.54M567.84,738.67L571.18,741.8M567.84,744.93L571.18,748.06M567.84,751.19L571.18,754.32M567.84,757.45L571.18,760.58M567.84,763.71L571.18,766.84M567.84,769.97L571.18,773.1M567.84,776.23L571.18,779.36M567.84,782.49L571.18,785.62M574.52,563.39L577.86,566.52M574.52,569.65L577.86,572.78M574.52,575.91L577.86,579.04M574.52,582.17L577.86,585.3M574.52,588.43L577.86,591.56M574.52,594.69L577.86,597.82M574.52,600.95L577.86,604.08M574.52,607.21L577.86,610.34M574.52,613.47L577.86,616.6M574.52,619.73L577.86,622.86M574.52,625.99L577.86,629.12M574.52,632.25L577.86,635.38M574.52,638.51L577.86,641.64M574.52,644.77L577.86,647.9M574.52,651.03L577.86,654.16M574.52,657.29L577.86,660.42M574.52,663.55L577.86,666.68M574.52,669.81L577.86,672.94M574.52,676.07L577.86,679.2M574.52,682.33L577.86,685.46M574.52,688.59L577.86,691.72M574.52,694.85L577.86,697.98M574.52,701.11L577.86,704.24M574.52,707.37L577.86,710.5M574.52,713.63L577.86,716.76M574.52,719.89L577.86,723.02M574.52,726.15L577.86,729.28M574.52,732.41L577.86,735.54M574.52,738.67L577.86,741.8M574.52,744.93L577.86,748.06M574.52,751.19L577.86,754.32M574.52,757.45L577.86,760.58M574.52,763.71L577.86,766.84M574.52,769.97L577.86,773.1M574.52,776.23L577.86,779.36M574.52,782.49L577.86,785.62M581.2,563.39L584.54,566.52M581.2,569.65L584.54,572.78M581.2,575.91L584.54,579.04M581.2,582.17L584.54,585.3M581.2,588.43L584.54,591.56M581.2,594.69L584.54,597.82M581.2,600.95L584.54,604.08M581.2,607.21L584.54,610.34M581.2,613.47L584.54,616.6M581.2,619.73L584.54,622.86M581.2,625.99L584.54,629.12M581.2,632.25L584.54,635.38M581.2,638.51L584.54,641.64M581.2,644.77L584.54,647.9M581.2,651.03L584.54,654.16M581.2,657.29L584.54,660.42M581.2,663.55L584.54,666.68M581.2,669.81L584.54,672.94M581.2,676.07L584.54,679.2M581.2,682.33L584.54,685.46M581.2,688.59L584.54,691.72M581.2,694.85L584.54,697.98M581.2,701.11L584.54,704.24M581.2,707.37L584.54,710.5M581.2,713.63L584.54,716.76M581.2,719.89L584.54,723.02M581.2,726.15L584.54,729.28M581.2,732.41L584.54,735.54M581.2,738.67L584.54,741.8M581.2,744.93L584.54,748.06M581.2,751.19L584.54,754.32M581.2,757.45L584.54,760.58M581.2,763.71L584.54,766.84M581.2,769.97L584.54,773.1M581.2,776.23L584.54,779.36M581.2,782.49L584.54,785.62" stroke="#000" stroke-width="0.85" fill="none"/></g>
<rect x="550.02" y="573.10" width="24.60" height="200.70" fill="none" stroke="#000" stroke-width="1.5"/>
<clipPath id="cB32"><rect x="574.62" y="596.50" width="24.60" height="177.30"/></clipPath>
<g clip-path="url(#cB32)"><rect x="574.62" y="596.5" width="24.6" height="177.3" fill="#fff"/><path d="M573.62,590.3H600.23M561.4,590.3v3.31M568.4,590.3v3.31M575.4,590.3v3.31M582.4,590.3v3.31M589.4,590.3v3.31M596.4,590.3v3.31M603.4,590.3v3.31M610.4,590.3v3.31M573.62,593.61H600.23M564.9,593.61v3.31M571.9,593.61v3.31M578.9,593.61v3.31M585.9,593.61v3.31M592.9,593.61v3.31M599.9,593.61v3.31M606.9,593.61v3.31M573.62,596.92H600.23M561.4,596.92v3.31M568.4,596.92v3.31M575.4,596.92v3.31M582.4,596.92v3.31M589.4,596.92v3.31M596.4,596.92v3.31M603.4,596.92v3.31M610.4,596.92v3.31M573.62,600.23H600.23M564.9,600.23v3.31M571.9,600.23v3.31M578.9,600.23v3.31M585.9,600.23v3.31M592.9,600.23v3.31M599.9,600.23v3.31M606.9,600.23v3.31M573.62,603.54H600.23M561.4,603.54v3.31M568.4,603.54v3.31M575.4,603.54v3.31M582.4,603.54v3.31M589.4,603.54v3.31M596.4,603.54v3.31M603.4,603.54v3.31M610.4,603.54v3.31M573.62,606.85H600.23M564.9,606.85v3.31M571.9,606.85v3.31M578.9,606.85v3.31M585.9,606.85v3.31M592.9,606.85v3.31M599.9,606.85v3.31M606.9,606.85v3.31M573.62,610.16H600.23M561.4,610.16v3.31M568.4,610.16v3.31M575.4,610.16v3.31M582.4,610.16v3.31M589.4,610.16v3.31M596.4,610.16v3.31M603.4,610.16v3.31M610.4,610.16v3.31M573.62,613.47H600.23M564.9,613.47v3.31M571.9,613.47v3.31M578.9,613.47v3.31M585.9,613.47v3.31M592.9,613.47v3.31M599.9,613.47v3.31M606.9,613.47v3.31M573.62,616.78H600.23M561.4,616.78v3.31M568.4,616.78v3.31M575.4,616.78v3.31M582.4,616.78v3.31M589.4,616.78v3.31M596.4,616.78v3.31M603.4,616.78v3.31M610.4,616.78v3.31M573.62,620.09H600.23M564.9,620.09v3.31M571.9,620.09v3.31M578.9,620.09v3.31M585.9,620.09v3.31M592.9,620.09v3.31M599.9,620.09v3.31M606.9,620.09v3.31M573.62,623.4H600.23M561.4,623.4v3.31M568.4,623.4v3.31M575.4,623.4v3.31M582.4,623.4v3.31M589.4,623.4v3.31M596.4,623.4v3.31M603.4,623.4v3.31M610.4,623.4v3.31M573.62,626.71H600.23M564.9,626.71v3.31M571.9,626.71v3.31M578.9,626.71v3.31M585.9,626.71v3.31M592.9,626.71v3.31M599.9,626.71v3.31M606.9,626.71v3.31M573.62,630.02H600.23M561.4,630.02v3.31M568.4,630.02v3.31M575.4,630.02v3.31M582.4,630.02v3.31M589.4,630.02v3.31M596.4,630.02v3.31M603.4,630.02v3.31M610.4,630.02v3.31M573.62,633.33H600.23M564.9,633.33v3.31M571.9,633.33v3.31M578.9,633.33v3.31M585.9,633.33v3.31M592.9,633.33v3.31M599.9,633.33v3.31M606.9,633.33v3.31M573.62,636.64H600.23M561.4,636.64v3.31M568.4,636.64v3.31M575.4,636.64v3.31M582.4,636.64v3.31M589.4,636.64v3.31M596.4,636.64v3.31M603.4,636.64v3.31M610.4,636.64v3.31M573.62,639.95H600.23M564.9,639.95v3.31M571.9,639.95v3.31M578.9,639.95v3.31M585.9,639.95v3.31M592.9,639.95v3.31M599.9,639.95v3.31M606.9,639.95v3.31M573.62,643.26H600.23M561.4,643.26v3.31M568.4,643.26v3.31M575.4,643.26v3.31M582.4,643.26v3.31M589.4,643.26v3.31M596.4,643.26v3.31M603.4,643.26v3.31M610.4,643.26v3.31M573.62,646.57H600.23M564.9,646.57v3.31M571.9,646.57v3.31M578.9,646.57v3.31M585.9,646.57v3.31M592.9,646.57v3.31M599.9,646.57v3.31M606.9,646.57v3.31M573.62,649.88H600.23M561.4,649.88v3.31M568.4,649.88v3.31M575.4,649.88v3.31M582.4,649.88v3.31M589.4,649.88v3.31M596.4,649.88v3.31M603.4,649.88v3.31M610.4,649.88v3.31M573.62,653.19H600.23M564.9,653.19v3.31M571.9,653.19v3.31M578.9,653.19v3.31M585.9,653.19v3.31M592.9,653.19v3.31M599.9,653.19v3.31M606.9,653.19v3.31M573.62,656.5H600.23M561.4,656.5v3.31M568.4,656.5v3.31M575.4,656.5v3.31M582.4,656.5v3.31M589.4,656.5v3.31M596.4,656.5v3.31M603.4,656.5v3.31M610.4,656.5v3.31M573.62,659.81H600.23M564.9,659.81v3.31M571.9,659.81v3.31M578.9,659.81v3.31M585.9,659.81v3.31M592.9,659.81v3.31M599.9,659.81v3.31M606.9,659.81v3.31M573.62,663.12H600.23M561.4,663.12v3.31M568.4,663.12v3.31M575.4,663.12v3.31M582.4,663.12v3.31M589.4,663.12v3.31M596.4,663.12v3.31M603.4,663.12v3.31M610.4,663.12v3.31M573.62,666.43H600.23M564.9,666.43v3.31M571.9,666.43v3.31M578.9,666.43v3.31M585.9,666.43v3.31M592.9,666.43v3.31M599.9,666.43v3.31M606.9,666.43v3.31M573.62,669.74H600.23M561.4,669.74v3.31M568.4,669.74v3.31M575.4,669.74v3.31M582.4,669.74v3.31M589.4,669.74v3.31M596.4,669.74v3.31M603.4,669.74v3.31M610.4,669.74v3.31M573.62,673.05H600.23M564.9,673.05v3.31M571.9,673.05v3.31M578.9,673.05v3.31M585.9,673.05v3.31M592.9,673.05v3.31M599.9,673.05v3.31M606.9,673.05v3.31M573.62,676.36H600.23M561.4,676.36v3.31M568.4,676.36v3.31M575.4,676.36v3.31M582.4,676.36v3.31M589.4,676.36v3.31M596.4,676.36v3.31M603.4,676.36v3.31M610.4,676.36v3.31M573.62,679.67H600.23M564.9,679.67v3.31M571.9,679.67v3.31M578.9,679.67v3.31M585.9,679.67v3.31M592.9,679.67v3.31M599.9,679.67v3.31M606.9,679.67v3.31M573.62,682.98H600.23M561.4,682.98v3.31M568.4,682.98v3.31M575.4,682.98v3.31M582.4,682.98v3.31M589.4,682.98v3.31M596.4,682.98v3.31M603.4,682.98v3.31M610.4,682.98v3.31M573.62,686.29H600.23M564.9,686.29v3.31M571.9,686.29v3.31M578.9,686.29v3.31M585.9,686.29v3.31M592.9,686.29v3.31M599.9,686.29v3.31M606.9,686.29v3.31M573.62,689.6H600.23M561.4,689.6v3.31M568.4,689.6v3.31M575.4,689.6v3.31M582.4,689.6v3.31M589.4,689.6v3.31M596.4,689.6v3.31M603.4,689.6v3.31M610.4,689.6v3.31M573.62,692.91H600.23M564.9,692.91v3.31M571.9,692.91v3.31M578.9,692.91v3.31M585.9,692.91v3.31M592.9,692.91v3.31M599.9,692.91v3.31M606.9,692.91v3.31M573.62,696.22H600.23M561.4,696.22v3.31M568.4,696.22v3.31M575.4,696.22v3.31M582.4,696.22v3.31M589.4,696.22v3.31M596.4,696.22v3.31M603.4,696.22v3.31M610.4,696.22v3.31M573.62,699.53H600.23M564.9,699.53v3.31M571.9,699.53v3.31M578.9,699.53v3.31M585.9,699.53v3.31M592.9,699.53v3.31M599.9,699.53v3.31M606.9,699.53v3.31M573.62,702.84H600.23M561.4,702.84v3.31M568.4,702.84v3.31M575.4,702.84v3.31M582.4,702.84v3.31M589.4,702.84v3.31M596.4,702.84v3.31M603.4,702.84v3.31M610.4,702.84v3.31M573.62,706.15H600.23M564.9,706.15v3.31M571.9,706.15v3.31M578.9,706.15v3.31M585.9,706.15v3.31M592.9,706.15v3.31M599.9,706.15v3.31M606.9,706.15v3.31M573.62,709.46H600.23M561.4,709.46v3.31M568.4,709.46v3.31M575.4,709.46v3.31M582.4,709.46v3.31M589.4,709.46v3.31M596.4,709.46v3.31M603.4,709.46v3.31M610.4,709.46v3.31M573.62,712.77H600.23M564.9,712.77v3.31M571.9,712.77v3.31M578.9,712.77v3.31M585.9,712.77v3.31M592.9,712.77v3.31M599.9,712.77v3.31M606.9,712.77v3.31M573.62,716.08H600.23M561.4,716.08v3.31M568.4,716.08v3.31M575.4,716.08v3.31M582.4,716.08v3.31M589.4,716.08v3.31M596.4,716.08v3.31M603.4,716.08v3.31M610.4,716.08v3.31M573.62,719.39H600.23M564.9,719.39v3.31M571.9,719.39v3.31M578.9,719.39v3.31M585.9,719.39v3.31M592.9,719.39v3.31M599.9,719.39v3.31M606.9,719.39v3.31M573.62,722.7H600.23M561.4,722.7v3.31M568.4,722.7v3.31M575.4,722.7v3.31M582.4,722.7v3.31M589.4,722.7v3.31M596.4,722.7v3.31M603.4,722.7v3.31M610.4,722.7v3.31M573.62,726.01H600.23M564.9,726.01v3.31M571.9,726.01v3.31M578.9,726.01v3.31M585.9,726.01v3.31M592.9,726.01v3.31M599.9,726.01v3.31M606.9,726.01v3.31M573.62,729.32H600.23M561.4,729.32v3.31M568.4,729.32v3.31M575.4,729.32v3.31M582.4,729.32v3.31M589.4,729.32v3.31M596.4,729.32v3.31M603.4,729.32v3.31M610.4,729.32v3.31M573.62,732.63H600.23M564.9,732.63v3.31M571.9,732.63v3.31M578.9,732.63v3.31M585.9,732.63v3.31M592.9,732.63v3.31M599.9,732.63v3.31M606.9,732.63v3.31M573.62,735.94H600.23M561.4,735.94v3.31M568.4,735.94v3.31M575.4,735.94v3.31M582.4,735.94v3.31M589.4,735.94v3.31M596.4,735.94v3.31M603.4,735.94v3.31M610.4,735.94v3.31M573.62,739.25H600.23M564.9,739.25v3.31M571.9,739.25v3.31M578.9,739.25v3.31M585.9,739.25v3.31M592.9,739.25v3.31M599.9,739.25v3.31M606.9,739.25v3.31M573.62,742.56H600.23M561.4,742.56v3.31M568.4,742.56v3.31M575.4,742.56v3.31M582.4,742.56v3.31M589.4,742.56v3.31M596.4,742.56v3.31M603.4,742.56v3.31M610.4,742.56v3.31M573.62,745.87H600.23M564.9,745.87v3.31M571.9,745.87v3.31M578.9,745.87v3.31M585.9,745.87v3.31M592.9,745.87v3.31M599.9,745.87v3.31M606.9,745.87v3.31M573.62,749.18H600.23M561.4,749.18v3.31M568.4,749.18v3.31M575.4,749.18v3.31M582.4,749.18v3.31M589.4,749.18v3.31M596.4,749.18v3.31M603.4,749.18v3.31M610.4,749.18v3.31M573.62,752.49H600.23M564.9,752.49v3.31M571.9,752.49v3.31M578.9,752.49v3.31M585.9,752.49v3.31M592.9,752.49v3.31M599.9,752.49v3.31M606.9,752.49v3.31M573.62,755.8H600.23M561.4,755.8v3.31M568.4,755.8v3.31M575.4,755.8v3.31M582.4,755.8v3.31M589.4,755.8v3.31M596.4,755.8v3.31M603.4,755.8v3.31M610.4,755.8v3.31M573.62,759.11H600.23M564.9,759.11v3.31M571.9,759.11v3.31M578.9,759.11v3.31M585.9,759.11v3.31M592.9,759.11v3.31M599.9,759.11v3.31M606.9,759.11v3.31M573.62,762.42H600.23M561.4,762.42v3.31M568.4,762.42v3.31M575.4,762.42v3.31M582.4,762.42v3.31M589.4,762.42v3.31M596.4,762.42v3.31M603.4,762.42v3.31M610.4,762.42v3.31M573.62,765.73H600.23M564.9,765.73v3.31M571.9,765.73v3.31M578.9,765.73v3.31M585.9,765.73v3.31M592.9,765.73v3.31M599.9,765.73v3.31M606.9,765.73v3.31M573.62,769.04H600.23M561.4,769.04v3.31M568.4,769.04v3.31M575.4,769.04v3.31M582.4,769.04v3.31M589.4,769.04v3.31M596.4,769.04v3.31M603.4,769.04v3.31M610.4,769.04v3.31M573.62,772.35H600.23M564.9,772.35v3.31M571.9,772.35v3.31M578.9,772.35v3.31M585.9,772.35v3.31M592.9,772.35v3.31M599.9,772.35v3.31M606.9,772.35v3.31M573.62,775.66H600.23M561.4,775.66v3.31M568.4,775.66v3.31M575.4,775.66v3.31M582.4,775.66v3.31M589.4,775.66v3.31M596.4,775.66v3.31M603.4,775.66v3.31M610.4,775.66v3.31M573.62,778.97H600.23M564.9,778.97v3.31M571.9,778.97v3.31M578.9,778.97v3.31M585.9,778.97v3.31M592.9,778.97v3.31M599.9,778.97v3.31M606.9,778.97v3.31" stroke="#000" stroke-width="1.1" fill="none"/></g>
<rect x="574.62" y="596.50" width="24.60" height="177.30" fill="none" stroke="#000" stroke-width="1.5"/>
<clipPath id="cB33"><rect x="599.22" y="747.00" width="24.60" height="26.80"/></clipPath>
<g clip-path="url(#cB33)"><rect x="599.22" y="747" width="24.6" height="26.8" fill="#4a4a4a"/><g fill="#000"><ellipse cx="598.2" cy="747.06" rx="1.75" ry="1.62"/><ellipse cx="601.52" cy="750.2" rx="1.75" ry="1.62"/><ellipse cx="598.2" cy="753.34" rx="1.75" ry="1.62"/><ellipse cx="601.52" cy="756.48" rx="1.75" ry="1.62"/><ellipse cx="598.2" cy="759.62" rx="1.75" ry="1.62"/><ellipse cx="601.52" cy="762.76" rx="1.75" ry="1.62"/><ellipse cx="598.2" cy="765.9" rx="1.75" ry="1.62"/><ellipse cx="601.52" cy="769.04" rx="1.75" ry="1.62"/><ellipse cx="598.2" cy="772.18" rx="1.75" ry="1.62"/><ellipse cx="601.52" cy="775.32" rx="1.75" ry="1.62"/><ellipse cx="604.85" cy="747.06" rx="1.75" ry="1.62"/><ellipse cx="608.17" cy="750.2" rx="1.75" ry="1.62"/><ellipse cx="604.85" cy="753.34" rx="1.75" ry="1.62"/><ellipse cx="608.17" cy="756.48" rx="1.75" ry="1.62"/><ellipse cx="604.85" cy="759.62" rx="1.75" ry="1.62"/><ellipse cx="608.17" cy="762.76" rx="1.75" ry="1.62"/><ellipse cx="604.85" cy="765.9" rx="1.75" ry="1.62"/><ellipse cx="608.17" cy="769.04" rx="1.75" ry="1.62"/><ellipse cx="604.85" cy="772.18" rx="1.75" ry="1.62"/><ellipse cx="608.17" cy="775.32" rx="1.75" ry="1.62"/><ellipse cx="611.5" cy="747.06" rx="1.75" ry="1.62"/><ellipse cx="614.83" cy="750.2" rx="1.75" ry="1.62"/><ellipse cx="611.5" cy="753.34" rx="1.75" ry="1.62"/><ellipse cx="614.83" cy="756.48" rx="1.75" ry="1.62"/><ellipse cx="611.5" cy="759.62" rx="1.75" ry="1.62"/><ellipse cx="614.83" cy="762.76" rx="1.75" ry="1.62"/><ellipse cx="611.5" cy="765.9" rx="1.75" ry="1.62"/><ellipse cx="614.83" cy="769.04" rx="1.75" ry="1.62"/><ellipse cx="611.5" cy="772.18" rx="1.75" ry="1.62"/><ellipse cx="614.83" cy="775.32" rx="1.75" ry="1.62"/><ellipse cx="618.15" cy="747.06" rx="1.75" ry="1.62"/><ellipse cx="621.48" cy="750.2" rx="1.75" ry="1.62"/><ellipse cx="618.15" cy="753.34" rx="1.75" ry="1.62"/><ellipse cx="621.48" cy="756.48" rx="1.75" ry="1.62"/><ellipse cx="618.15" cy="759.62" rx="1.75" ry="1.62"/><ellipse cx="621.48" cy="762.76" rx="1.75" ry="1.62"/><ellipse cx="618.15" cy="765.9" rx="1.75" ry="1.62"/><ellipse cx="621.48" cy="769.04" rx="1.75" ry="1.62"/><ellipse cx="618.15" cy="772.18" rx="1.75" ry="1.62"/><ellipse cx="621.48" cy="775.32" rx="1.75" ry="1.62"/><ellipse cx="624.8" cy="747.06" rx="1.75" ry="1.62"/><ellipse cx="624.8" cy="753.34" rx="1.75" ry="1.62"/><ellipse cx="624.8" cy="759.62" rx="1.75" ry="1.62"/><ellipse cx="624.8" cy="765.9" rx="1.75" ry="1.62"/><ellipse cx="624.8" cy="772.18" rx="1.75" ry="1.62"/></g><path d="M600.48,746.11h2.1v1.9h-2.1zM597.15,749.25h2.1v1.9h-2.1zM600.48,752.39h2.1v1.9h-2.1zM597.15,755.53h2.1v1.9h-2.1zM600.48,758.67h2.1v1.9h-2.1zM597.15,761.81h2.1v1.9h-2.1zM600.48,764.95h2.1v1.9h-2.1zM597.15,768.09h2.1v1.9h-2.1zM600.48,771.23h2.1v1.9h-2.1zM597.15,774.37h2.1v1.9h-2.1zM607.12,746.11h2.1v1.9h-2.1zM603.8,749.25h2.1v1.9h-2.1zM607.12,752.39h2.1v1.9h-2.1zM603.8,755.53h2.1v1.9h-2.1zM607.12,758.67h2.1v1.9h-2.1zM603.8,761.81h2.1v1.9h-2.1zM607.12,764.95h2.1v1.9h-2.1zM603.8,768.09h2.1v1.9h-2.1zM607.12,771.23h2.1v1.9h-2.1zM603.8,774.37h2.1v1.9h-2.1zM613.78,746.11h2.1v1.9h-2.1zM610.45,749.25h2.1v1.9h-2.1zM613.78,752.39h2.1v1.9h-2.1zM610.45,755.53h2.1v1.9h-2.1zM613.78,758.67h2.1v1.9h-2.1zM610.45,761.81h2.1v1.9h-2.1zM613.78,764.95h2.1v1.9h-2.1zM610.45,768.09h2.1v1.9h-2.1zM613.78,771.23h2.1v1.9h-2.1zM610.45,774.37h2.1v1.9h-2.1zM620.43,746.11h2.1v1.9h-2.1zM617.1,749.25h2.1v1.9h-2.1zM620.43,752.39h2.1v1.9h-2.1zM617.1,755.53h2.1v1.9h-2.1zM620.43,758.67h2.1v1.9h-2.1zM617.1,761.81h2.1v1.9h-2.1zM620.43,764.95h2.1v1.9h-2.1zM617.1,768.09h2.1v1.9h-2.1zM620.43,771.23h2.1v1.9h-2.1zM617.1,774.37h2.1v1.9h-2.1zM623.75,749.25h2.1v1.9h-2.1zM623.75,755.53h2.1v1.9h-2.1zM623.75,761.81h2.1v1.9h-2.1zM623.75,768.09h2.1v1.9h-2.1zM623.75,774.37h2.1v1.9h-2.1z" fill="#fff"/></g>
<rect x="599.22" y="747.00" width="24.60" height="26.80" fill="none" stroke="#000" stroke-width="1.5"/>
<path d="M134.68,746.50V748.60M130.78,746.50h7.8M130.78,748.60h7.8" stroke="#000" stroke-width="1.5" fill="none"/>
<path d="M159.28,745.90V748.00M155.38,745.90h7.8M155.38,748.00h7.8" stroke="#000" stroke-width="1.5" fill="none"/>
<path d="M183.88,748.20V750.30M179.97,748.20h7.8M179.97,750.30h7.8" stroke="#000" stroke-width="1.5" fill="none"/>
<path d="M208.48,745.60V747.80M204.58,745.60h7.8M204.58,747.80h7.8" stroke="#000" stroke-width="1.5" fill="none"/>
<path d="M269.02,650.90V663.00M265.12,650.90h7.8M265.12,663.00h7.8" stroke="#000" stroke-width="1.5" fill="none"/>
<path d="M293.62,602.90V617.60M289.73,602.90h7.8M289.73,617.60h7.8" stroke="#000" stroke-width="1.5" fill="none"/>
<path d="M318.22,637.10V648.90M314.32,637.10h7.8M314.32,648.90h7.8" stroke="#000" stroke-width="1.5" fill="none"/>
<path d="M342.82,745.90V748.30M338.93,745.90h7.8M338.93,748.30h7.8" stroke="#000" stroke-width="1.5" fill="none"/>
<path d="M403.37,578.50V596.90M399.47,578.50h7.8M399.47,596.90h7.8" stroke="#000" stroke-width="1.5" fill="none"/>
<path d="M427.97,541.00V563.20M424.07,541.00h7.8M424.07,563.20h7.8" stroke="#000" stroke-width="1.5" fill="none"/>
<path d="M452.57,591.70V609.30M448.67,591.70h7.8M448.67,609.30h7.8" stroke="#000" stroke-width="1.5" fill="none"/>
<path d="M477.17,745.70V748.10M473.27,745.70h7.8M473.27,748.10h7.8" stroke="#000" stroke-width="1.5" fill="none"/>
<path d="M537.72,546.80V568.70M533.82,546.80h7.8M533.82,568.70h7.8" stroke="#000" stroke-width="1.5" fill="none"/>
<path d="M562.32,563.20V583.20M558.42,563.20h7.8M558.42,583.20h7.8" stroke="#000" stroke-width="1.5" fill="none"/>
<path d="M586.92,587.80V604.70M583.02,587.80h7.8M583.02,604.70h7.8" stroke="#000" stroke-width="1.5" fill="none"/>
<path d="M611.52,745.40V747.80M607.62,745.40h7.8M607.62,747.80h7.8" stroke="#000" stroke-width="1.5" fill="none"/>
<path d="M104.00,463.10H641.40" stroke="#7c7c7c" stroke-width="1.3" fill="none"/>
<path d="M104.00,462.60V773.80M641.40,462.60V773.80" stroke="#333" stroke-width="1.3" fill="none"/>
<path d="M98.00,773.80H646.90" stroke="#333" stroke-width="1.3" fill="none"/>
<path d="M97.80,463.10H110.50M97.80,501.94H110.50M97.80,540.77H110.50M97.80,579.61H110.50M97.80,618.45H110.50M97.80,657.29H110.50M97.80,696.12H110.50M97.80,734.96H110.50M97.80,773.80H110.50M636.20,491.35H646.80M636.20,547.84H646.80M636.20,604.33H646.80M636.20,660.82H646.80M636.20,717.31H646.80M636.20,773.80H646.80M104.00,768.20V779.20M238.35,768.20V779.20M372.70,768.20V779.20M507.05,768.20V779.20M641.40,768.20V779.20" stroke="#333" stroke-width="1.1" fill="none"/>
<polyline points="171.18,509.20 305.52,488.50 439.88,470.00 574.22,473.00" fill="none" stroke="#000" stroke-width="2.8" stroke-dasharray="6.5 6.9" stroke-linecap="round" stroke-linejoin="round"/>
<path d="M171.18,503.30L177.38,515.00H164.98Z" fill="#000"/>
<path d="M305.52,482.60L311.72,494.30H299.32Z" fill="#000"/>
<path d="M439.88,464.10L446.07,475.80H433.68Z" fill="#000"/>
<path d="M574.22,467.10L580.42,478.80H568.02Z" fill="#000"/>
<polyline points="171.18,511.60 305.52,500.40 439.88,466.30 574.22,472.50" fill="none" stroke="#000" stroke-width="3.2" stroke-linejoin="round" stroke-linecap="round"/>
<path d="M171.18,505.70L177.28,511.60L171.18,517.50L165.08,511.60Z" fill="#fff" stroke="#222" stroke-width="0.9"/>
<path d="M305.52,494.50L311.62,500.40L305.52,506.30L299.42,500.40Z" fill="#fff" stroke="#222" stroke-width="0.9"/>
<path d="M439.88,460.40L445.98,466.30L439.88,472.20L433.77,466.30Z" fill="#fff" stroke="#222" stroke-width="0.9"/>
<path d="M574.22,466.60L580.32,472.50L574.22,478.40L568.12,472.50Z" fill="#fff" stroke="#222" stroke-width="0.9"/>
<polyline points="171.18,514.20 305.52,497.50 439.88,494.20 574.22,483.80" fill="none" stroke="#000" stroke-width="3.5" stroke-linejoin="round" stroke-linecap="round"/>
<polyline points="171.18,514.20 305.52,497.50 439.88,494.20 574.22,483.80" fill="none" stroke="#fff" stroke-width="1.0" stroke-dasharray="1.2 2.0"/>
<path d="M164.58,508.10L177.78,520.30M164.58,520.30L177.78,508.10M171.18,508.00V520.40" stroke="#333" stroke-width="0.8" fill="none"/>
<path d="M298.92,491.40L312.12,503.60M298.92,503.60L312.12,491.40M305.52,491.30V503.70" stroke="#333" stroke-width="0.8" fill="none"/>
<path d="M433.27,488.10L446.48,500.30M433.27,500.30L446.48,488.10M439.88,488.00V500.40" stroke="#333" stroke-width="0.8" fill="none"/>
<path d="M567.62,477.70L580.82,489.90M567.62,489.90L580.82,477.70M574.22,477.60V490.00" stroke="#333" stroke-width="0.8" fill="none"/>
<path d="M171.18,515.50L305.52,774.00" fill="none" stroke="#000" stroke-width="3.0" stroke-dasharray="20.5 14.8" stroke-linecap="round"/>
<path d="M305.52,774.00L574.22,774.00" fill="none" stroke="#000" stroke-width="3.0" stroke-dasharray="21.9 14.9" stroke-dashoffset="10" stroke-linecap="round"/>
<ellipse cx="171.18" cy="515.50" rx="6.5" ry="5.8" fill="#000"/>
<ellipse cx="305.52" cy="774.00" rx="6.5" ry="5.8" fill="#000"/>
<ellipse cx="439.88" cy="774.00" rx="6.5" ry="5.8" fill="#000"/>
<ellipse cx="574.22" cy="774.00" rx="6.5" ry="5.8" fill="#000"/>
<g font-family='"Liberation Serif", "Times New Roman", serif' font-weight="bold" fill="#000">
<text transform="translate(9.20,450.00)" font-size="22.3" text-anchor="start">B</text>
<text transform="translate(88.50,468.80) scale(1.2,1)" font-size="17.0" text-anchor="end">2.400</text>
<text transform="translate(88.50,507.64) scale(1.2,1)" font-size="17.0" text-anchor="end">2.100</text>
<text transform="translate(88.50,546.48) scale(1.2,1)" font-size="17.0" text-anchor="end">1.800</text>
<text transform="translate(88.50,585.31) scale(1.2,1)" font-size="17.0" text-anchor="end">1.500</text>
<text transform="translate(88.50,624.15) scale(1.2,1)" font-size="17.0" text-anchor="end">1.200</text>
<text transform="translate(88.50,662.99) scale(1.2,1)" font-size="17.0" text-anchor="end">0.900</text>
<text transform="translate(88.50,701.83) scale(1.2,1)" font-size="17.0" text-anchor="end">0.600</text>
<text transform="translate(88.50,740.66) scale(1.2,1)" font-size="17.0" text-anchor="end">0.300</text>
<text transform="translate(88.50,779.50) scale(1.2,1)" font-size="17.0" text-anchor="end">0.000</text>
<text transform="translate(655.60,497.05) scale(1.165,1)" font-size="17.0" text-anchor="start">1.00E+10</text>
<text transform="translate(655.60,553.54) scale(1.165,1)" font-size="17.0" text-anchor="start">1.00E+08</text>
<text transform="translate(655.60,610.03) scale(1.165,1)" font-size="17.0" text-anchor="start">1.00E+06</text>
<text transform="translate(655.60,666.52) scale(1.165,1)" font-size="17.0" text-anchor="start">1.00E+04</text>
<text transform="translate(655.60,723.01) scale(1.165,1)" font-size="17.0" text-anchor="start">1.00E+02</text>
<text transform="translate(655.60,779.50) scale(1.165,1)" font-size="17.0" text-anchor="start">1.00E+00</text>
<text transform="translate(171.18,808.00) scale(1.14,1)" font-size="16.8" text-anchor="middle">0</text>
<text transform="translate(305.52,808.00) scale(1.14,1)" font-size="16.8" text-anchor="middle">8</text>
<text transform="translate(439.57,808.00) scale(1.14,1)" font-size="16.8" text-anchor="middle">16</text>
<text transform="translate(573.92,808.00) scale(1.14,1)" font-size="16.8" text-anchor="middle">24</text>
<text transform="translate(379.20,836.10) scale(1.145,1)" font-size="16.8" text-anchor="middle">Time (hour)</text>
<text transform="translate(14.00,700.80) rotate(-90) scale(0.987,1)" font-size="17.3" text-anchor="start">Optical Density (A<tspan font-size="13" dy="3.6">590</tspan><tspan dy="-3.6">)</tspan></text>
<text transform="translate(760.60,736.40) rotate(-90) scale(1.014,1)" font-size="17.7" text-anchor="start">Colony forming unit (cfu/ml)</text>
<text transform="translate(134.30,729.40) scale(1.14,1)" font-size="15.3" text-anchor="middle">A</text>
<text transform="translate(159.30,729.40) scale(1.14,1)" font-size="15.3" text-anchor="middle">B</text>
<text transform="translate(183.30,729.40) scale(1.14,1)" font-size="15.3" text-anchor="middle">C</text>
<text transform="translate(208.80,729.40) scale(1.14,1)" font-size="15.3" text-anchor="middle">D</text>
</g>
<g font-family='"Noto Serif CJK SC", "Liberation Serif", serif' font-weight="bold" fill="#000" stroke="#000" stroke-width="0.75">
<text transform="translate(263.45,652.65)" font-size="20.6" text-anchor="start">*</text>
<text transform="translate(287.25,603.65)" font-size="20.6" text-anchor="start">*</text>
<text transform="translate(311.35,637.75)" font-size="20.6" text-anchor="start">*</text>
<text transform="translate(396.25,580.25)" font-size="20.6" text-anchor="start">*</text>
<text transform="translate(421.65,539.85)" font-size="20.6" text-anchor="start">*</text>
<text transform="translate(448.25,592.75)" font-size="20.6" text-anchor="start">*</text>
<text transform="translate(532.75,544.85)" font-size="20.6" text-anchor="start">*</text>
<text transform="translate(556.25,562.55)" font-size="20.6" text-anchor="start">*</text>
<text transform="translate(580.25,589.15)" font-size="20.6" text-anchor="start">*</text>
<text transform="translate(297.85,487.45)" font-size="20.6" text-anchor="start">*</text>
<text transform="translate(433.75,465.15)" font-size="20.6" text-anchor="start">*</text>
<text transform="translate(567.35,467.55)" font-size="20.6" text-anchor="start">*</text>
</g>
</g>
</svg></body></html>
